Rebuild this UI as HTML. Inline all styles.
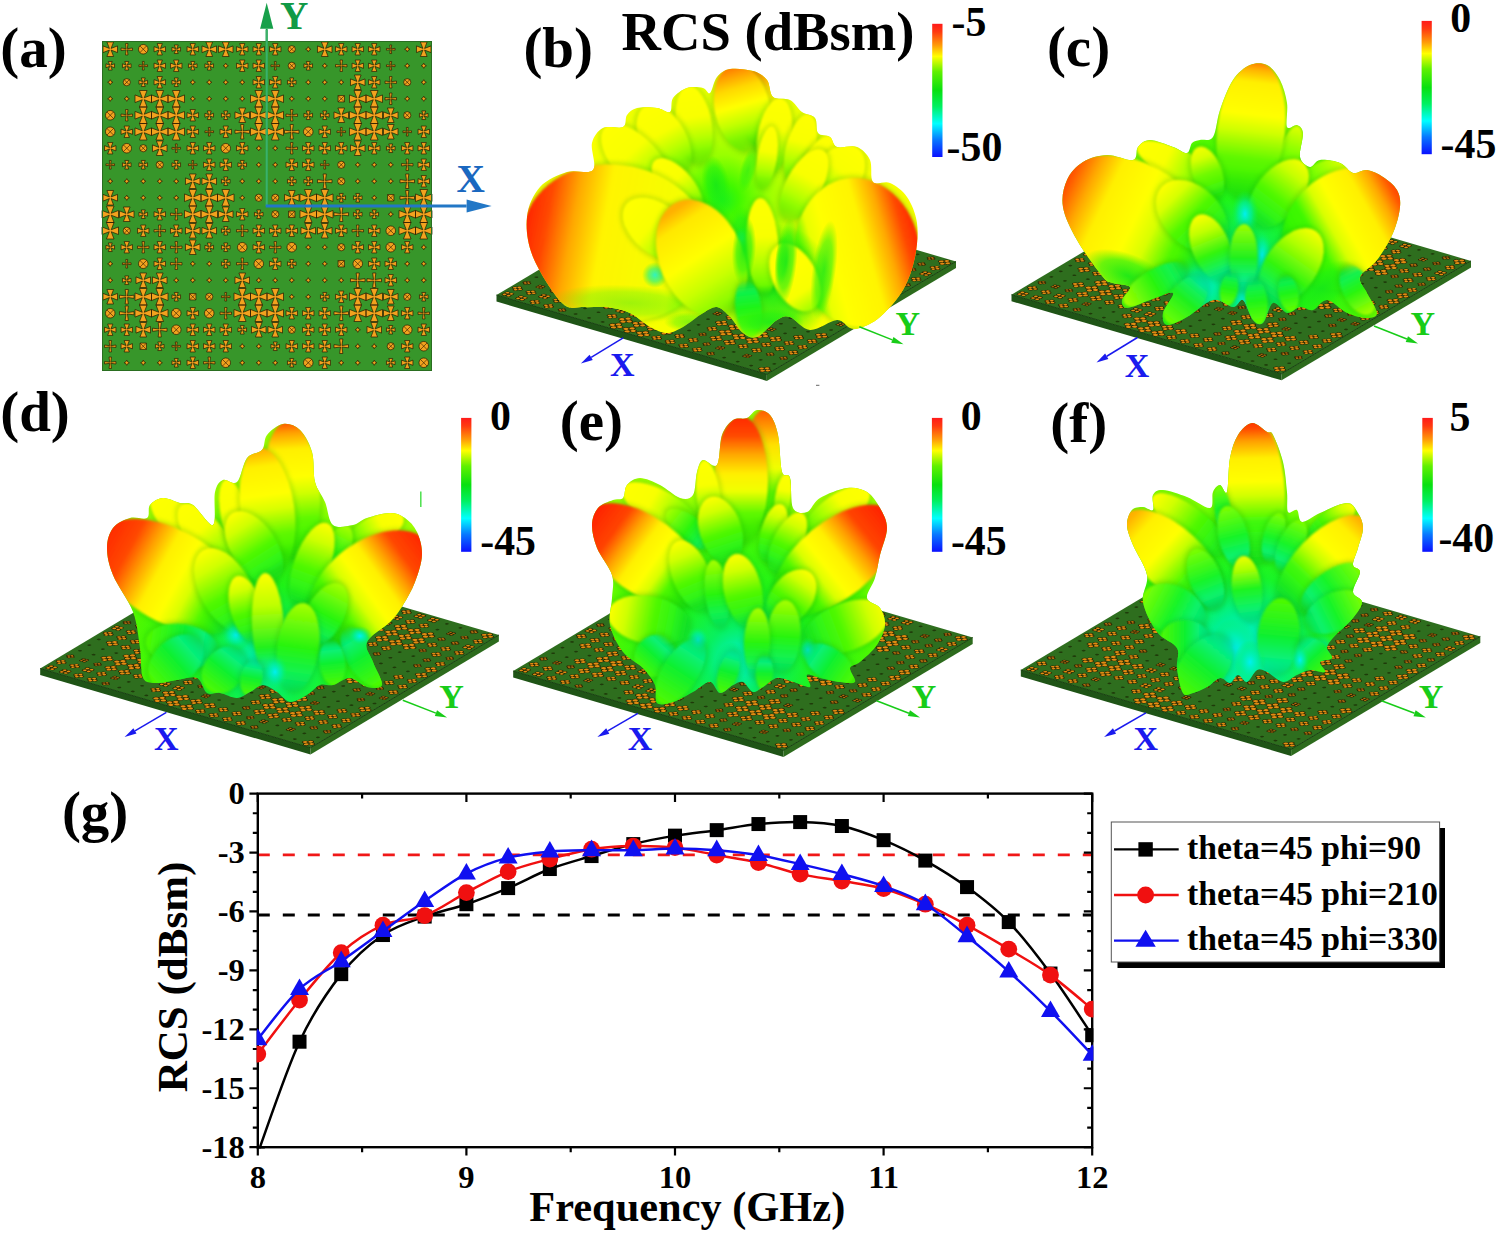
<!DOCTYPE html>
<html><head><meta charset="utf-8"><title>Figure</title>
<style>
html,body{margin:0;padding:0;background:#fff}
svg{display:block}
text{font-family:"Liberation Serif",serif;font-weight:bold;fill:#000}
.pl{font-size:57px}
.cb{font-size:41.8px}
.tt{font-size:54.6px}
.tk{font-size:32.5px}
.axt{font-size:42.4px}
.lg{font-size:33.7px}
.ax{font-size:34px}
</style></head><body>
<svg width="1500" height="1234" viewBox="0 0 1500 1234">
<defs>
<linearGradient id="jet" x1="0" y1="0" x2="0" y2="1">
<stop offset="0" stop-color="#ff1a1a"/><stop offset="0.06" stop-color="#ff3a10"/><stop offset="0.16" stop-color="#ff9a08"/><stop offset="0.245" stop-color="#ffff00"/><stop offset="0.36" stop-color="#60f000"/><stop offset="0.5" stop-color="#08e010"/><stop offset="0.62" stop-color="#00f060"/><stop offset="0.75" stop-color="#00ffff"/><stop offset="0.87" stop-color="#0878ff"/><stop offset="1" stop-color="#0a10ff"/>
</linearGradient>
<radialGradient id="baseb" gradientUnits="userSpaceOnUse" cx="722" cy="200" r="140"><stop offset="0" stop-color="#18f020"/><stop offset="0.12" stop-color="#40f800"/><stop offset="0.32" stop-color="#98ff00"/><stop offset="0.6" stop-color="#d8ff00"/><stop offset="1" stop-color="#f8ff00"/></radialGradient><radialGradient id="basec" gradientUnits="userSpaceOnUse" cx="1235" cy="275" r="170"><stop offset="0" stop-color="#00f0d0"/><stop offset="0.2" stop-color="#08f060"/><stop offset="0.45" stop-color="#20f418"/><stop offset="0.8" stop-color="#50f800"/><stop offset="1" stop-color="#a0ff00"/></radialGradient><radialGradient id="based" gradientUnits="userSpaceOnUse" cx="265" cy="660" r="170"><stop offset="0" stop-color="#00f0d0"/><stop offset="0.2" stop-color="#08f060"/><stop offset="0.45" stop-color="#20f418"/><stop offset="0.8" stop-color="#50f800"/><stop offset="1" stop-color="#a0ff00"/></radialGradient><radialGradient id="basee" gradientUnits="userSpaceOnUse" cx="740" cy="660" r="170"><stop offset="0" stop-color="#00f0d0"/><stop offset="0.2" stop-color="#08f060"/><stop offset="0.45" stop-color="#20f418"/><stop offset="0.8" stop-color="#50f800"/><stop offset="1" stop-color="#a0ff00"/></radialGradient><radialGradient id="basef" gradientUnits="userSpaceOnUse" cx="1245" cy="650" r="150"><stop offset="0" stop-color="#00f0e0"/><stop offset="0.25" stop-color="#00f090"/><stop offset="0.5" stop-color="#18f428"/><stop offset="0.85" stop-color="#40f800"/><stop offset="1" stop-color="#80ff00"/></radialGradient>
<radialGradient id="spC"><stop offset="0" stop-color="#00f0f0" stop-opacity="1"/><stop offset="0.5" stop-color="#00f0a0" stop-opacity="0.7"/><stop offset="1" stop-color="#10f040" stop-opacity="0"/></radialGradient><radialGradient id="spG"><stop offset="0" stop-color="#18e818" stop-opacity="1"/><stop offset="0.6" stop-color="#20f010" stop-opacity="0.7"/><stop offset="1" stop-color="#30f000" stop-opacity="0"/></radialGradient><radialGradient id="spY"><stop offset="0" stop-color="#ffff00" stop-opacity="1"/><stop offset="0.6" stop-color="#f4ff00" stop-opacity="0.7"/><stop offset="1" stop-color="#d0ff00" stop-opacity="0"/></radialGradient><radialGradient id="spO"><stop offset="0" stop-color="#ff8000" stop-opacity="0.9"/><stop offset="0.6" stop-color="#ffa800" stop-opacity="0.6"/><stop offset="1" stop-color="#ffd000" stop-opacity="0"/></radialGradient><radialGradient id="spR"><stop offset="0" stop-color="#ff2000" stop-opacity="1"/><stop offset="0.6" stop-color="#ff5000" stop-opacity="0.7"/><stop offset="1" stop-color="#ff9000" stop-opacity="0"/></radialGradient><radialGradient id="spD"><stop offset="0" stop-color="#0c8c00" stop-opacity="0.8"/><stop offset="0.6" stop-color="#0c9c00" stop-opacity="0.45"/><stop offset="1" stop-color="#10a000" stop-opacity="0"/></radialGradient><filter id="b1" x="-20%" y="-20%" width="140%" height="140%"><feGaussianBlur stdDeviation="0.8"/></filter><filter id="b2" x="-30%" y="-30%" width="160%" height="160%"><feGaussianBlur stdDeviation="2.5"/></filter><filter id="b4" x="-30%" y="-30%" width="160%" height="160%"><feGaussianBlur stdDeviation="4"/></filter>
<g id="pat"><path d="M7.38,7.38 4.91,0.99 11.59,0.99 9.12,7.38 15.51,4.91 15.51,11.59 9.12,9.12 11.59,15.51 4.91,15.51 7.38,9.12 0.99,11.59 0.99,4.91ZM24.18,7.68 23.5,2.56 26,2.56 25.32,7.68 30.44,7 30.44,9.5 25.32,8.82 26,13.94 23.5,13.94 24.18,8.82 19.06,9.5 19.06,7ZM36.47,8.25a4.78,4.78 0 1,0 9.56,0a4.78,4.78 0 1,0 -9.56,0ZM57.07,7.57 55.13,2.56 60.37,2.56 58.43,7.57 63.44,5.63 63.44,10.87 58.43,8.93 60.37,13.94 55.13,13.94 57.07,8.93 52.06,10.87 52.06,5.63ZM73.74,7.74 72.28,3.96 76.22,3.96 74.76,7.74 78.54,6.28 78.54,10.22 74.76,8.76 76.22,12.54 72.28,12.54 73.74,8.76 69.96,10.22 69.96,6.28ZM90.07,7.57 88.13,2.56 93.37,2.56 91.43,7.57 96.44,5.63 96.44,10.87 91.43,8.93 93.37,13.94 88.13,13.94 90.07,8.93 85.06,10.87 85.06,5.63ZM106.38,7.38 103.91,0.99 110.59,0.99 108.12,7.38 114.51,4.91 114.51,11.59 108.12,9.12 110.59,15.51 103.91,15.51 106.38,9.12 99.99,11.59 99.99,4.91ZM122.88,7.38 120.41,0.99 127.09,0.99 124.62,7.38 131.01,4.91 131.01,11.59 124.62,9.12 127.09,15.51 120.41,15.51 122.88,9.12 116.49,11.59 116.49,4.91ZM139.57,7.57 137.63,2.56 142.87,2.56 140.93,7.57 145.94,5.63 145.94,10.87 140.93,8.93 142.87,13.94 137.63,13.94 139.57,8.93 134.56,10.87 134.56,5.63ZM156.07,7.57 154.13,2.56 159.37,2.56 157.43,7.57 162.44,5.63 162.44,10.87 157.43,8.93 159.37,13.94 154.13,13.94 156.07,8.93 151.06,10.87 151.06,5.63ZM172.57,7.57 170.63,2.56 175.87,2.56 173.93,7.57 178.94,5.63 178.94,10.87 173.93,8.93 175.87,13.94 170.63,13.94 172.57,8.93 167.56,10.87 167.56,5.63ZM186.15,8.25a3.6,3.6 0 1,0 7.21,0a3.6,3.6 0 1,0 -7.21,0ZM206.25,5.61 207.17,7.33 208.89,8.25 207.17,9.17 206.25,10.89 205.33,9.17 203.61,8.25 205.33,7.33ZM221.88,7.38 219.41,0.99 226.09,0.99 223.62,7.38 230.01,4.91 230.01,11.59 223.62,9.12 226.09,15.51 219.41,15.51 221.88,9.12 215.49,11.59 215.49,4.91ZM238.57,7.57 236.63,2.56 241.87,2.56 239.93,7.57 244.94,5.63 244.94,10.87 239.93,8.93 241.87,13.94 236.63,13.94 238.57,8.93 233.56,10.87 233.56,5.63ZM255.07,7.57 253.13,2.56 258.37,2.56 256.43,7.57 261.44,5.63 261.44,10.87 256.43,8.93 258.37,13.94 253.13,13.94 255.07,8.93 250.06,10.87 250.06,5.63ZM271.57,7.57 269.63,2.56 274.87,2.56 272.93,7.57 277.94,5.63 277.94,10.87 272.93,8.93 274.87,13.94 269.63,13.94 271.57,8.93 266.56,10.87 266.56,5.63ZM288.32,7.82 287.81,3.96 289.69,3.96 289.18,7.82 293.04,7.31 293.04,9.19 289.18,8.68 289.69,12.54 287.81,12.54 288.32,8.68 284.46,9.19 284.46,7.31ZM305.25,5.61 306.17,7.33 307.89,8.25 306.17,9.17 305.25,10.89 304.33,9.17 302.61,8.25 304.33,7.33ZM320.88,7.38 318.41,0.99 325.09,0.99 322.62,7.38 329.01,4.91 329.01,11.59 322.62,9.12 325.09,15.51 318.41,15.51 320.88,9.12 314.49,11.59 314.49,4.91ZM7.74,24.24 6.28,20.46 10.22,20.46 8.76,24.24 12.54,22.78 12.54,26.72 8.76,25.26 10.22,29.04 6.28,29.04 7.74,25.26 3.96,26.72 3.96,22.78ZM24.24,24.24 22.78,20.46 26.72,20.46 25.26,24.24 29.04,22.78 29.04,26.72 25.26,25.26 26.72,29.04 22.78,29.04 24.24,25.26 20.46,26.72 20.46,22.78ZM40.82,24.32 40.31,20.46 42.19,20.46 41.68,24.32 45.54,23.81 45.54,25.69 41.68,25.18 42.19,29.04 40.31,29.04 40.82,25.18 36.96,25.69 36.96,23.81ZM57.07,24.07 55.13,19.06 60.37,19.06 58.43,24.07 63.44,22.13 63.44,27.37 58.43,25.43 60.37,30.44 55.13,30.44 57.07,25.43 52.06,27.37 52.06,22.13ZM73.57,24.07 71.63,19.06 76.87,19.06 74.93,24.07 79.94,22.13 79.94,27.37 74.93,25.43 76.87,30.44 71.63,30.44 73.57,25.43 68.56,27.37 68.56,22.13ZM90.24,24.24 88.78,20.46 92.72,20.46 91.26,24.24 95.04,22.78 95.04,26.72 91.26,25.26 92.72,29.04 88.78,29.04 90.24,25.26 86.46,26.72 86.46,22.78ZM106.74,24.24 105.28,20.46 109.22,20.46 107.76,24.24 111.54,22.78 111.54,26.72 107.76,25.26 109.22,29.04 105.28,29.04 106.74,25.26 102.96,26.72 102.96,22.78ZM123.75,22.11 124.67,23.83 126.39,24.75 124.67,25.67 123.75,27.39 122.83,25.67 121.11,24.75 122.83,23.83ZM139.57,24.07 137.63,19.06 142.87,19.06 140.93,24.07 145.94,22.13 145.94,27.37 140.93,25.43 142.87,30.44 137.63,30.44 139.57,25.43 134.56,27.37 134.56,22.13ZM156.07,24.07 154.13,19.06 159.37,19.06 157.43,24.07 162.44,22.13 162.44,27.37 157.43,25.43 159.37,30.44 154.13,30.44 156.07,25.43 151.06,27.37 151.06,22.13ZM172.82,24.32 172.31,20.46 174.19,20.46 173.68,24.32 177.54,23.81 177.54,25.69 173.68,25.18 174.19,29.04 172.31,29.04 172.82,25.18 168.96,25.69 168.96,23.81ZM186.15,24.75a3.6,3.6 0 1,0 7.21,0a3.6,3.6 0 1,0 -7.21,0ZM205.74,24.24 204.28,20.46 208.22,20.46 206.76,24.24 210.54,22.78 210.54,26.72 206.76,25.26 208.22,29.04 204.28,29.04 205.74,25.26 201.96,26.72 201.96,22.78ZM222.75,22.11 223.67,23.83 225.39,24.75 223.67,25.67 222.75,27.39 221.83,25.67 220.11,24.75 221.83,23.83ZM238.68,24.18 238,19.06 240.5,19.06 239.82,24.18 244.94,23.5 244.94,26 239.82,25.32 240.5,30.44 238,30.44 238.68,25.32 233.56,26 233.56,23.5ZM255.07,24.07 253.13,19.06 258.37,19.06 256.43,24.07 261.44,22.13 261.44,27.37 256.43,25.43 258.37,30.44 253.13,30.44 255.07,25.43 250.06,27.37 250.06,22.13ZM271.57,24.07 269.63,19.06 274.87,19.06 272.93,24.07 277.94,22.13 277.94,27.37 272.93,25.43 274.87,30.44 269.63,30.44 271.57,25.43 266.56,27.37 266.56,22.13ZM288.32,24.32 287.81,20.46 289.69,20.46 289.18,24.32 293.04,23.81 293.04,25.69 289.18,25.18 289.69,29.04 287.81,29.04 288.32,25.18 284.46,25.69 284.46,23.81ZM305.25,22.11 306.17,23.83 307.89,24.75 306.17,25.67 305.25,27.39 304.33,25.67 302.61,24.75 304.33,23.83ZM321.75,22.11 322.67,23.83 324.39,24.75 322.67,25.67 321.75,27.39 320.83,25.67 319.11,24.75 320.83,23.83ZM8.25,38.61 9.17,40.33 10.89,41.25 9.17,42.17 8.25,43.89 7.33,42.17 5.61,41.25 7.33,40.33ZM21.15,41.25a3.6,3.6 0 1,0 7.21,0a3.6,3.6 0 1,0 -7.21,0ZM40.74,40.74 39.28,36.96 43.22,36.96 41.76,40.74 45.54,39.28 45.54,43.22 41.76,41.76 43.22,45.54 39.28,45.54 40.74,41.76 36.96,43.22 36.96,39.28ZM57.07,40.57 55.13,35.56 60.37,35.56 58.43,40.57 63.44,38.63 63.44,43.87 58.43,41.93 60.37,46.94 55.13,46.94 57.07,41.93 52.06,43.87 52.06,38.63ZM73.74,40.74 72.28,36.96 76.22,36.96 74.76,40.74 78.54,39.28 78.54,43.22 74.76,41.76 76.22,45.54 72.28,45.54 73.74,41.76 69.96,43.22 69.96,39.28ZM90.75,38.61 91.67,40.33 93.39,41.25 91.67,42.17 90.75,43.89 89.83,42.17 88.11,41.25 89.83,40.33ZM107.25,38.61 108.17,40.33 109.89,41.25 108.17,42.17 107.25,43.89 106.33,42.17 104.61,41.25 106.33,40.33ZM123.75,38.61 124.67,40.33 126.39,41.25 124.67,42.17 123.75,43.89 122.83,42.17 121.11,41.25 122.83,40.33ZM140.25,38.61 141.17,40.33 142.89,41.25 141.17,42.17 140.25,43.89 139.33,42.17 137.61,41.25 139.33,40.33ZM156.07,40.57 154.13,35.56 159.37,35.56 157.43,40.57 162.44,38.63 162.44,43.87 157.43,41.93 159.37,46.94 154.13,46.94 156.07,41.93 151.06,43.87 151.06,38.63ZM172.57,40.57 170.63,35.56 175.87,35.56 173.93,40.57 178.94,38.63 178.94,43.87 173.93,41.93 175.87,46.94 170.63,46.94 172.57,41.93 167.56,43.87 167.56,38.63ZM189.24,40.74 187.78,36.96 191.72,36.96 190.26,40.74 194.04,39.28 194.04,43.22 190.26,41.76 191.72,45.54 187.78,45.54 189.24,41.76 185.46,43.22 185.46,39.28ZM206.25,38.61 207.17,40.33 208.89,41.25 207.17,42.17 206.25,43.89 205.33,42.17 203.61,41.25 205.33,40.33ZM222.75,38.61 223.67,40.33 225.39,41.25 223.67,42.17 222.75,43.89 221.83,42.17 220.11,41.25 221.83,40.33ZM239.25,38.61 240.17,40.33 241.89,41.25 240.17,42.17 239.25,43.89 238.33,42.17 236.61,41.25 238.33,40.33ZM254.88,40.38 252.41,33.99 259.09,33.99 256.62,40.38 263.01,37.91 263.01,44.59 256.62,42.12 259.09,48.51 252.41,48.51 254.88,42.12 248.49,44.59 248.49,37.91ZM271.57,40.57 269.63,35.56 274.87,35.56 272.93,40.57 277.94,38.63 277.94,43.87 272.93,41.93 274.87,46.94 269.63,46.94 271.57,41.93 266.56,43.87 266.56,38.63ZM288.18,40.68 287.5,35.56 290,35.56 289.32,40.68 294.44,40 294.44,42.5 289.32,41.82 290,46.94 287.5,46.94 288.18,41.82 283.06,42.5 283.06,40ZM301.65,41.25a3.6,3.6 0 1,0 7.21,0a3.6,3.6 0 1,0 -7.21,0ZM321.75,38.61 322.67,40.33 324.39,41.25 322.67,42.17 321.75,43.89 320.83,42.17 319.11,41.25 320.83,40.33ZM8.25,55.11 9.17,56.83 10.89,57.75 9.17,58.67 8.25,60.39 7.33,58.67 5.61,57.75 7.33,56.83ZM24.75,55.11 25.67,56.83 27.39,57.75 25.67,58.67 24.75,60.39 23.83,58.67 22.11,57.75 23.83,56.83ZM40.26,56.76 37.45,49.5 45.05,49.5 42.24,56.76 49.5,53.95 49.5,61.55 42.24,58.74 45.05,66 37.45,66 40.26,58.74 33,61.55 33,53.95ZM56.76,56.76 53.95,49.5 61.55,49.5 58.74,56.76 66,53.95 66,61.55 58.74,58.74 61.55,66 53.95,66 56.76,58.74 49.5,61.55 49.5,53.95ZM73.26,56.76 70.45,49.5 78.05,49.5 75.24,56.76 82.5,53.95 82.5,61.55 75.24,58.74 78.05,66 70.45,66 73.26,58.74 66,61.55 66,53.95ZM90.75,55.11 91.67,56.83 93.39,57.75 91.67,58.67 90.75,60.39 89.83,58.67 88.11,57.75 89.83,56.83ZM107.25,55.11 108.17,56.83 109.89,57.75 108.17,58.67 107.25,60.39 106.33,58.67 104.61,57.75 106.33,56.83ZM123.75,55.11 124.67,56.83 126.39,57.75 124.67,58.67 123.75,60.39 122.83,58.67 121.11,57.75 122.83,56.83ZM140.25,55.11 141.17,56.83 142.89,57.75 141.17,58.67 140.25,60.39 139.33,58.67 137.61,57.75 139.33,56.83ZM155.76,56.76 152.96,49.5 160.54,49.5 157.74,56.76 165,53.95 165,61.55 157.74,58.74 160.54,66 152.96,66 155.76,58.74 148.5,61.55 148.5,53.95ZM172.26,56.76 169.46,49.5 177.04,49.5 174.24,56.76 181.5,53.95 181.5,61.55 174.24,58.74 177.04,66 169.46,66 172.26,58.74 165,61.55 165,53.95ZM189.75,55.11 190.67,56.83 192.39,57.75 190.67,58.67 189.75,60.39 188.83,58.67 187.11,57.75 188.83,56.83ZM206.25,55.11 207.17,56.83 208.89,57.75 207.17,58.67 206.25,60.39 205.33,58.67 203.61,57.75 205.33,56.83ZM222.75,55.11 223.67,56.83 225.39,57.75 223.67,58.67 222.75,60.39 221.83,58.67 220.11,57.75 221.83,56.83ZM236.08,54.58h6.35v6.35h-6.35ZM254.76,56.76 251.96,49.5 259.55,49.5 256.74,56.76 264,53.95 264,61.55 256.74,58.74 259.55,66 251.96,66 254.76,58.74 247.5,61.55 247.5,53.95ZM271.26,56.76 268.45,49.5 276.05,49.5 273.24,56.76 280.5,53.95 280.5,61.55 273.24,58.74 276.05,66 268.45,66 271.26,58.74 264,61.55 264,53.95ZM288.18,57.18 287.5,52.06 290,52.06 289.32,57.18 294.44,56.5 294.44,59 289.32,58.32 290,63.44 287.5,63.44 288.18,58.32 283.06,59 283.06,56.5ZM305.25,55.11 306.17,56.83 307.89,57.75 306.17,58.67 305.25,60.39 304.33,58.67 302.61,57.75 304.33,56.83ZM321.75,55.11 322.67,56.83 324.39,57.75 322.67,58.67 321.75,60.39 320.83,58.67 319.11,57.75 320.83,56.83ZM3.47,74.25a4.78,4.78 0 1,0 9.56,0a4.78,4.78 0 1,0 -9.56,0ZM24.18,73.68 23.5,68.56 26,68.56 25.32,73.68 30.44,73 30.44,75.5 25.32,74.82 26,79.94 23.5,79.94 24.18,74.82 19.06,75.5 19.06,73ZM40.26,73.26 37.45,66 45.05,66 42.24,73.26 49.5,70.45 49.5,78.05 42.24,75.24 45.05,82.5 37.45,82.5 40.26,75.24 33,78.05 33,70.45ZM56.76,73.26 53.95,66 61.55,66 58.74,73.26 66,70.45 66,78.05 58.74,75.24 61.55,82.5 53.95,82.5 56.76,75.24 49.5,78.05 49.5,70.45ZM73.26,73.26 70.45,66 78.05,66 75.24,73.26 82.5,70.45 82.5,78.05 75.24,75.24 78.05,82.5 70.45,82.5 73.26,75.24 66,78.05 66,70.45ZM90.07,73.57 88.13,68.56 93.37,68.56 91.43,73.57 96.44,71.63 96.44,76.87 91.43,74.93 93.37,79.94 88.13,79.94 90.07,74.93 85.06,76.87 85.06,71.63ZM106.74,73.74 105.28,69.96 109.22,69.96 107.76,73.74 111.54,72.28 111.54,76.22 107.76,74.76 109.22,78.54 105.28,78.54 106.74,74.76 102.96,76.22 102.96,72.28ZM123.24,73.74 121.78,69.96 125.72,69.96 124.26,73.74 128.04,72.28 128.04,76.22 124.26,74.76 125.72,78.54 121.78,78.54 123.24,74.76 119.46,76.22 119.46,72.28ZM139.38,73.38 136.91,66.99 143.59,66.99 141.12,73.38 147.51,70.91 147.51,77.59 141.12,75.12 143.59,81.51 136.91,81.51 139.38,75.12 132.99,77.59 132.99,70.91ZM155.76,73.26 152.96,66 160.54,66 157.74,73.26 165,70.45 165,78.05 157.74,75.24 160.54,82.5 152.96,82.5 155.76,75.24 148.5,78.05 148.5,70.45ZM172.26,73.26 169.46,66 177.04,66 174.24,73.26 181.5,70.45 181.5,78.05 174.24,75.24 177.04,82.5 169.46,82.5 172.26,75.24 165,78.05 165,70.45ZM189.18,73.68 188.5,68.56 191,68.56 190.32,73.68 195.44,73 195.44,75.5 190.32,74.82 191,79.94 188.5,79.94 189.18,74.82 184.06,75.5 184.06,73ZM205.74,73.74 204.28,69.96 208.22,69.96 206.76,73.74 210.54,72.28 210.54,76.22 206.76,74.76 208.22,78.54 204.28,78.54 205.74,74.76 201.96,76.22 201.96,72.28ZM222.24,73.74 220.78,69.96 224.72,69.96 223.26,73.74 227.04,72.28 227.04,76.22 223.26,74.76 224.72,78.54 220.78,78.54 222.24,74.76 218.46,76.22 218.46,72.28ZM238.38,73.38 235.91,66.99 242.59,66.99 240.12,73.38 246.51,70.91 246.51,77.59 240.12,75.12 242.59,81.51 235.91,81.51 238.38,75.12 231.99,77.59 231.99,70.91ZM254.76,73.26 251.96,66 259.55,66 256.74,73.26 264,70.45 264,78.05 256.74,75.24 259.55,82.5 251.96,82.5 254.76,75.24 247.5,78.05 247.5,70.45ZM271.26,73.26 268.45,66 276.05,66 273.24,73.26 280.5,70.45 280.5,78.05 273.24,75.24 276.05,82.5 268.45,82.5 271.26,75.24 264,78.05 264,70.45ZM287.88,73.38 285.41,66.99 292.09,66.99 289.62,73.38 296.01,70.91 296.01,77.59 289.62,75.12 292.09,81.51 285.41,81.51 287.88,75.12 281.49,77.59 281.49,70.91ZM301.65,74.25a3.6,3.6 0 1,0 7.21,0a3.6,3.6 0 1,0 -7.21,0ZM321.24,73.74 319.78,69.96 323.72,69.96 322.26,73.74 326.04,72.28 326.04,76.22 322.26,74.76 323.72,78.54 319.78,78.54 321.24,74.76 317.46,76.22 317.46,72.28ZM3.47,90.75a4.78,4.78 0 1,0 9.56,0a4.78,4.78 0 1,0 -9.56,0ZM24.07,90.07 22.13,85.06 27.37,85.06 25.43,90.07 30.44,88.13 30.44,93.37 25.43,91.43 27.37,96.44 22.13,96.44 24.07,91.43 19.06,93.37 19.06,88.13ZM40.26,89.76 37.45,82.5 45.05,82.5 42.24,89.76 49.5,86.95 49.5,94.55 42.24,91.74 45.05,99 37.45,99 40.26,91.74 33,94.55 33,86.95ZM56.76,89.76 53.95,82.5 61.55,82.5 58.74,89.76 66,86.95 66,94.55 58.74,91.74 61.55,99 53.95,99 56.76,91.74 49.5,94.55 49.5,86.95ZM73.26,89.76 70.45,82.5 78.05,82.5 75.24,89.76 82.5,86.95 82.5,94.55 75.24,91.74 78.05,99 70.45,99 73.26,91.74 66,94.55 66,86.95ZM90.07,90.07 88.13,85.06 93.37,85.06 91.43,90.07 96.44,88.13 96.44,93.37 91.43,91.43 93.37,96.44 88.13,96.44 90.07,91.43 85.06,93.37 85.06,88.13ZM106.82,90.32 106.31,86.46 108.19,86.46 107.68,90.32 111.54,89.81 111.54,91.69 107.68,91.18 108.19,95.04 106.31,95.04 106.82,91.18 102.96,91.69 102.96,89.81ZM123.07,90.07 121.13,85.06 126.37,85.06 124.43,90.07 129.44,88.13 129.44,93.37 124.43,91.43 126.37,96.44 121.13,96.44 123.07,91.43 118.06,93.37 118.06,88.13ZM139.52,90.02 138.65,83.49 141.85,83.49 140.98,90.02 147.51,89.15 147.51,92.35 140.98,91.48 141.85,98.01 138.65,98.01 139.52,91.48 132.99,92.35 132.99,89.15ZM155.76,89.76 152.96,82.5 160.54,82.5 157.74,89.76 165,86.95 165,94.55 157.74,91.74 160.54,99 152.96,99 155.76,91.74 148.5,94.55 148.5,86.95ZM172.26,89.76 169.46,82.5 177.04,82.5 174.24,89.76 181.5,86.95 181.5,94.55 174.24,91.74 177.04,99 169.46,99 172.26,91.74 165,94.55 165,86.95ZM189.02,90.02 188.15,83.49 191.35,83.49 190.48,90.02 197.01,89.15 197.01,92.35 190.48,91.48 191.35,98.01 188.15,98.01 189.02,91.48 182.49,92.35 182.49,89.15ZM201.47,90.75a4.78,4.78 0 1,0 9.56,0a4.78,4.78 0 1,0 -9.56,0ZM222.07,90.07 220.13,85.06 225.37,85.06 223.43,90.07 228.44,88.13 228.44,93.37 223.43,91.43 225.37,96.44 220.13,96.44 222.07,91.43 217.06,93.37 217.06,88.13ZM238.82,90.32 238.31,86.46 240.19,86.46 239.68,90.32 243.54,89.81 243.54,91.69 239.68,91.18 240.19,95.04 238.31,95.04 238.82,91.18 234.96,91.69 234.96,89.81ZM254.76,89.76 251.96,82.5 259.55,82.5 256.74,89.76 264,86.95 264,94.55 256.74,91.74 259.55,99 251.96,99 254.76,91.74 247.5,94.55 247.5,86.95ZM271.26,89.76 268.45,82.5 276.05,82.5 273.24,89.76 280.5,86.95 280.5,94.55 273.24,91.74 276.05,99 268.45,99 271.26,91.74 264,94.55 264,86.95ZM287.88,89.88 285.41,83.49 292.09,83.49 289.62,89.88 296.01,87.41 296.01,94.09 289.62,91.62 292.09,98.01 285.41,98.01 287.88,91.62 281.49,94.09 281.49,87.41ZM304.82,90.32 304.31,86.46 306.19,86.46 305.68,90.32 309.54,89.81 309.54,91.69 305.68,91.18 306.19,95.04 304.31,95.04 304.82,91.18 300.96,91.69 300.96,89.81ZM321.07,90.07 319.13,85.06 324.37,85.06 322.43,90.07 327.44,88.13 327.44,93.37 322.43,91.43 324.37,96.44 319.13,96.44 321.07,91.43 316.06,93.37 316.06,88.13ZM7.57,106.57 5.63,101.56 10.87,101.56 8.93,106.57 13.94,104.63 13.94,109.87 8.93,107.93 10.87,112.94 5.63,112.94 7.57,107.93 2.56,109.87 2.56,104.63ZM19.97,107.25a4.78,4.78 0 1,0 9.56,0a4.78,4.78 0 1,0 -9.56,0ZM37.65,107.25a3.6,3.6 0 1,0 7.21,0a3.6,3.6 0 1,0 -7.21,0ZM56.88,106.38 54.41,99.99 61.09,99.99 58.62,106.38 65.01,103.91 65.01,110.59 58.62,108.12 61.09,114.51 54.41,114.51 56.88,108.12 50.49,110.59 50.49,103.91ZM73.82,106.82 73.31,102.96 75.19,102.96 74.68,106.82 78.54,106.31 78.54,108.19 74.68,107.68 75.19,111.54 73.31,111.54 73.82,107.68 69.96,108.19 69.96,106.31ZM90.07,106.57 88.13,101.56 93.37,101.56 91.43,106.57 96.44,104.63 96.44,109.87 91.43,107.93 93.37,112.94 88.13,112.94 90.07,107.93 85.06,109.87 85.06,104.63ZM106.57,106.57 104.63,101.56 109.87,101.56 107.93,106.57 112.94,104.63 112.94,109.87 107.93,107.93 109.87,112.94 104.63,112.94 106.57,107.93 101.56,109.87 101.56,104.63ZM118.97,107.25a4.78,4.78 0 1,0 9.56,0a4.78,4.78 0 1,0 -9.56,0ZM139.57,106.57 137.63,101.56 142.87,101.56 140.93,106.57 145.94,104.63 145.94,109.87 140.93,107.93 142.87,112.94 137.63,112.94 139.57,107.93 134.56,109.87 134.56,104.63ZM156.75,104.61 157.67,106.33 159.39,107.25 157.67,108.17 156.75,109.89 155.83,108.17 154.11,107.25 155.83,106.33ZM173.25,104.61 174.17,106.33 175.89,107.25 174.17,108.17 173.25,109.89 172.33,108.17 170.61,107.25 172.33,106.33ZM189.18,106.68 188.5,101.56 191,101.56 190.32,106.68 195.44,106 195.44,108.5 190.32,107.82 191,112.94 188.5,112.94 189.18,107.82 184.06,108.5 184.06,106ZM205.57,106.57 203.63,101.56 208.87,101.56 206.93,106.57 211.94,104.63 211.94,109.87 206.93,107.93 208.87,112.94 203.63,112.94 205.57,107.93 200.56,109.87 200.56,104.63ZM222.07,106.57 220.13,101.56 225.37,101.56 223.43,106.57 228.44,104.63 228.44,109.87 223.43,107.93 225.37,112.94 220.13,112.94 222.07,107.93 217.06,109.87 217.06,104.63ZM238.57,106.57 236.63,101.56 241.87,101.56 239.93,106.57 244.94,104.63 244.94,109.87 239.93,107.93 241.87,112.94 236.63,112.94 238.57,107.93 233.56,109.87 233.56,104.63ZM254.88,106.38 252.41,99.99 259.09,99.99 256.62,106.38 263.01,103.91 263.01,110.59 256.62,108.12 259.09,114.51 252.41,114.51 254.88,108.12 248.49,110.59 248.49,103.91ZM271.57,106.57 269.63,101.56 274.87,101.56 272.93,106.57 277.94,104.63 277.94,109.87 272.93,107.93 274.87,112.94 269.63,112.94 271.57,107.93 266.56,109.87 266.56,104.63ZM288.24,106.74 286.78,102.96 290.72,102.96 289.26,106.74 293.04,105.28 293.04,109.22 289.26,107.76 290.72,111.54 286.78,111.54 288.24,107.76 284.46,109.22 284.46,105.28ZM304.57,106.57 302.63,101.56 307.87,101.56 305.93,106.57 310.94,104.63 310.94,109.87 305.93,107.93 307.87,112.94 302.63,112.94 304.57,107.93 299.56,109.87 299.56,104.63ZM321.07,106.57 319.13,101.56 324.37,101.56 322.43,106.57 327.44,104.63 327.44,109.87 322.43,107.93 324.37,112.94 319.13,112.94 321.07,107.93 316.06,109.87 316.06,104.63ZM7.82,123.32 7.31,119.46 9.19,119.46 8.68,123.32 12.54,122.81 12.54,124.69 8.68,124.18 9.19,128.04 7.31,128.04 7.82,124.18 3.96,124.69 3.96,122.81ZM24.24,123.24 22.78,119.46 26.72,119.46 25.26,123.24 29.04,121.78 29.04,125.72 25.26,124.26 26.72,128.04 22.78,128.04 24.24,124.26 20.46,125.72 20.46,121.78ZM40.74,123.24 39.28,119.46 43.22,119.46 41.76,123.24 45.54,121.78 45.54,125.72 41.76,124.26 43.22,128.04 39.28,128.04 40.74,124.26 36.96,125.72 36.96,121.78ZM54.15,123.75a3.6,3.6 0 1,0 7.21,0a3.6,3.6 0 1,0 -7.21,0ZM73.74,123.24 72.28,119.46 76.22,119.46 74.76,123.24 78.54,121.78 78.54,125.72 74.76,124.26 76.22,128.04 72.28,128.04 73.74,124.26 69.96,125.72 69.96,121.78ZM90.32,123.32 89.81,119.46 91.69,119.46 91.18,123.32 95.04,122.81 95.04,124.69 91.18,124.18 91.69,128.04 89.81,128.04 90.32,124.18 86.46,124.69 86.46,122.81ZM106.57,123.07 104.63,118.06 109.87,118.06 107.93,123.07 112.94,121.13 112.94,126.37 107.93,124.43 109.87,129.44 104.63,129.44 106.57,124.43 101.56,126.37 101.56,121.13ZM123.07,123.07 121.13,118.06 126.37,118.06 124.43,123.07 129.44,121.13 129.44,126.37 124.43,124.43 126.37,129.44 121.13,129.44 123.07,124.43 118.06,126.37 118.06,121.13ZM139.74,123.24 138.28,119.46 142.22,119.46 140.76,123.24 144.54,121.78 144.54,125.72 140.76,124.26 142.22,128.04 138.28,128.04 139.74,124.26 135.96,125.72 135.96,121.78ZM156.75,121.11 157.67,122.83 159.39,123.75 157.67,124.67 156.75,126.39 155.83,124.67 154.11,123.75 155.83,122.83ZM173.25,121.11 174.17,122.83 175.89,123.75 174.17,124.67 173.25,126.39 172.33,124.67 170.61,123.75 172.33,122.83ZM189.07,123.07 187.13,118.06 192.37,118.06 190.43,123.07 195.44,121.13 195.44,126.37 190.43,124.43 192.37,129.44 187.13,129.44 189.07,124.43 184.06,126.37 184.06,121.13ZM205.57,123.07 203.63,118.06 208.87,118.06 206.93,123.07 211.94,121.13 211.94,126.37 206.93,124.43 208.87,129.44 203.63,129.44 205.57,124.43 200.56,126.37 200.56,121.13ZM222.32,123.32 221.81,119.46 223.69,119.46 223.18,123.32 227.04,122.81 227.04,124.69 223.18,124.18 223.69,128.04 221.81,128.04 222.32,124.18 218.46,124.69 218.46,122.81ZM235.65,123.75a3.6,3.6 0 1,0 7.21,0a3.6,3.6 0 1,0 -7.21,0ZM255.75,121.11 256.67,122.83 258.39,123.75 256.67,124.67 255.75,126.39 254.83,124.67 253.11,123.75 254.83,122.83ZM272.25,121.11 273.17,122.83 274.89,123.75 273.17,124.67 272.25,126.39 271.33,124.67 269.61,123.75 271.33,122.83ZM288.75,121.11 289.67,122.83 291.39,123.75 289.67,124.67 288.75,126.39 287.83,124.67 286.11,123.75 287.83,122.83ZM304.68,123.18 304,118.06 306.5,118.06 305.82,123.18 310.94,122.5 310.94,125 305.82,124.32 306.5,129.44 304,129.44 304.68,124.32 299.56,125 299.56,122.5ZM321.07,123.07 319.13,118.06 324.37,118.06 322.43,123.07 327.44,121.13 327.44,126.37 322.43,124.43 324.37,129.44 319.13,129.44 321.07,124.43 316.06,126.37 316.06,121.13ZM8.25,137.61 9.17,139.33 10.89,140.25 9.17,141.17 8.25,142.89 7.33,141.17 5.61,140.25 7.33,139.33ZM24.75,137.61 25.67,139.33 27.39,140.25 25.67,141.17 24.75,142.89 23.83,141.17 22.11,140.25 23.83,139.33ZM41.25,137.61 42.17,139.33 43.89,140.25 42.17,141.17 41.25,142.89 40.33,141.17 38.61,140.25 40.33,139.33ZM57.75,137.61 58.67,139.33 60.39,140.25 58.67,141.17 57.75,142.89 56.83,141.17 55.11,140.25 56.83,139.33ZM74.25,137.61 75.17,139.33 76.89,140.25 75.17,141.17 74.25,142.89 73.33,141.17 71.61,140.25 73.33,139.33ZM89.88,139.38 87.41,132.99 94.09,132.99 91.62,139.38 98.01,136.91 98.01,143.59 91.62,141.12 94.09,147.51 87.41,147.51 89.88,141.12 83.49,143.59 83.49,136.91ZM106.38,139.38 103.91,132.99 110.59,132.99 108.12,139.38 114.51,136.91 114.51,143.59 108.12,141.12 110.59,147.51 103.91,147.51 106.38,141.12 99.99,143.59 99.99,136.91ZM123.24,139.74 121.78,135.96 125.72,135.96 124.26,139.74 128.04,138.28 128.04,142.22 124.26,140.76 125.72,144.54 121.78,144.54 123.24,140.76 119.46,142.22 119.46,138.28ZM140.25,137.61 141.17,139.33 142.89,140.25 141.17,141.17 140.25,142.89 139.33,141.17 137.61,140.25 139.33,139.33ZM156.75,137.61 157.67,139.33 159.39,140.25 157.67,141.17 156.75,142.89 155.83,141.17 154.11,140.25 155.83,139.33ZM173.25,137.61 174.17,139.33 175.89,140.25 174.17,141.17 173.25,142.89 172.33,141.17 170.61,140.25 172.33,139.33ZM189.24,139.74 187.78,135.96 191.72,135.96 190.26,139.74 194.04,138.28 194.04,142.22 190.26,140.76 191.72,144.54 187.78,144.54 189.24,140.76 185.46,142.22 185.46,138.28ZM205.74,139.74 204.28,135.96 208.22,135.96 206.76,139.74 210.54,138.28 210.54,142.22 206.76,140.76 208.22,144.54 204.28,144.54 205.74,140.76 201.96,142.22 201.96,138.28ZM222.02,139.52 221.15,132.99 224.35,132.99 223.48,139.52 230.01,138.65 230.01,141.85 223.48,140.98 224.35,147.51 221.15,147.51 222.02,140.98 215.49,141.85 215.49,138.65ZM235.65,140.25a3.6,3.6 0 1,0 7.21,0a3.6,3.6 0 1,0 -7.21,0ZM255.75,137.61 256.67,139.33 258.39,140.25 256.67,141.17 255.75,142.89 254.83,141.17 253.11,140.25 254.83,139.33ZM272.25,137.61 273.17,139.33 274.89,140.25 273.17,141.17 272.25,142.89 271.33,141.17 269.61,140.25 271.33,139.33ZM288.75,137.61 289.67,139.33 291.39,140.25 289.67,141.17 288.75,142.89 287.83,141.17 286.11,140.25 287.83,139.33ZM304.52,139.52 303.65,132.99 306.85,132.99 305.98,139.52 312.51,138.65 312.51,141.85 305.98,140.98 306.85,147.51 303.65,147.51 304.52,140.98 297.99,141.85 297.99,138.65ZM321.07,139.57 319.13,134.56 324.37,134.56 322.43,139.57 327.44,137.63 327.44,142.87 322.43,140.93 324.37,145.94 319.13,145.94 321.07,140.93 316.06,142.87 316.06,137.63ZM7.38,155.88 4.91,149.49 11.59,149.49 9.12,155.88 15.51,153.41 15.51,160.09 9.12,157.62 11.59,164.01 4.91,164.01 7.38,157.62 0.99,160.09 0.99,153.41ZM24.75,154.11 25.67,155.83 27.39,156.75 25.67,157.67 24.75,159.39 23.83,157.67 22.11,156.75 23.83,155.83ZM41.25,154.11 42.17,155.83 43.89,156.75 42.17,157.67 41.25,159.39 40.33,157.67 38.61,156.75 40.33,155.83ZM57.75,154.11 58.67,155.83 60.39,156.75 58.67,157.67 57.75,159.39 56.83,157.67 55.11,156.75 56.83,155.83ZM74.25,154.11 75.17,155.83 76.89,156.75 75.17,157.67 74.25,159.39 73.33,157.67 71.61,156.75 73.33,155.83ZM89.76,155.76 86.95,148.5 94.55,148.5 91.74,155.76 99,152.96 99,160.54 91.74,157.74 94.55,165 86.95,165 89.76,157.74 82.5,160.54 82.5,152.96ZM106.26,155.76 103.45,148.5 111.05,148.5 108.24,155.76 115.5,152.96 115.5,160.54 108.24,157.74 111.05,165 103.45,165 106.26,157.74 99,160.54 99,152.96ZM122.76,155.76 119.95,148.5 127.55,148.5 124.74,155.76 132,152.96 132,160.54 124.74,157.74 127.55,165 119.95,165 122.76,157.74 115.5,160.54 115.5,152.96ZM140.25,154.11 141.17,155.83 142.89,156.75 141.17,157.67 140.25,159.39 139.33,157.67 137.61,156.75 139.33,155.83ZM153.15,156.75a3.6,3.6 0 1,0 7.21,0a3.6,3.6 0 1,0 -7.21,0ZM169.65,156.75a3.6,3.6 0 1,0 7.21,0a3.6,3.6 0 1,0 -7.21,0ZM188.88,155.88 186.41,149.49 193.09,149.49 190.62,155.88 197.01,153.41 197.01,160.09 190.62,157.62 193.09,164.01 186.41,164.01 188.88,157.62 182.49,160.09 182.49,153.41ZM205.26,155.76 202.46,148.5 210.04,148.5 207.24,155.76 214.5,152.96 214.5,160.54 207.24,157.74 210.04,165 202.46,165 205.26,157.74 198,160.54 198,152.96ZM221.76,155.76 218.96,148.5 226.54,148.5 223.74,155.76 231,152.96 231,160.54 223.74,157.74 226.54,165 218.96,165 221.76,157.74 214.5,160.54 214.5,152.96ZM238.74,156.24 237.28,152.46 241.22,152.46 239.76,156.24 243.54,154.78 243.54,158.72 239.76,157.26 241.22,161.04 237.28,161.04 238.74,157.26 234.96,158.72 234.96,154.78ZM255.24,156.24 253.78,152.46 257.72,152.46 256.26,156.24 260.04,154.78 260.04,158.72 256.26,157.26 257.72,161.04 253.78,161.04 255.24,157.26 251.46,158.72 251.46,154.78ZM272.25,154.11 273.17,155.83 274.89,156.75 273.17,157.67 272.25,159.39 271.33,157.67 269.61,156.75 271.33,155.83ZM285.58,153.58h6.35v6.35h-6.35ZM304.52,156.02 303.65,149.49 306.85,149.49 305.98,156.02 312.51,155.15 312.51,158.35 305.98,157.48 306.85,164.01 303.65,164.01 304.52,157.48 297.99,158.35 297.99,155.15ZM320.76,155.76 317.95,148.5 325.55,148.5 322.74,155.76 330,152.96 330,160.54 322.74,157.74 325.55,165 317.95,165 320.76,157.74 313.5,160.54 313.5,152.96ZM7.26,172.26 4.46,165 12.04,165 9.24,172.26 16.5,169.46 16.5,177.04 9.24,174.24 12.04,181.5 4.46,181.5 7.26,174.24 0,177.04 0,169.46ZM23.88,172.38 21.41,165.99 28.09,165.99 25.62,172.38 32.01,169.91 32.01,176.59 25.62,174.12 28.09,180.51 21.41,180.51 23.88,174.12 17.49,176.59 17.49,169.91ZM40.74,172.74 39.28,168.96 43.22,168.96 41.76,172.74 45.54,171.28 45.54,175.22 41.76,173.76 43.22,177.54 39.28,177.54 40.74,173.76 36.96,175.22 36.96,171.28ZM57.07,172.57 55.13,167.56 60.37,167.56 58.43,172.57 63.44,170.63 63.44,175.87 58.43,173.93 60.37,178.94 55.13,178.94 57.07,173.93 52.06,175.87 52.06,170.63ZM73.68,172.68 73,167.56 75.5,167.56 74.82,172.68 79.94,172 79.94,174.5 74.82,173.82 75.5,178.94 73,178.94 73.68,173.82 68.56,174.5 68.56,172ZM89.76,172.26 86.95,165 94.55,165 91.74,172.26 99,169.46 99,177.04 91.74,174.24 94.55,181.5 86.95,181.5 89.76,174.24 82.5,177.04 82.5,169.46ZM106.26,172.26 103.45,165 111.05,165 108.24,172.26 115.5,169.46 115.5,177.04 108.24,174.24 111.05,181.5 103.45,181.5 106.26,174.24 99,177.04 99,169.46ZM122.88,172.38 120.41,165.99 127.09,165.99 124.62,172.38 131.01,169.91 131.01,176.59 124.62,174.12 127.09,180.51 120.41,180.51 122.88,174.12 116.49,176.59 116.49,169.91ZM139.57,172.57 137.63,167.56 142.87,167.56 140.93,172.57 145.94,170.63 145.94,175.87 140.93,173.93 142.87,178.94 137.63,178.94 139.57,173.93 134.56,175.87 134.56,170.63ZM156.24,172.74 154.78,168.96 158.72,168.96 157.26,172.74 161.04,171.28 161.04,175.22 157.26,173.76 158.72,177.54 154.78,177.54 156.24,173.76 152.46,175.22 152.46,171.28ZM169.65,173.25a3.6,3.6 0 1,0 7.21,0a3.6,3.6 0 1,0 -7.21,0ZM186.58,170.08h6.35v6.35h-6.35ZM205.26,172.26 202.46,165 210.04,165 207.24,172.26 214.5,169.46 214.5,177.04 207.24,174.24 210.04,181.5 202.46,181.5 205.26,174.24 198,177.04 198,169.46ZM221.76,172.26 218.96,165 226.54,165 223.74,172.26 231,169.46 231,177.04 223.74,174.24 226.54,181.5 218.96,181.5 221.76,174.24 214.5,177.04 214.5,169.46ZM238.52,172.52 237.65,165.99 240.85,165.99 239.98,172.52 246.51,171.65 246.51,174.85 239.98,173.98 240.85,180.51 237.65,180.51 238.52,173.98 231.99,174.85 231.99,171.65ZM255.24,172.74 253.78,168.96 257.72,168.96 256.26,172.74 260.04,171.28 260.04,175.22 256.26,173.76 257.72,177.54 253.78,177.54 255.24,173.76 251.46,175.22 251.46,171.28ZM271.74,172.74 270.28,168.96 274.22,168.96 272.76,172.74 276.54,171.28 276.54,175.22 272.76,173.76 274.22,177.54 270.28,177.54 271.74,173.76 267.96,175.22 267.96,171.28ZM288.75,170.61 289.67,172.33 291.39,173.25 289.67,174.17 288.75,175.89 287.83,174.17 286.11,173.25 287.83,172.33ZM304.26,172.26 301.45,165 309.05,165 306.24,172.26 313.5,169.46 313.5,177.04 306.24,174.24 309.05,181.5 301.45,181.5 304.26,174.24 297,177.04 297,169.46ZM320.76,172.26 317.95,165 325.55,165 322.74,172.26 330,169.46 330,177.04 322.74,174.24 325.55,181.5 317.95,181.5 320.76,174.24 313.5,177.04 313.5,169.46ZM7.26,188.76 4.46,181.5 12.04,181.5 9.24,188.76 16.5,185.96 16.5,193.54 9.24,190.74 12.04,198 4.46,198 7.26,190.74 0,193.54 0,185.96ZM21.15,189.75a3.6,3.6 0 1,0 7.21,0a3.6,3.6 0 1,0 -7.21,0ZM40.57,189.07 38.63,184.06 43.87,184.06 41.93,189.07 46.94,187.13 46.94,192.37 41.93,190.43 43.87,195.44 38.63,195.44 40.57,190.43 35.56,192.37 35.56,187.13ZM57.18,189.18 56.5,184.06 59,184.06 58.32,189.18 63.44,188.5 63.44,191 58.32,190.32 59,195.44 56.5,195.44 57.18,190.32 52.06,191 52.06,188.5ZM73.57,189.07 71.63,184.06 76.87,184.06 74.93,189.07 79.94,187.13 79.94,192.37 74.93,190.43 76.87,195.44 71.63,195.44 73.57,190.43 68.56,192.37 68.56,187.13ZM89.88,188.88 87.41,182.49 94.09,182.49 91.62,188.88 98.01,186.41 98.01,193.09 91.62,190.62 94.09,197.01 87.41,197.01 89.88,190.62 83.49,193.09 83.49,186.41ZM106.38,188.88 103.91,182.49 110.59,182.49 108.12,188.88 114.51,186.41 114.51,193.09 108.12,190.62 110.59,197.01 103.91,197.01 106.38,190.62 99.99,193.09 99.99,186.41ZM123.24,189.24 121.78,185.46 125.72,185.46 124.26,189.24 128.04,187.78 128.04,191.72 124.26,190.26 125.72,194.04 121.78,194.04 123.24,190.26 119.46,191.72 119.46,187.78ZM139.68,189.18 139,184.06 141.5,184.06 140.82,189.18 145.94,188.5 145.94,191 140.82,190.32 141.5,195.44 139,195.44 139.68,190.32 134.56,191 134.56,188.5ZM156.07,189.07 154.13,184.06 159.37,184.06 157.43,189.07 162.44,187.13 162.44,192.37 157.43,190.43 159.37,195.44 154.13,195.44 156.07,190.43 151.06,192.37 151.06,187.13ZM172.57,189.07 170.63,184.06 175.87,184.06 173.93,189.07 178.94,187.13 178.94,192.37 173.93,190.43 175.87,195.44 170.63,195.44 172.57,190.43 167.56,192.37 167.56,187.13ZM189.07,189.07 187.13,184.06 192.37,184.06 190.43,189.07 195.44,187.13 195.44,192.37 190.43,190.43 192.37,195.44 187.13,195.44 189.07,190.43 184.06,192.37 184.06,187.13ZM205.38,188.88 202.91,182.49 209.59,182.49 207.12,188.88 213.51,186.41 213.51,193.09 207.12,190.62 209.59,197.01 202.91,197.01 205.38,190.62 198.99,193.09 198.99,186.41ZM221.88,188.88 219.41,182.49 226.09,182.49 223.62,188.88 230.01,186.41 230.01,193.09 223.62,190.62 226.09,197.01 219.41,197.01 221.88,190.62 215.49,193.09 215.49,186.41ZM238.57,189.07 236.63,184.06 241.87,184.06 239.93,189.07 244.94,187.13 244.94,192.37 239.93,190.43 241.87,195.44 236.63,195.44 238.57,190.43 233.56,192.37 233.56,187.13ZM255.18,189.18 254.5,184.06 257,184.06 256.32,189.18 261.44,188.5 261.44,191 256.32,190.32 257,195.44 254.5,195.44 255.18,190.32 250.06,191 250.06,188.5ZM271.57,189.07 269.63,184.06 274.87,184.06 272.93,189.07 277.94,187.13 277.94,192.37 272.93,190.43 274.87,195.44 269.63,195.44 271.57,190.43 266.56,192.37 266.56,187.13ZM283.97,189.75a4.78,4.78 0 1,0 9.56,0a4.78,4.78 0 1,0 -9.56,0ZM304.26,188.76 301.45,181.5 309.05,181.5 306.24,188.76 313.5,185.96 313.5,193.54 306.24,190.74 309.05,198 301.45,198 304.26,190.74 297,193.54 297,185.96ZM320.76,188.76 317.95,181.5 325.55,181.5 322.74,188.76 330,185.96 330,193.54 322.74,190.74 325.55,198 317.95,198 320.76,190.74 313.5,193.54 313.5,185.96ZM7.74,205.74 6.28,201.96 10.22,201.96 8.76,205.74 12.54,204.28 12.54,208.22 8.76,206.76 10.22,210.54 6.28,210.54 7.74,206.76 3.96,208.22 3.96,204.28ZM24.07,205.57 22.13,200.56 27.37,200.56 25.43,205.57 30.44,203.63 30.44,208.87 25.43,206.93 27.37,211.94 22.13,211.94 24.07,206.93 19.06,208.87 19.06,203.63ZM40.68,205.68 40,200.56 42.5,200.56 41.82,205.68 46.94,205 46.94,207.5 41.82,206.82 42.5,211.94 40,211.94 40.68,206.82 35.56,207.5 35.56,205ZM57.07,205.57 55.13,200.56 60.37,200.56 58.43,205.57 63.44,203.63 63.44,208.87 58.43,206.93 60.37,211.94 55.13,211.94 57.07,206.93 52.06,208.87 52.06,203.63ZM73.68,205.68 73,200.56 75.5,200.56 74.82,205.68 79.94,205 79.94,207.5 74.82,206.82 75.5,211.94 73,211.94 73.68,206.82 68.56,207.5 68.56,205ZM89.88,205.38 87.41,198.99 94.09,198.99 91.62,205.38 98.01,202.91 98.01,209.59 91.62,207.12 94.09,213.51 87.41,213.51 89.88,207.12 83.49,209.59 83.49,202.91ZM106.74,205.74 105.28,201.96 109.22,201.96 107.76,205.74 111.54,204.28 111.54,208.22 107.76,206.76 109.22,210.54 105.28,210.54 106.74,206.76 102.96,208.22 102.96,204.28ZM123.24,205.74 121.78,201.96 125.72,201.96 124.26,205.74 128.04,204.28 128.04,208.22 124.26,206.76 125.72,210.54 121.78,210.54 123.24,206.76 119.46,208.22 119.46,204.28ZM135.47,206.25a4.78,4.78 0 1,0 9.56,0a4.78,4.78 0 1,0 -9.56,0ZM156.07,205.57 154.13,200.56 159.37,200.56 157.43,205.57 162.44,203.63 162.44,208.87 157.43,206.93 159.37,211.94 154.13,211.94 156.07,206.93 151.06,208.87 151.06,203.63ZM172.68,205.68 172,200.56 174.5,200.56 173.82,205.68 178.94,205 178.94,207.5 173.82,206.82 174.5,211.94 172,211.94 172.68,206.82 167.56,207.5 167.56,205ZM184.97,206.25a4.78,4.78 0 1,0 9.56,0a4.78,4.78 0 1,0 -9.56,0ZM206.25,203.61 207.17,205.33 208.89,206.25 207.17,207.17 206.25,208.89 205.33,207.17 203.61,206.25 205.33,205.33ZM222.75,203.61 223.67,205.33 225.39,206.25 223.67,207.17 222.75,208.89 221.83,207.17 220.11,206.25 221.83,205.33ZM235.65,206.25a3.6,3.6 0 1,0 7.21,0a3.6,3.6 0 1,0 -7.21,0ZM255.07,205.57 253.13,200.56 258.37,200.56 256.43,205.57 261.44,203.63 261.44,208.87 256.43,206.93 258.37,211.94 253.13,211.94 255.07,206.93 250.06,208.87 250.06,203.63ZM271.57,205.57 269.63,200.56 274.87,200.56 272.93,205.57 277.94,203.63 277.94,208.87 272.93,206.93 274.87,211.94 269.63,211.94 271.57,206.93 266.56,208.87 266.56,203.63ZM283.97,206.25a4.78,4.78 0 1,0 9.56,0a4.78,4.78 0 1,0 -9.56,0ZM304.57,205.57 302.63,200.56 307.87,200.56 305.93,205.57 310.94,203.63 310.94,208.87 305.93,206.93 307.87,211.94 302.63,211.94 304.57,206.93 299.56,208.87 299.56,203.63ZM321.75,203.61 322.67,205.33 324.39,206.25 322.67,207.17 321.75,208.89 320.83,207.17 319.11,206.25 320.83,205.33ZM8.25,220.11 9.17,221.83 10.89,222.75 9.17,223.67 8.25,225.39 7.33,223.67 5.61,222.75 7.33,221.83ZM24.32,222.32 23.81,218.46 25.69,218.46 25.18,222.32 29.04,221.81 29.04,223.69 25.18,223.18 25.69,227.04 23.81,227.04 24.32,223.18 20.46,223.69 20.46,221.81ZM36.47,222.75a4.78,4.78 0 1,0 9.56,0a4.78,4.78 0 1,0 -9.56,0ZM57.07,222.07 55.13,217.06 60.37,217.06 58.43,222.07 63.44,220.13 63.44,225.37 58.43,223.43 60.37,228.44 55.13,228.44 57.07,223.43 52.06,225.37 52.06,220.13ZM73.68,222.18 73,217.06 75.5,217.06 74.82,222.18 79.94,221.5 79.94,224 74.82,223.32 75.5,228.44 73,228.44 73.68,223.32 68.56,224 68.56,221.5ZM90.75,220.11 91.67,221.83 93.39,222.75 91.67,223.67 90.75,225.39 89.83,223.67 88.11,222.75 89.83,221.83ZM107.25,220.11 108.17,221.83 109.89,222.75 108.17,223.67 107.25,225.39 106.33,223.67 104.61,222.75 106.33,221.83ZM123.24,222.24 121.78,218.46 125.72,218.46 124.26,222.24 128.04,220.78 128.04,224.72 124.26,223.26 125.72,227.04 121.78,227.04 123.24,223.26 119.46,224.72 119.46,220.78ZM139.68,222.18 139,217.06 141.5,217.06 140.82,222.18 145.94,221.5 145.94,224 140.82,223.32 141.5,228.44 139,228.44 139.68,223.32 134.56,224 134.56,221.5ZM151.97,222.75a4.78,4.78 0 1,0 9.56,0a4.78,4.78 0 1,0 -9.56,0ZM172.57,222.07 170.63,217.06 175.87,217.06 173.93,222.07 178.94,220.13 178.94,225.37 173.93,223.43 175.87,228.44 170.63,228.44 172.57,223.43 167.56,225.37 167.56,220.13ZM189.24,222.24 187.78,218.46 191.72,218.46 190.26,222.24 194.04,220.78 194.04,224.72 190.26,223.26 191.72,227.04 187.78,227.04 189.24,223.26 185.46,224.72 185.46,220.78ZM206.25,220.11 207.17,221.83 208.89,222.75 207.17,223.67 206.25,225.39 205.33,223.67 203.61,222.75 205.33,221.83ZM222.75,220.11 223.67,221.83 225.39,222.75 223.67,223.67 222.75,225.39 221.83,223.67 220.11,222.75 221.83,221.83ZM236.08,219.58h6.35v6.35h-6.35ZM250.97,222.75a4.78,4.78 0 1,0 9.56,0a4.78,4.78 0 1,0 -9.56,0ZM271.57,222.07 269.63,217.06 274.87,217.06 272.93,222.07 277.94,220.13 277.94,225.37 272.93,223.43 274.87,228.44 269.63,228.44 271.57,223.43 266.56,225.37 266.56,220.13ZM288.07,222.07 286.13,217.06 291.37,217.06 289.43,222.07 294.44,220.13 294.44,225.37 289.43,223.43 291.37,228.44 286.13,228.44 288.07,223.43 283.06,225.37 283.06,220.13ZM305.25,220.11 306.17,221.83 307.89,222.75 306.17,223.67 305.25,225.39 304.33,223.67 302.61,222.75 304.33,221.83ZM321.75,220.11 322.67,221.83 324.39,222.75 322.67,223.67 321.75,225.39 320.83,223.67 319.11,222.75 320.83,221.83ZM8.25,236.61 9.17,238.33 10.89,239.25 9.17,240.17 8.25,241.89 7.33,240.17 5.61,239.25 7.33,238.33ZM24.24,238.74 22.78,234.96 26.72,234.96 25.26,238.74 29.04,237.28 29.04,241.22 25.26,239.76 26.72,243.54 22.78,243.54 24.24,239.76 20.46,241.22 20.46,237.28ZM40.38,238.38 37.91,231.99 44.59,231.99 42.12,238.38 48.51,235.91 48.51,242.59 42.12,240.12 44.59,246.51 37.91,246.51 40.38,240.12 33.99,242.59 33.99,235.91ZM56.88,238.38 54.41,231.99 61.09,231.99 58.62,238.38 65.01,235.91 65.01,242.59 58.62,240.12 61.09,246.51 54.41,246.51 56.88,240.12 50.49,242.59 50.49,235.91ZM74.25,236.61 75.17,238.33 76.89,239.25 75.17,240.17 74.25,241.89 73.33,240.17 71.61,239.25 73.33,238.33ZM90.75,236.61 91.67,238.33 93.39,239.25 91.67,240.17 90.75,241.89 89.83,240.17 88.11,239.25 89.83,238.33ZM107.25,236.61 108.17,238.33 109.89,239.25 108.17,240.17 107.25,241.89 106.33,240.17 104.61,239.25 106.33,238.33ZM123.75,236.61 124.67,238.33 126.39,239.25 124.67,240.17 123.75,241.89 122.83,240.17 121.11,239.25 122.83,238.33ZM139.38,238.38 136.91,231.99 143.59,231.99 141.12,238.38 147.51,235.91 147.51,242.59 141.12,240.12 143.59,246.51 136.91,246.51 139.38,240.12 132.99,242.59 132.99,235.91ZM156.75,236.61 157.67,238.33 159.39,239.25 157.67,240.17 156.75,241.89 155.83,240.17 154.11,239.25 155.83,238.33ZM173.25,236.61 174.17,238.33 175.89,239.25 174.17,240.17 173.25,241.89 172.33,240.17 170.61,239.25 172.33,238.33ZM189.75,236.61 190.67,238.33 192.39,239.25 190.67,240.17 189.75,241.89 188.83,240.17 187.11,239.25 188.83,238.33ZM206.25,236.61 207.17,238.33 208.89,239.25 207.17,240.17 206.25,241.89 205.33,240.17 203.61,239.25 205.33,238.33ZM222.75,236.61 223.67,238.33 225.39,239.25 223.67,240.17 222.75,241.89 221.83,240.17 220.11,239.25 221.83,238.33ZM239.25,236.61 240.17,238.33 241.89,239.25 240.17,240.17 239.25,241.89 238.33,240.17 236.61,239.25 238.33,238.33ZM255.02,238.52 254.15,231.99 257.35,231.99 256.48,238.52 263.01,237.65 263.01,240.85 256.48,239.98 257.35,246.51 254.15,246.51 255.02,239.98 248.49,240.85 248.49,237.65ZM271.52,238.52 270.65,231.99 273.85,231.99 272.98,238.52 279.51,237.65 279.51,240.85 272.98,239.98 273.85,246.51 270.65,246.51 271.52,239.98 264.99,240.85 264.99,237.65ZM288.07,238.57 286.13,233.56 291.37,233.56 289.43,238.57 294.44,236.63 294.44,241.87 289.43,239.93 291.37,244.94 286.13,244.94 288.07,239.93 283.06,241.87 283.06,236.63ZM305.25,236.61 306.17,238.33 307.89,239.25 306.17,240.17 305.25,241.89 304.33,240.17 302.61,239.25 304.33,238.33ZM321.75,236.61 322.67,238.33 324.39,239.25 322.67,240.17 321.75,241.89 320.83,240.17 319.11,239.25 320.83,238.33ZM7.38,254.88 4.91,248.49 11.59,248.49 9.12,254.88 15.51,252.41 15.51,259.09 9.12,256.62 11.59,263.01 4.91,263.01 7.38,256.62 0.99,259.09 0.99,252.41ZM24.02,255.02 23.15,248.49 26.35,248.49 25.48,255.02 32.01,254.15 32.01,257.35 25.48,256.48 26.35,263.01 23.15,263.01 24.02,256.48 17.49,257.35 17.49,254.15ZM40.26,254.76 37.45,247.5 45.05,247.5 42.24,254.76 49.5,251.96 49.5,259.55 42.24,256.74 45.05,264 37.45,264 40.26,256.74 33,259.55 33,251.96ZM56.76,254.76 53.95,247.5 61.55,247.5 58.74,254.76 66,251.96 66,259.55 58.74,256.74 61.55,264 53.95,264 56.76,256.74 49.5,259.55 49.5,251.96ZM73.74,255.24 72.28,251.46 76.22,251.46 74.76,255.24 78.54,253.78 78.54,257.72 74.76,256.26 76.22,260.04 72.28,260.04 73.74,256.26 69.96,257.72 69.96,253.78ZM87.58,252.58h6.35v6.35h-6.35ZM103.65,255.75a3.6,3.6 0 1,0 7.21,0a3.6,3.6 0 1,0 -7.21,0ZM123.32,255.32 122.81,251.46 124.69,251.46 124.18,255.32 128.04,254.81 128.04,256.69 124.18,256.18 124.69,260.04 122.81,260.04 123.32,256.18 119.46,256.69 119.46,254.81ZM139.26,254.76 136.46,247.5 144.04,247.5 141.24,254.76 148.5,251.96 148.5,259.55 141.24,256.74 144.04,264 136.46,264 139.26,256.74 132,259.55 132,251.96ZM155.76,254.76 152.96,247.5 160.54,247.5 157.74,254.76 165,251.96 165,259.55 157.74,256.74 160.54,264 152.96,264 155.76,256.74 148.5,259.55 148.5,251.96ZM172.26,254.76 169.46,247.5 177.04,247.5 174.24,254.76 181.5,251.96 181.5,259.55 174.24,256.74 177.04,264 169.46,264 172.26,256.74 165,259.55 165,251.96ZM189.75,253.11 190.67,254.83 192.39,255.75 190.67,256.67 189.75,258.39 188.83,256.67 187.11,255.75 188.83,254.83ZM206.25,253.11 207.17,254.83 208.89,255.75 207.17,256.67 206.25,258.39 205.33,256.67 203.61,255.75 205.33,254.83ZM222.24,255.24 220.78,251.46 224.72,251.46 223.26,255.24 227.04,253.78 227.04,257.72 223.26,256.26 224.72,260.04 220.78,260.04 222.24,256.26 218.46,257.72 218.46,253.78ZM238.57,255.07 236.63,250.06 241.87,250.06 239.93,255.07 244.94,253.13 244.94,258.37 239.93,256.43 241.87,261.44 236.63,261.44 238.57,256.43 233.56,258.37 233.56,253.13ZM254.76,254.76 251.96,247.5 259.55,247.5 256.74,254.76 264,251.96 264,259.55 256.74,256.74 259.55,264 251.96,264 254.76,256.74 247.5,259.55 247.5,251.96ZM271.26,254.76 268.45,247.5 276.05,247.5 273.24,254.76 280.5,251.96 280.5,259.55 273.24,256.74 276.05,264 268.45,264 271.26,256.74 264,259.55 264,251.96ZM287.88,254.88 285.41,248.49 292.09,248.49 289.62,254.88 296.01,252.41 296.01,259.09 289.62,256.62 292.09,263.01 285.41,263.01 287.88,256.62 281.49,259.09 281.49,252.41ZM301.65,255.75a3.6,3.6 0 1,0 7.21,0a3.6,3.6 0 1,0 -7.21,0ZM321.24,255.24 319.78,251.46 323.72,251.46 322.26,255.24 326.04,253.78 326.04,257.72 322.26,256.26 323.72,260.04 319.78,260.04 321.24,256.26 317.46,257.72 317.46,253.78ZM3.47,272.25a4.78,4.78 0 1,0 9.56,0a4.78,4.78 0 1,0 -9.56,0ZM24.02,271.52 23.15,264.99 26.35,264.99 25.48,271.52 32.01,270.65 32.01,273.85 25.48,272.98 26.35,279.51 23.15,279.51 24.02,272.98 17.49,273.85 17.49,270.65ZM40.26,271.26 37.45,264 45.05,264 42.24,271.26 49.5,268.45 49.5,276.05 42.24,273.24 45.05,280.5 37.45,280.5 40.26,273.24 33,276.05 33,268.45ZM56.76,271.26 53.95,264 61.55,264 58.74,271.26 66,268.45 66,276.05 58.74,273.24 61.55,280.5 53.95,280.5 56.76,273.24 49.5,276.05 49.5,268.45ZM69.47,272.25a4.78,4.78 0 1,0 9.56,0a4.78,4.78 0 1,0 -9.56,0ZM90.07,271.57 88.13,266.56 93.37,266.56 91.43,271.57 96.44,269.63 96.44,274.87 91.43,272.93 93.37,277.94 88.13,277.94 90.07,272.93 85.06,274.87 85.06,269.63ZM102.47,272.25a4.78,4.78 0 1,0 9.56,0a4.78,4.78 0 1,0 -9.56,0ZM123.18,271.68 122.5,266.56 125,266.56 124.32,271.68 129.44,271 129.44,273.5 124.32,272.82 125,277.94 122.5,277.94 123.18,272.82 118.06,273.5 118.06,271ZM139.26,271.26 136.46,264 144.04,264 141.24,271.26 148.5,268.45 148.5,276.05 141.24,273.24 144.04,280.5 136.46,280.5 139.26,273.24 132,276.05 132,268.45ZM155.76,271.26 152.96,264 160.54,264 157.74,271.26 165,268.45 165,276.05 157.74,273.24 160.54,280.5 152.96,280.5 155.76,273.24 148.5,276.05 148.5,268.45ZM172.26,271.26 169.46,264 177.04,264 174.24,271.26 181.5,268.45 181.5,276.05 174.24,273.24 177.04,280.5 169.46,280.5 172.26,273.24 165,276.05 165,268.45ZM189.07,271.57 187.13,266.56 192.37,266.56 190.43,271.57 195.44,269.63 195.44,274.87 190.43,272.93 192.37,277.94 187.13,277.94 189.07,272.93 184.06,274.87 184.06,269.63ZM205.57,271.57 203.63,266.56 208.87,266.56 206.93,271.57 211.94,269.63 211.94,274.87 206.93,272.93 208.87,277.94 203.63,277.94 205.57,272.93 200.56,274.87 200.56,269.63ZM222.07,271.57 220.13,266.56 225.37,266.56 223.43,271.57 228.44,269.63 228.44,274.87 223.43,272.93 225.37,277.94 220.13,277.94 222.07,272.93 217.06,274.87 217.06,269.63ZM238.52,271.52 237.65,264.99 240.85,264.99 239.98,271.52 246.51,270.65 246.51,273.85 239.98,272.98 240.85,279.51 237.65,279.51 238.52,272.98 231.99,273.85 231.99,270.65ZM254.76,271.26 251.96,264 259.55,264 256.74,271.26 264,268.45 264,276.05 256.74,273.24 259.55,280.5 251.96,280.5 254.76,273.24 247.5,276.05 247.5,268.45ZM271.26,271.26 268.45,264 276.05,264 273.24,271.26 280.5,268.45 280.5,276.05 273.24,273.24 276.05,280.5 268.45,280.5 271.26,273.24 264,276.05 264,268.45ZM287.88,271.38 285.41,264.99 292.09,264.99 289.62,271.38 296.01,268.91 296.01,275.59 289.62,273.12 292.09,279.51 285.41,279.51 287.88,273.12 281.49,275.59 281.49,268.91ZM304.57,271.57 302.63,266.56 307.87,266.56 305.93,271.57 310.94,269.63 310.94,274.87 305.93,272.93 307.87,277.94 302.63,277.94 304.57,272.93 299.56,274.87 299.56,269.63ZM321.18,271.68 320.5,266.56 323,266.56 322.32,271.68 327.44,271 327.44,273.5 322.32,272.82 323,277.94 320.5,277.94 321.18,272.82 316.06,273.5 316.06,271ZM7.57,288.07 5.63,283.06 10.87,283.06 8.93,288.07 13.94,286.13 13.94,291.37 8.93,289.43 10.87,294.44 5.63,294.44 7.57,289.43 2.56,291.37 2.56,286.13ZM24.07,288.07 22.13,283.06 27.37,283.06 25.43,288.07 30.44,286.13 30.44,291.37 25.43,289.43 27.37,294.44 22.13,294.44 24.07,289.43 19.06,291.37 19.06,286.13ZM40.38,287.88 37.91,281.49 44.59,281.49 42.12,287.88 48.51,285.41 48.51,292.09 42.12,289.62 44.59,296.01 37.91,296.01 40.38,289.62 33.99,292.09 33.99,285.41ZM57.02,288.02 56.15,281.49 59.35,281.49 58.48,288.02 65.01,287.15 65.01,290.35 58.48,289.48 59.35,296.01 56.15,296.01 57.02,289.48 50.49,290.35 50.49,287.15ZM69.47,288.75a4.78,4.78 0 1,0 9.56,0a4.78,4.78 0 1,0 -9.56,0ZM90.07,288.07 88.13,283.06 93.37,283.06 91.43,288.07 96.44,286.13 96.44,291.37 91.43,289.43 93.37,294.44 88.13,294.44 90.07,289.43 85.06,291.37 85.06,286.13ZM106.57,288.07 104.63,283.06 109.87,283.06 107.93,288.07 112.94,286.13 112.94,291.37 107.93,289.43 109.87,294.44 104.63,294.44 106.57,289.43 101.56,291.37 101.56,286.13ZM123.07,288.07 121.13,283.06 126.37,283.06 124.43,288.07 129.44,286.13 129.44,291.37 124.43,289.43 126.37,294.44 121.13,294.44 123.07,289.43 118.06,291.37 118.06,286.13ZM139.74,288.24 138.28,284.46 142.22,284.46 140.76,288.24 144.54,286.78 144.54,290.72 140.76,289.26 142.22,293.04 138.28,293.04 139.74,289.26 135.96,290.72 135.96,286.78ZM155.88,287.88 153.41,281.49 160.09,281.49 157.62,287.88 164.01,285.41 164.01,292.09 157.62,289.62 160.09,296.01 153.41,296.01 155.88,289.62 149.49,292.09 149.49,285.41ZM172.38,287.88 169.91,281.49 176.59,281.49 174.12,287.88 180.51,285.41 180.51,292.09 174.12,289.62 176.59,296.01 169.91,296.01 172.38,289.62 165.99,292.09 165.99,285.41ZM186.15,288.75a3.6,3.6 0 1,0 7.21,0a3.6,3.6 0 1,0 -7.21,0ZM205.57,288.07 203.63,283.06 208.87,283.06 206.93,288.07 211.94,286.13 211.94,291.37 206.93,289.43 208.87,294.44 203.63,294.44 205.57,289.43 200.56,291.37 200.56,286.13ZM222.07,288.07 220.13,283.06 225.37,283.06 223.43,288.07 228.44,286.13 228.44,291.37 223.43,289.43 225.37,294.44 220.13,294.44 222.07,289.43 217.06,291.37 217.06,286.13ZM238.57,288.07 236.63,283.06 241.87,283.06 239.93,288.07 244.94,286.13 244.94,291.37 239.93,289.43 241.87,294.44 236.63,294.44 238.57,289.43 233.56,291.37 233.56,286.13ZM255.75,286.11 256.67,287.83 258.39,288.75 256.67,289.67 255.75,291.39 254.83,289.67 253.11,288.75 254.83,287.83ZM271.38,287.88 268.91,281.49 275.59,281.49 273.12,287.88 279.51,285.41 279.51,292.09 273.12,289.62 275.59,296.01 268.91,296.01 271.38,289.62 264.99,292.09 264.99,285.41ZM288.24,288.24 286.78,284.46 290.72,284.46 289.26,288.24 293.04,286.78 293.04,290.72 289.26,289.26 290.72,293.04 286.78,293.04 288.24,289.26 284.46,290.72 284.46,286.78ZM300.47,288.75a4.78,4.78 0 1,0 9.56,0a4.78,4.78 0 1,0 -9.56,0ZM321.07,288.07 319.13,283.06 324.37,283.06 322.43,288.07 327.44,286.13 327.44,291.37 322.43,289.43 324.37,294.44 319.13,294.44 321.07,289.43 316.06,291.37 316.06,286.13ZM7.68,304.68 7,299.56 9.5,299.56 8.82,304.68 13.94,304 13.94,306.5 8.82,305.82 9.5,310.94 7,310.94 7.68,305.82 2.56,306.5 2.56,304ZM24.07,304.57 22.13,299.56 27.37,299.56 25.43,304.57 30.44,302.63 30.44,307.87 25.43,305.93 27.37,310.94 22.13,310.94 24.07,305.93 19.06,307.87 19.06,302.63ZM38.08,302.08h6.35v6.35h-6.35ZM57.24,304.74 55.78,300.96 59.72,300.96 58.26,304.74 62.04,303.28 62.04,307.22 58.26,305.76 59.72,309.54 55.78,309.54 57.24,305.76 53.46,307.22 53.46,303.28ZM73.82,304.82 73.31,300.96 75.19,300.96 74.68,304.82 78.54,304.31 78.54,306.19 74.68,305.68 75.19,309.54 73.31,309.54 73.82,305.68 69.96,306.19 69.96,304.31ZM90.07,304.57 88.13,299.56 93.37,299.56 91.43,304.57 96.44,302.63 96.44,307.87 91.43,305.93 93.37,310.94 88.13,310.94 90.07,305.93 85.06,307.87 85.06,302.63ZM106.57,304.57 104.63,299.56 109.87,299.56 107.93,304.57 112.94,302.63 112.94,307.87 107.93,305.93 109.87,310.94 104.63,310.94 106.57,305.93 101.56,307.87 101.56,302.63ZM123.07,304.57 121.13,299.56 126.37,299.56 124.43,304.57 129.44,302.63 129.44,307.87 124.43,305.93 126.37,310.94 121.13,310.94 123.07,305.93 118.06,307.87 118.06,302.63ZM140.25,302.61 141.17,304.33 142.89,305.25 141.17,306.17 140.25,307.89 139.33,306.17 137.61,305.25 139.33,304.33ZM156.75,302.61 157.67,304.33 159.39,305.25 157.67,306.17 156.75,307.89 155.83,306.17 154.11,305.25 155.83,304.33ZM172.74,304.74 171.28,300.96 175.22,300.96 173.76,304.74 177.54,303.28 177.54,307.22 173.76,305.76 175.22,309.54 171.28,309.54 172.74,305.76 168.96,307.22 168.96,303.28ZM189.07,304.57 187.13,299.56 192.37,299.56 190.43,304.57 195.44,302.63 195.44,307.87 190.43,305.93 192.37,310.94 187.13,310.94 189.07,305.93 184.06,307.87 184.06,302.63ZM205.57,304.57 203.63,299.56 208.87,299.56 206.93,304.57 211.94,302.63 211.94,307.87 206.93,305.93 208.87,310.94 203.63,310.94 205.57,305.93 200.56,307.87 200.56,302.63ZM222.07,304.57 220.13,299.56 225.37,299.56 223.43,304.57 228.44,302.63 228.44,307.87 223.43,305.93 225.37,310.94 220.13,310.94 222.07,305.93 217.06,307.87 217.06,302.63ZM238.52,304.52 237.65,297.99 240.85,297.99 239.98,304.52 246.51,303.65 246.51,306.85 239.98,305.98 240.85,312.51 237.65,312.51 238.52,305.98 231.99,306.85 231.99,303.65ZM255.75,302.61 256.67,304.33 258.39,305.25 256.67,306.17 255.75,307.89 254.83,306.17 253.11,305.25 254.83,304.33ZM272.25,302.61 273.17,304.33 274.89,305.25 273.17,306.17 272.25,307.89 271.33,306.17 269.61,305.25 271.33,304.33ZM285.15,305.25a3.6,3.6 0 1,0 7.21,0a3.6,3.6 0 1,0 -7.21,0ZM304.57,304.57 302.63,299.56 307.87,299.56 305.93,304.57 310.94,302.63 310.94,307.87 305.93,305.93 307.87,310.94 302.63,310.94 304.57,305.93 299.56,307.87 299.56,302.63ZM316.97,305.25a4.78,4.78 0 1,0 9.56,0a4.78,4.78 0 1,0 -9.56,0ZM7.68,321.18 7,316.06 9.5,316.06 8.82,321.18 13.94,320.5 13.94,323 8.82,322.32 9.5,327.44 7,327.44 7.68,322.32 2.56,323 2.56,320.5ZM24.75,319.11 25.67,320.83 27.39,321.75 25.67,322.67 24.75,324.39 23.83,322.67 22.11,321.75 23.83,320.83ZM41.25,319.11 42.17,320.83 43.89,321.75 42.17,322.67 41.25,324.39 40.33,322.67 38.61,321.75 40.33,320.83ZM57.75,319.11 58.67,320.83 60.39,321.75 58.67,322.67 57.75,324.39 56.83,322.67 55.11,321.75 56.83,320.83ZM73.74,321.24 72.28,317.46 76.22,317.46 74.76,321.24 78.54,319.78 78.54,323.72 74.76,322.26 76.22,326.04 72.28,326.04 73.74,322.26 69.96,323.72 69.96,319.78ZM90.07,321.07 88.13,316.06 93.37,316.06 91.43,321.07 96.44,319.13 96.44,324.37 91.43,322.43 93.37,327.44 88.13,327.44 90.07,322.43 85.06,324.37 85.06,319.13ZM106.68,321.18 106,316.06 108.5,316.06 107.82,321.18 112.94,320.5 112.94,323 107.82,322.32 108.5,327.44 106,327.44 106.68,322.32 101.56,323 101.56,320.5ZM118.97,321.75a4.78,4.78 0 1,0 9.56,0a4.78,4.78 0 1,0 -9.56,0ZM140.25,319.11 141.17,320.83 142.89,321.75 141.17,322.67 140.25,324.39 139.33,322.67 137.61,321.75 139.33,320.83ZM156.75,319.11 157.67,320.83 159.39,321.75 157.67,322.67 156.75,324.39 155.83,322.67 154.11,321.75 155.83,320.83ZM173.25,319.11 174.17,320.83 175.89,321.75 174.17,322.67 173.25,324.39 172.33,322.67 170.61,321.75 172.33,320.83ZM189.24,321.24 187.78,317.46 191.72,317.46 190.26,321.24 194.04,319.78 194.04,323.72 190.26,322.26 191.72,326.04 187.78,326.04 189.24,322.26 185.46,323.72 185.46,319.78ZM201.47,321.75a4.78,4.78 0 1,0 9.56,0a4.78,4.78 0 1,0 -9.56,0ZM222.07,321.07 220.13,316.06 225.37,316.06 223.43,321.07 228.44,319.13 228.44,324.37 223.43,322.43 225.37,327.44 220.13,327.44 222.07,322.43 217.06,324.37 217.06,319.13ZM239.25,319.11 240.17,320.83 241.89,321.75 240.17,322.67 239.25,324.39 238.33,322.67 236.61,321.75 238.33,320.83ZM255.75,319.11 256.67,320.83 258.39,321.75 256.67,322.67 255.75,324.39 254.83,322.67 253.11,321.75 254.83,320.83ZM272.25,319.11 273.17,320.83 274.89,321.75 273.17,322.67 272.25,324.39 271.33,322.67 269.61,321.75 271.33,320.83ZM288.24,321.24 286.78,317.46 290.72,317.46 289.26,321.24 293.04,319.78 293.04,323.72 289.26,322.26 290.72,326.04 286.78,326.04 288.24,322.26 284.46,323.72 284.46,319.78ZM304.57,321.07 302.63,316.06 307.87,316.06 305.93,321.07 310.94,319.13 310.94,324.37 305.93,322.43 307.87,327.44 302.63,327.44 304.57,322.43 299.56,324.37 299.56,319.13ZM316.97,321.75a4.78,4.78 0 1,0 9.56,0a4.78,4.78 0 1,0 -9.56,0Z" fill="#f2a21e" stroke="#2a1a00" stroke-width="0.7" stroke-linejoin="round"/><path d="M37.87,4.87l6.76,6.76M44.63,4.87l-6.76,6.76M187.2,5.7l5.1,5.1M192.3,5.7l-5.1,5.1M187.2,22.2l5.1,5.1M192.3,22.2l-5.1,5.1M22.2,38.7l5.1,5.1M27.3,38.7l-5.1,5.1M302.7,38.7l5.1,5.1M307.8,38.7l-5.1,5.1M236.08,54.58l6.35,6.35M242.42,54.58l-6.35,6.35M4.87,70.87l6.76,6.76M11.63,70.87l-6.76,6.76M302.7,71.7l5.1,5.1M307.8,71.7l-5.1,5.1M4.87,87.37l6.76,6.76M11.63,87.37l-6.76,6.76M202.87,87.37l6.76,6.76M209.63,87.37l-6.76,6.76M21.37,103.87l6.76,6.76M28.13,103.87l-6.76,6.76M38.7,104.7l5.1,5.1M43.8,104.7l-5.1,5.1M120.37,103.87l6.76,6.76M127.13,103.87l-6.76,6.76M55.2,121.2l5.1,5.1M60.3,121.2l-5.1,5.1M236.7,121.2l5.1,5.1M241.8,121.2l-5.1,5.1M236.7,137.7l5.1,5.1M241.8,137.7l-5.1,5.1M154.2,154.2l5.1,5.1M159.3,154.2l-5.1,5.1M170.7,154.2l5.1,5.1M175.8,154.2l-5.1,5.1M285.58,153.58l6.35,6.35M291.92,153.58l-6.35,6.35M170.7,170.7l5.1,5.1M175.8,170.7l-5.1,5.1M186.58,170.08l6.35,6.35M192.92,170.08l-6.35,6.35M22.2,187.2l5.1,5.1M27.3,187.2l-5.1,5.1M285.37,186.37l6.76,6.76M292.13,186.37l-6.76,6.76M136.87,202.87l6.76,6.76M143.63,202.87l-6.76,6.76M186.37,202.87l6.76,6.76M193.13,202.87l-6.76,6.76M236.7,203.7l5.1,5.1M241.8,203.7l-5.1,5.1M285.37,202.87l6.76,6.76M292.13,202.87l-6.76,6.76M37.87,219.37l6.76,6.76M44.63,219.37l-6.76,6.76M153.37,219.37l6.76,6.76M160.13,219.37l-6.76,6.76M236.08,219.58l6.35,6.35M242.42,219.58l-6.35,6.35M252.37,219.37l6.76,6.76M259.13,219.37l-6.76,6.76M87.58,252.58l6.35,6.35M93.92,252.58l-6.35,6.35M104.7,253.2l5.1,5.1M109.8,253.2l-5.1,5.1M302.7,253.2l5.1,5.1M307.8,253.2l-5.1,5.1M4.87,268.87l6.76,6.76M11.63,268.87l-6.76,6.76M70.87,268.87l6.76,6.76M77.63,268.87l-6.76,6.76M103.87,268.87l6.76,6.76M110.63,268.87l-6.76,6.76M70.87,285.37l6.76,6.76M77.63,285.37l-6.76,6.76M187.2,286.2l5.1,5.1M192.3,286.2l-5.1,5.1M301.87,285.37l6.76,6.76M308.63,285.37l-6.76,6.76M38.08,302.08l6.35,6.35M44.42,302.08l-6.35,6.35M286.2,302.7l5.1,5.1M291.3,302.7l-5.1,5.1M318.37,301.87l6.76,6.76M325.13,301.87l-6.76,6.76M120.37,318.37l6.76,6.76M127.13,318.37l-6.76,6.76M202.87,318.37l6.76,6.76M209.63,318.37l-6.76,6.76M318.37,318.37l6.76,6.76M325.13,318.37l-6.76,6.76" fill="none" stroke="#2a1a00" stroke-width="0.6"/></g>
<path id="bd2" d="M72,8.2h0M76.5,8.2h0M74.2,6h0M74.2,10.6h0M187.9,6.4h0M191.6,6.4h0M187.9,10.1h0M191.6,10.1h0M286.4,8.2h0M291.1,8.2h0M288.8,6h0M288.8,10.6h0M6,24.8h0M10.6,24.8h0M8.2,22.4h0M8.2,27.1h0M22.4,24.8h0M27.1,24.8h0M24.8,22.4h0M24.8,27.1h0M39,24.8h0M43.5,24.8h0M41.2,22.4h0M41.2,27.1h0M88.5,24.8h0M93,24.8h0M90.8,22.4h0M90.8,27.1h0M105,24.8h0M109.5,24.8h0M107.2,22.4h0M107.2,27.1h0M170.9,24.8h0M175.6,24.8h0M173.2,22.4h0M173.2,27.1h0M187.9,22.9h0M191.6,22.9h0M187.9,26.6h0M191.6,26.6h0M203.9,24.8h0M208.6,24.8h0M206.2,22.4h0M206.2,27.1h0M286.4,24.8h0M291.1,24.8h0M288.8,22.4h0M288.8,27.1h0M22.9,39.4h0M26.6,39.4h0M22.9,43.1h0M26.6,43.1h0M39,41.2h0M43.5,41.2h0M41.2,39h0M41.2,43.5h0M72,41.2h0M76.5,41.2h0M74.2,39h0M74.2,43.5h0M187.4,41.2h0M192.1,41.2h0M189.8,39h0M189.8,43.5h0M303.4,39.4h0M307.1,39.4h0M303.4,43.1h0M307.1,43.1h0M237.4,55.9h0M241.1,55.9h0M237.4,59.6h0M241.1,59.6h0M105,74.2h0M109.5,74.2h0M107.2,72h0M107.2,76.5h0M121.5,74.2h0M126,74.2h0M123.8,72h0M123.8,76.5h0M203.9,74.2h0M208.6,74.2h0M206.2,72h0M206.2,76.5h0M220.4,74.2h0M225.1,74.2h0M222.8,72h0M222.8,76.5h0M303.4,72.4h0M307.1,72.4h0M303.4,76.1h0M307.1,76.1h0M319.4,74.2h0M324.1,74.2h0M321.8,72h0M321.8,76.5h0M105,90.8h0M109.5,90.8h0M107.2,88.5h0M107.2,93h0M236.9,90.8h0M241.6,90.8h0M239.2,88.5h0M239.2,93h0M302.9,90.8h0M307.6,90.8h0M305.2,88.5h0M305.2,93h0M39.4,105.4h0M43.1,105.4h0M39.4,109.1h0M43.1,109.1h0M72,107.2h0M76.5,107.2h0M74.2,105h0M74.2,109.5h0M286.4,107.2h0M291.1,107.2h0M288.8,105h0M288.8,109.5h0M6,123.8h0M10.6,123.8h0M8.2,121.5h0M8.2,126h0M22.4,123.8h0M27.1,123.8h0M24.8,121.5h0M24.8,126h0M39,123.8h0M43.5,123.8h0M41.2,121.5h0M41.2,126h0M55.9,121.9h0M59.6,121.9h0M55.9,125.6h0M59.6,125.6h0M72,123.8h0M76.5,123.8h0M74.2,121.5h0M74.2,126h0M88.5,123.8h0M93,123.8h0M90.8,121.5h0M90.8,126h0M137.9,123.8h0M142.6,123.8h0M140.2,121.5h0M140.2,126h0M220.4,123.8h0M225.1,123.8h0M222.8,121.5h0M222.8,126h0M237.4,121.9h0M241.1,121.9h0M237.4,125.6h0M241.1,125.6h0M121.5,140.2h0M126,140.2h0M123.8,137.9h0M123.8,142.6h0M187.4,140.2h0M192.1,140.2h0M189.8,137.9h0M189.8,142.6h0M203.9,140.2h0M208.6,140.2h0M206.2,137.9h0M206.2,142.6h0M237.4,138.4h0M241.1,138.4h0M237.4,142.1h0M241.1,142.1h0M154.9,154.9h0M158.6,154.9h0M154.9,158.6h0M158.6,158.6h0M171.4,154.9h0M175.1,154.9h0M171.4,158.6h0M175.1,158.6h0M236.9,156.8h0M241.6,156.8h0M239.2,154.4h0M239.2,159.1h0M253.4,156.8h0M258.1,156.8h0M255.8,154.4h0M255.8,159.1h0M286.9,154.9h0M290.6,154.9h0M286.9,158.6h0M290.6,158.6h0M39,173.2h0M43.5,173.2h0M41.2,170.9h0M41.2,175.6h0M154.4,173.2h0M159.1,173.2h0M156.8,170.9h0M156.8,175.6h0M171.4,171.4h0M175.1,171.4h0M171.4,175.1h0M175.1,175.1h0M187.9,171.4h0M191.6,171.4h0M187.9,175.1h0M191.6,175.1h0M253.4,173.2h0M258.1,173.2h0M255.8,170.9h0M255.8,175.6h0M269.9,173.2h0M274.6,173.2h0M272.2,170.9h0M272.2,175.6h0M22.9,187.9h0M26.6,187.9h0M22.9,191.6h0M26.6,191.6h0M121.5,189.8h0M126,189.8h0M123.8,187.4h0M123.8,192.1h0M6,206.2h0M10.6,206.2h0M8.2,203.9h0M8.2,208.6h0M105,206.2h0M109.5,206.2h0M107.2,203.9h0M107.2,208.6h0M121.5,206.2h0M126,206.2h0M123.8,203.9h0M123.8,208.6h0M237.4,204.4h0M241.1,204.4h0M237.4,208.1h0M241.1,208.1h0M22.4,222.8h0M27.1,222.8h0M24.8,220.4h0M24.8,225.1h0M121.5,222.8h0M126,222.8h0M123.8,220.4h0M123.8,225.1h0M187.4,222.8h0M192.1,222.8h0M189.8,220.4h0M189.8,225.1h0M237.4,220.9h0M241.1,220.9h0M237.4,224.6h0M241.1,224.6h0M22.4,239.2h0M27.1,239.2h0M24.8,236.9h0M24.8,241.6h0M72,255.8h0M76.5,255.8h0M74.2,253.4h0M74.2,258.1h0M88.9,253.9h0M92.6,253.9h0M88.9,257.6h0M92.6,257.6h0M105.4,253.9h0M109.1,253.9h0M105.4,257.6h0M109.1,257.6h0M121.5,255.8h0M126,255.8h0M123.8,253.4h0M123.8,258.1h0M220.4,255.8h0M225.1,255.8h0M222.8,253.4h0M222.8,258.1h0M303.4,253.9h0M307.1,253.9h0M303.4,257.6h0M307.1,257.6h0M319.4,255.8h0M324.1,255.8h0M321.8,253.4h0M321.8,258.1h0M137.9,288.8h0M142.6,288.8h0M140.2,286.4h0M140.2,291.1h0M187.9,286.9h0M191.6,286.9h0M187.9,290.6h0M191.6,290.6h0M286.4,288.8h0M291.1,288.8h0M288.8,286.4h0M288.8,291.1h0M39.4,303.4h0M43.1,303.4h0M39.4,307.1h0M43.1,307.1h0M55.5,305.2h0M60,305.2h0M57.8,302.9h0M57.8,307.6h0M72,305.2h0M76.5,305.2h0M74.2,302.9h0M74.2,307.6h0M170.9,305.2h0M175.6,305.2h0M173.2,302.9h0M173.2,307.6h0M286.9,303.4h0M290.6,303.4h0M286.9,307.1h0M290.6,307.1h0M72,321.8h0M76.5,321.8h0M74.2,319.4h0M74.2,324.1h0M187.4,321.8h0M192.1,321.8h0M189.8,319.4h0M189.8,324.1h0M286.4,321.8h0M291.1,321.8h0M288.8,319.4h0M288.8,324.1h0"/><path id="bd3" d="M21.6,8.2h0M27.9,8.2h0M24.8,5.2h0M24.8,11.3h0M38.8,5.8h0M43.7,5.8h0M38.8,10.7h0M43.7,10.7h0M54.6,8.2h0M60.9,8.2h0M57.8,5.2h0M57.8,11.3h0M87.7,8.2h0M93.8,8.2h0M90.8,5.2h0M90.8,11.3h0M137.2,8.2h0M143.3,8.2h0M140.2,5.2h0M140.2,11.3h0M153.7,8.2h0M159.8,8.2h0M156.8,5.2h0M156.8,11.3h0M170.2,8.2h0M176.3,8.2h0M173.2,5.2h0M173.2,11.3h0M236.2,8.2h0M242.3,8.2h0M239.2,5.2h0M239.2,11.3h0M252.7,8.2h0M258.9,8.2h0M255.8,5.2h0M255.8,11.3h0M269.1,8.2h0M275.4,8.2h0M272.2,5.2h0M272.2,11.3h0M54.6,24.8h0M60.9,24.8h0M57.8,21.6h0M57.8,27.9h0M71.2,24.8h0M77.3,24.8h0M74.2,21.6h0M74.2,27.9h0M137.2,24.8h0M143.3,24.8h0M140.2,21.6h0M140.2,27.9h0M153.7,24.8h0M159.8,24.8h0M156.8,21.6h0M156.8,27.9h0M236.2,24.8h0M242.3,24.8h0M239.2,21.6h0M239.2,27.9h0M252.7,24.8h0M258.9,24.8h0M255.8,21.6h0M255.8,27.9h0M269.1,24.8h0M275.4,24.8h0M272.2,21.6h0M272.2,27.9h0M54.6,41.2h0M60.9,41.2h0M57.8,38.1h0M57.8,44.4h0M153.7,41.2h0M159.8,41.2h0M156.8,38.1h0M156.8,44.4h0M170.2,41.2h0M176.3,41.2h0M173.2,38.1h0M173.2,44.4h0M269.1,41.2h0M275.4,41.2h0M272.2,38.1h0M272.2,44.4h0M285.6,41.2h0M291.9,41.2h0M288.8,38.1h0M288.8,44.4h0M285.6,57.8h0M291.9,57.8h0M288.8,54.6h0M288.8,60.9h0M5.8,71.8h0M10.7,71.8h0M5.8,76.7h0M10.7,76.7h0M21.6,74.2h0M27.9,74.2h0M24.8,71.2h0M24.8,77.3h0M87.7,74.2h0M93.8,74.2h0M90.8,71.2h0M90.8,77.3h0M186.7,74.2h0M192.8,74.2h0M189.8,71.2h0M189.8,77.3h0M5.8,88.3h0M10.7,88.3h0M5.8,93.2h0M10.7,93.2h0M21.6,90.8h0M27.9,90.8h0M24.8,87.7h0M24.8,93.8h0M87.7,90.8h0M93.8,90.8h0M90.8,87.7h0M90.8,93.8h0M120.7,90.8h0M126.8,90.8h0M123.8,87.7h0M123.8,93.8h0M203.8,88.3h0M208.7,88.3h0M203.8,93.2h0M208.7,93.2h0M219.7,90.8h0M225.8,90.8h0M222.8,87.7h0M222.8,93.8h0M318.6,90.8h0M324.9,90.8h0M321.8,87.7h0M321.8,93.8h0M5.2,107.2h0M11.3,107.2h0M8.2,104.2h0M8.2,110.3h0M22.3,104.8h0M27.2,104.8h0M22.3,109.7h0M27.2,109.7h0M87.7,107.2h0M93.8,107.2h0M90.8,104.2h0M90.8,110.3h0M104.2,107.2h0M110.3,107.2h0M107.2,104.2h0M107.2,110.3h0M121.3,104.8h0M126.2,104.8h0M121.3,109.7h0M126.2,109.7h0M137.2,107.2h0M143.3,107.2h0M140.2,104.2h0M140.2,110.3h0M186.7,107.2h0M192.8,107.2h0M189.8,104.2h0M189.8,110.3h0M203.2,107.2h0M209.3,107.2h0M206.2,104.2h0M206.2,110.3h0M219.7,107.2h0M225.8,107.2h0M222.8,104.2h0M222.8,110.3h0M236.2,107.2h0M242.3,107.2h0M239.2,104.2h0M239.2,110.3h0M269.1,107.2h0M275.4,107.2h0M272.2,104.2h0M272.2,110.3h0M302.1,107.2h0M308.4,107.2h0M305.2,104.2h0M305.2,110.3h0M318.6,107.2h0M324.9,107.2h0M321.8,104.2h0M321.8,110.3h0M104.2,123.8h0M110.3,123.8h0M107.2,120.7h0M107.2,126.8h0M120.7,123.8h0M126.8,123.8h0M123.8,120.7h0M123.8,126.8h0M186.7,123.8h0M192.8,123.8h0M189.8,120.7h0M189.8,126.8h0M203.2,123.8h0M209.3,123.8h0M206.2,120.7h0M206.2,126.8h0M302.1,123.8h0M308.4,123.8h0M305.2,120.7h0M305.2,126.8h0M318.6,123.8h0M324.9,123.8h0M321.8,120.7h0M321.8,126.8h0M318.6,140.2h0M324.9,140.2h0M321.8,137.2h0M321.8,143.3h0M54.6,173.2h0M60.9,173.2h0M57.8,170.2h0M57.8,176.3h0M71.2,173.2h0M77.3,173.2h0M74.2,170.2h0M74.2,176.3h0M137.2,173.2h0M143.3,173.2h0M140.2,170.2h0M140.2,176.3h0M38.1,189.8h0M44.4,189.8h0M41.2,186.7h0M41.2,192.8h0M54.6,189.8h0M60.9,189.8h0M57.8,186.7h0M57.8,192.8h0M71.2,189.8h0M77.3,189.8h0M74.2,186.7h0M74.2,192.8h0M137.2,189.8h0M143.3,189.8h0M140.2,186.7h0M140.2,192.8h0M153.7,189.8h0M159.8,189.8h0M156.8,186.7h0M156.8,192.8h0M170.2,189.8h0M176.3,189.8h0M173.2,186.7h0M173.2,192.8h0M186.7,189.8h0M192.8,189.8h0M189.8,186.7h0M189.8,192.8h0M236.2,189.8h0M242.3,189.8h0M239.2,186.7h0M239.2,192.8h0M252.7,189.8h0M258.9,189.8h0M255.8,186.7h0M255.8,192.8h0M269.1,189.8h0M275.4,189.8h0M272.2,186.7h0M272.2,192.8h0M286.3,187.3h0M291.2,187.3h0M286.3,192.2h0M291.2,192.2h0M21.6,206.2h0M27.9,206.2h0M24.8,203.2h0M24.8,209.3h0M38.1,206.2h0M44.4,206.2h0M41.2,203.2h0M41.2,209.3h0M54.6,206.2h0M60.9,206.2h0M57.8,203.2h0M57.8,209.3h0M71.2,206.2h0M77.3,206.2h0M74.2,203.2h0M74.2,209.3h0M137.8,203.8h0M142.7,203.8h0M137.8,208.7h0M142.7,208.7h0M153.7,206.2h0M159.8,206.2h0M156.8,203.2h0M156.8,209.3h0M170.2,206.2h0M176.3,206.2h0M173.2,203.2h0M173.2,209.3h0M187.3,203.8h0M192.2,203.8h0M187.3,208.7h0M192.2,208.7h0M252.7,206.2h0M258.9,206.2h0M255.8,203.2h0M255.8,209.3h0M269.1,206.2h0M275.4,206.2h0M272.2,203.2h0M272.2,209.3h0M286.3,203.8h0M291.2,203.8h0M286.3,208.7h0M291.2,208.7h0M302.1,206.2h0M308.4,206.2h0M305.2,203.2h0M305.2,209.3h0M38.8,220.3h0M43.7,220.3h0M38.8,225.2h0M43.7,225.2h0M54.6,222.8h0M60.9,222.8h0M57.8,219.7h0M57.8,225.8h0M71.2,222.8h0M77.3,222.8h0M74.2,219.7h0M74.2,225.8h0M137.2,222.8h0M143.3,222.8h0M140.2,219.7h0M140.2,225.8h0M154.3,220.3h0M159.2,220.3h0M154.3,225.2h0M159.2,225.2h0M170.2,222.8h0M176.3,222.8h0M173.2,219.7h0M173.2,225.8h0M253.3,220.3h0M258.2,220.3h0M253.3,225.2h0M258.2,225.2h0M269.1,222.8h0M275.4,222.8h0M272.2,219.7h0M272.2,225.8h0M285.6,222.8h0M291.9,222.8h0M288.8,219.7h0M288.8,225.8h0M285.6,239.2h0M291.9,239.2h0M288.8,236.2h0M288.8,242.3h0M236.2,255.8h0M242.3,255.8h0M239.2,252.7h0M239.2,258.9h0M5.8,269.8h0M10.7,269.8h0M5.8,274.7h0M10.7,274.7h0M71.8,269.8h0M76.7,269.8h0M71.8,274.7h0M76.7,274.7h0M87.7,272.2h0M93.8,272.2h0M90.8,269.1h0M90.8,275.4h0M104.8,269.8h0M109.7,269.8h0M104.8,274.7h0M109.7,274.7h0M120.7,272.2h0M126.8,272.2h0M123.8,269.1h0M123.8,275.4h0M186.7,272.2h0M192.8,272.2h0M189.8,269.1h0M189.8,275.4h0M203.2,272.2h0M209.3,272.2h0M206.2,269.1h0M206.2,275.4h0M219.7,272.2h0M225.8,272.2h0M222.8,269.1h0M222.8,275.4h0M302.1,272.2h0M308.4,272.2h0M305.2,269.1h0M305.2,275.4h0M318.6,272.2h0M324.9,272.2h0M321.8,269.1h0M321.8,275.4h0M5.2,288.8h0M11.3,288.8h0M8.2,285.6h0M8.2,291.9h0M21.6,288.8h0M27.9,288.8h0M24.8,285.6h0M24.8,291.9h0M71.8,286.3h0M76.7,286.3h0M71.8,291.2h0M76.7,291.2h0M87.7,288.8h0M93.8,288.8h0M90.8,285.6h0M90.8,291.9h0M104.2,288.8h0M110.3,288.8h0M107.2,285.6h0M107.2,291.9h0M120.7,288.8h0M126.8,288.8h0M123.8,285.6h0M123.8,291.9h0M203.2,288.8h0M209.3,288.8h0M206.2,285.6h0M206.2,291.9h0M219.7,288.8h0M225.8,288.8h0M222.8,285.6h0M222.8,291.9h0M236.2,288.8h0M242.3,288.8h0M239.2,285.6h0M239.2,291.9h0M302.8,286.3h0M307.7,286.3h0M302.8,291.2h0M307.7,291.2h0M318.6,288.8h0M324.9,288.8h0M321.8,285.6h0M321.8,291.9h0M5.2,305.2h0M11.3,305.2h0M8.2,302.1h0M8.2,308.4h0M21.6,305.2h0M27.9,305.2h0M24.8,302.1h0M24.8,308.4h0M87.7,305.2h0M93.8,305.2h0M90.8,302.1h0M90.8,308.4h0M104.2,305.2h0M110.3,305.2h0M107.2,302.1h0M107.2,308.4h0M120.7,305.2h0M126.8,305.2h0M123.8,302.1h0M123.8,308.4h0M186.7,305.2h0M192.8,305.2h0M189.8,302.1h0M189.8,308.4h0M203.2,305.2h0M209.3,305.2h0M206.2,302.1h0M206.2,308.4h0M219.7,305.2h0M225.8,305.2h0M222.8,302.1h0M222.8,308.4h0M302.1,305.2h0M308.4,305.2h0M305.2,302.1h0M305.2,308.4h0M319.3,302.8h0M324.2,302.8h0M319.3,307.7h0M324.2,307.7h0M5.2,321.8h0M11.3,321.8h0M8.2,318.6h0M8.2,324.9h0M87.7,321.8h0M93.8,321.8h0M90.8,318.6h0M90.8,324.9h0M104.2,321.8h0M110.3,321.8h0M107.2,318.6h0M107.2,324.9h0M121.3,319.3h0M126.2,319.3h0M121.3,324.2h0M126.2,324.2h0M203.8,319.3h0M208.7,319.3h0M203.8,324.2h0M208.7,324.2h0M219.7,321.8h0M225.8,321.8h0M222.8,318.6h0M222.8,324.9h0M302.1,321.8h0M308.4,321.8h0M305.2,318.6h0M305.2,324.9h0M319.3,319.3h0M324.2,319.3h0M319.3,324.2h0M324.2,324.2h0"/><path id="bd4" d="M4.3,8.2h0M12.2,8.2h0M8.2,4.3h0M8.2,12.2h0M103.3,8.2h0M111.2,8.2h0M107.2,4.3h0M107.2,12.2h0M119.8,8.2h0M127.7,8.2h0M123.8,4.3h0M123.8,12.2h0M218.8,8.2h0M226.7,8.2h0M222.8,4.3h0M222.8,12.2h0M317.9,8.2h0M325.6,8.2h0M321.8,4.3h0M321.8,12.2h0M251.8,41.2h0M259.6,41.2h0M255.8,37.4h0M255.8,45.1h0M136.3,74.2h0M144.2,74.2h0M140.2,70.3h0M140.2,78.2h0M235.3,74.2h0M243.2,74.2h0M239.2,70.3h0M239.2,78.2h0M284.9,74.2h0M292.6,74.2h0M288.8,70.3h0M288.8,78.2h0M136.3,90.8h0M144.2,90.8h0M140.2,86.8h0M140.2,94.7h0M185.8,90.8h0M193.7,90.8h0M189.8,86.8h0M189.8,94.7h0M284.9,90.8h0M292.6,90.8h0M288.8,86.8h0M288.8,94.7h0M53.9,107.2h0M61.6,107.2h0M57.8,103.3h0M57.8,111.2h0M251.8,107.2h0M259.6,107.2h0M255.8,103.3h0M255.8,111.2h0M86.8,140.2h0M94.7,140.2h0M90.8,136.3h0M90.8,144.2h0M103.3,140.2h0M111.2,140.2h0M107.2,136.3h0M107.2,144.2h0M218.8,140.2h0M226.7,140.2h0M222.8,136.3h0M222.8,144.2h0M301.4,140.2h0M309.1,140.2h0M305.2,136.3h0M305.2,144.2h0M4.3,156.8h0M12.2,156.8h0M8.2,152.8h0M8.2,160.7h0M185.8,156.8h0M193.7,156.8h0M189.8,152.8h0M189.8,160.7h0M301.4,156.8h0M309.1,156.8h0M305.2,152.8h0M305.2,160.7h0M20.9,173.2h0M28.6,173.2h0M24.8,169.3h0M24.8,177.2h0M119.8,173.2h0M127.7,173.2h0M123.8,169.3h0M123.8,177.2h0M235.3,173.2h0M243.2,173.2h0M239.2,169.3h0M239.2,177.2h0M86.8,189.8h0M94.7,189.8h0M90.8,185.8h0M90.8,193.7h0M103.3,189.8h0M111.2,189.8h0M107.2,185.8h0M107.2,193.7h0M202.3,189.8h0M210.2,189.8h0M206.2,185.8h0M206.2,193.7h0M218.8,189.8h0M226.7,189.8h0M222.8,185.8h0M222.8,193.7h0M86.8,206.2h0M94.7,206.2h0M90.8,202.3h0M90.8,210.2h0M37.4,239.2h0M45.1,239.2h0M41.2,235.3h0M41.2,243.2h0M53.9,239.2h0M61.6,239.2h0M57.8,235.3h0M57.8,243.2h0M136.3,239.2h0M144.2,239.2h0M140.2,235.3h0M140.2,243.2h0M251.8,239.2h0M259.6,239.2h0M255.8,235.3h0M255.8,243.2h0M268.4,239.2h0M276.1,239.2h0M272.2,235.3h0M272.2,243.2h0M4.3,255.8h0M12.2,255.8h0M8.2,251.8h0M8.2,259.6h0M20.9,255.8h0M28.6,255.8h0M24.8,251.8h0M24.8,259.6h0M284.9,255.8h0M292.6,255.8h0M288.8,251.8h0M288.8,259.6h0M20.9,272.2h0M28.6,272.2h0M24.8,268.4h0M24.8,276.1h0M235.3,272.2h0M243.2,272.2h0M239.2,268.4h0M239.2,276.1h0M284.9,272.2h0M292.6,272.2h0M288.8,268.4h0M288.8,276.1h0M37.4,288.8h0M45.1,288.8h0M41.2,284.9h0M41.2,292.6h0M53.9,288.8h0M61.6,288.8h0M57.8,284.9h0M57.8,292.6h0M152.8,288.8h0M160.7,288.8h0M156.8,284.9h0M156.8,292.6h0M169.3,288.8h0M177.2,288.8h0M173.2,284.9h0M173.2,292.6h0M268.4,288.8h0M276.1,288.8h0M272.2,284.9h0M272.2,292.6h0M235.3,305.2h0M243.2,305.2h0M239.2,301.4h0M239.2,309.1h0"/><path id="bd5" d="M36.9,57.8h0M45.6,57.8h0M41.2,53.4h0M41.2,62.1h0M53.4,57.8h0M62.1,57.8h0M57.8,53.4h0M57.8,62.1h0M69.8,57.8h0M78.7,57.8h0M74.2,53.4h0M74.2,62.1h0M152.3,57.8h0M161.2,57.8h0M156.8,53.4h0M156.8,62.1h0M168.8,57.8h0M177.7,57.8h0M173.2,53.4h0M173.2,62.1h0M251.3,57.8h0M260.1,57.8h0M255.8,53.4h0M255.8,62.1h0M267.9,57.8h0M276.6,57.8h0M272.2,53.4h0M272.2,62.1h0M36.9,74.2h0M45.6,74.2h0M41.2,69.8h0M41.2,78.7h0M53.4,74.2h0M62.1,74.2h0M57.8,69.8h0M57.8,78.7h0M69.8,74.2h0M78.7,74.2h0M74.2,69.8h0M74.2,78.7h0M152.3,74.2h0M161.2,74.2h0M156.8,69.8h0M156.8,78.7h0M168.8,74.2h0M177.7,74.2h0M173.2,69.8h0M173.2,78.7h0M251.3,74.2h0M260.1,74.2h0M255.8,69.8h0M255.8,78.7h0M267.9,74.2h0M276.6,74.2h0M272.2,69.8h0M272.2,78.7h0M36.9,90.8h0M45.6,90.8h0M41.2,86.3h0M41.2,95.2h0M53.4,90.8h0M62.1,90.8h0M57.8,86.3h0M57.8,95.2h0M69.8,90.8h0M78.7,90.8h0M74.2,86.3h0M74.2,95.2h0M152.3,90.8h0M161.2,90.8h0M156.8,86.3h0M156.8,95.2h0M168.8,90.8h0M177.7,90.8h0M173.2,86.3h0M173.2,95.2h0M251.3,90.8h0M260.1,90.8h0M255.8,86.3h0M255.8,95.2h0M267.9,90.8h0M276.6,90.8h0M272.2,86.3h0M272.2,95.2h0M86.3,156.8h0M95.2,156.8h0M90.8,152.3h0M90.8,161.2h0M102.8,156.8h0M111.7,156.8h0M107.2,152.3h0M107.2,161.2h0M119.3,156.8h0M128.2,156.8h0M123.8,152.3h0M123.8,161.2h0M201.8,156.8h0M210.7,156.8h0M206.2,152.3h0M206.2,161.2h0M218.3,156.8h0M227.2,156.8h0M222.8,152.3h0M222.8,161.2h0M317.4,156.8h0M326.1,156.8h0M321.8,152.3h0M321.8,161.2h0M3.8,173.2h0M12.7,173.2h0M8.2,168.8h0M8.2,177.7h0M86.3,173.2h0M95.2,173.2h0M90.8,168.8h0M90.8,177.7h0M102.8,173.2h0M111.7,173.2h0M107.2,168.8h0M107.2,177.7h0M201.8,173.2h0M210.7,173.2h0M206.2,168.8h0M206.2,177.7h0M218.3,173.2h0M227.2,173.2h0M222.8,168.8h0M222.8,177.7h0M300.9,173.2h0M309.6,173.2h0M305.2,168.8h0M305.2,177.7h0M317.4,173.2h0M326.1,173.2h0M321.8,168.8h0M321.8,177.7h0M3.8,189.8h0M12.7,189.8h0M8.2,185.3h0M8.2,194.2h0M300.9,189.8h0M309.6,189.8h0M305.2,185.3h0M305.2,194.2h0M317.4,189.8h0M326.1,189.8h0M321.8,185.3h0M321.8,194.2h0M36.9,255.8h0M45.6,255.8h0M41.2,251.3h0M41.2,260.1h0M53.4,255.8h0M62.1,255.8h0M57.8,251.3h0M57.8,260.1h0M135.8,255.8h0M144.7,255.8h0M140.2,251.3h0M140.2,260.1h0M152.3,255.8h0M161.2,255.8h0M156.8,251.3h0M156.8,260.1h0M168.8,255.8h0M177.7,255.8h0M173.2,251.3h0M173.2,260.1h0M251.3,255.8h0M260.1,255.8h0M255.8,251.3h0M255.8,260.1h0M267.9,255.8h0M276.6,255.8h0M272.2,251.3h0M272.2,260.1h0M36.9,272.2h0M45.6,272.2h0M41.2,267.9h0M41.2,276.6h0M53.4,272.2h0M62.1,272.2h0M57.8,267.9h0M57.8,276.6h0M135.8,272.2h0M144.7,272.2h0M140.2,267.9h0M140.2,276.6h0M152.3,272.2h0M161.2,272.2h0M156.8,267.9h0M156.8,276.6h0M168.8,272.2h0M177.7,272.2h0M173.2,267.9h0M173.2,276.6h0M251.3,272.2h0M260.1,272.2h0M255.8,267.9h0M255.8,276.6h0M267.9,272.2h0M276.6,272.2h0M272.2,267.9h0M272.2,276.6h0"/><g id="pat3" fill="none" stroke-linecap="round"><rect width="330" height="330" fill="#2e6e1e"/><path d="M206.2,8.2h0M305.2,8.2h0M123.8,24.8h0M222.8,24.8h0M305.2,24.8h0M321.8,24.8h0M8.2,41.2h0M90.8,41.2h0M107.2,41.2h0M123.8,41.2h0M140.2,41.2h0M206.2,41.2h0M222.8,41.2h0M239.2,41.2h0M321.8,41.2h0M8.2,57.8h0M24.8,57.8h0M90.8,57.8h0M107.2,57.8h0M123.8,57.8h0M140.2,57.8h0M189.8,57.8h0M206.2,57.8h0M222.8,57.8h0M305.2,57.8h0M321.8,57.8h0M156.8,107.2h0M173.2,107.2h0M156.8,123.8h0M173.2,123.8h0M255.8,123.8h0M272.2,123.8h0M288.8,123.8h0M8.2,140.2h0M24.8,140.2h0M41.2,140.2h0M57.8,140.2h0M74.2,140.2h0M140.2,140.2h0M156.8,140.2h0M173.2,140.2h0M255.8,140.2h0M272.2,140.2h0M288.8,140.2h0M24.8,156.8h0M41.2,156.8h0M57.8,156.8h0M74.2,156.8h0M140.2,156.8h0M272.2,156.8h0M288.8,173.2h0M206.2,206.2h0M222.8,206.2h0M321.8,206.2h0M8.2,222.8h0M90.8,222.8h0M107.2,222.8h0M206.2,222.8h0M222.8,222.8h0M305.2,222.8h0M321.8,222.8h0M8.2,239.2h0M74.2,239.2h0M90.8,239.2h0M107.2,239.2h0M123.8,239.2h0M156.8,239.2h0M173.2,239.2h0M189.8,239.2h0M206.2,239.2h0M222.8,239.2h0M239.2,239.2h0M305.2,239.2h0M321.8,239.2h0M189.8,255.8h0M206.2,255.8h0M255.8,288.8h0M140.2,305.2h0M156.8,305.2h0M255.8,305.2h0M272.2,305.2h0M24.8,321.8h0M41.2,321.8h0M57.8,321.8h0M140.2,321.8h0M156.8,321.8h0M173.2,321.8h0M239.2,321.8h0M255.8,321.8h0M272.2,321.8h0" stroke="#1f3a0a" stroke-width="3.8"/><use href="#bd2" stroke="#2a2400" stroke-width="4.7"/><use href="#bd2" stroke="#b06c10" stroke-width="2.7"/><use href="#bd3" stroke="#2a2400" stroke-width="5.7"/><use href="#bd3" stroke="#e08c12" stroke-width="3.7"/><use href="#bd4" stroke="#2a2400" stroke-width="6.5"/><use href="#bd4" stroke="#e08c12" stroke-width="4.5"/><use href="#bd5" stroke="#2a2400" stroke-width="7.1000000000000005"/><use href="#bd5" stroke="#e08c12" stroke-width="5.1000000000000005"/></g>
</defs>
<rect width="1500" height="1234" fill="#fff"/>
<rect x="102" y="41" width="330" height="330" fill="#37962a"/>
<g transform="translate(102,41)"><use href="#pat"/></g>
<rect x="102.5" y="41.5" width="329" height="329" fill="none" stroke="#2a6e20" stroke-width="1"/>
<path d="M266.7,207L266.7,28.8" stroke="#17a04a" stroke-width="2.0"/><path d="M266.7,2.8L273.3,28.8L260.1,28.8Z" fill="#17a04a"/>
<path d="M266.7,206V30" stroke="#3cb06a" stroke-width="2"/>
<path d="M265.7,206L466.6,206" stroke="#2277c6" stroke-width="3.0"/><path d="M491.6,206L466.6,212.4L466.6,199.6Z" fill="#2277c6"/>
<text x="280" y="29.4" class="ax" style="fill:#109a46;font-size:39.3px">Y</text>
<text x="456.6" y="192" class="ax" style="fill:#1a68c0;font-size:39.3px">X</text>
<!-- panel b -->
<path d="M496.5,295L766.8,374.3L766.8,380.90000000000003L496.5,301.6Z" fill="#1f5416"/><path d="M766.8,374.3L956,261.5L956,268.1L766.8,380.90000000000003Z" fill="#2d6b1d"/><g transform="matrix(-0.57333,0.34182,-0.81909,-0.24030,956,261.5)"><use href="#pat3"/></g><path d="M496.5,295L766.8,374.3L956,261.5" fill="none" stroke="#173f10" stroke-width="1"/>
<clipPath id="clb"><path d="M562,303C553.67,294.67 538.83,271.33 533,257C527.17,242.67 525.83,228.67 527,217C528.17,205.33 533.33,194.5 540,187C546.67,179.5 558.17,174.83 567,172C575.83,169.17 588.83,174.83 593,170C597.17,165.17 590.33,150 592,143C593.67,136 597.83,130.67 603,128C608.17,125.33 619,129.17 623,127C627,124.83 624.67,118.17 627,115C629.33,111.83 632,109.17 637,108C642,106.83 651.5,107.33 657,108C662.5,108.67 667.33,113.67 670,112C672.67,110.33 670.17,102 673,98C675.83,94 682,89.67 687,88C692,86.33 699.17,87.17 703,88C706.83,88.83 707.67,94.83 710,93C712.33,91.17 713.67,81 717,77C720.33,73 724,70 730,69C736,68 746.83,69.17 753,71C759.17,72.83 763.67,75.67 767,80C770.33,84.33 769.17,93.67 773,97C776.83,100.33 785.17,97.5 790,100C794.83,102.5 797.83,109 802,112C806.17,115 812.33,114.5 815,118C817.67,121.5 815.5,129.83 818,133C820.5,136.17 826.83,134.67 830,137C833.17,139.33 832.5,145.33 837,147C841.5,148.67 851.5,144.83 857,147C862.5,149.17 867.33,154.17 870,160C872.67,165.83 869.67,178.17 873,182C876.33,185.83 884.33,180.5 890,183C895.67,185.5 902.5,190.33 907,197C911.5,203.67 915.67,213 917,223C918.33,233 917.33,245.83 915,257C912.67,268.17 908.83,280 903,290C897.17,300 887.17,310.67 880,317C872.83,323.33 865,326.17 860,328C855,329.83 853.83,329.33 850,328C846.17,326.67 843.67,319.67 837,320C830.33,320.33 817.83,330.5 810,330C802.17,329.5 795.5,318.67 790,317C784.5,315.33 782.5,316.67 777,320C771.5,323.33 762.67,334.83 757,337C751.33,339.17 747.5,336.33 743,333C738.5,329.67 734.33,321.33 730,317C725.67,312.67 721.5,307.67 717,307C712.5,306.33 708.67,309.67 703,313C697.33,316.33 689,323.67 683,327C677,330.33 672.5,333 667,333C661.5,333 656.17,330.33 650,327C643.83,323.67 637.17,316.33 630,313C622.83,309.67 614.83,308 607,307C599.17,306 590.5,307.67 583,307C575.5,306.33 570.33,311.33 562,303Z"/></clipPath>
<g clip-path="url(#clb)">
<rect x="522" y="64" width="400" height="278" fill="url(#baseb)"/>
<linearGradient id="L1" gradientUnits="userSpaceOnUse" x1="-41.05" y1="0" x2="41.05" y2="0"><stop offset="0" stop-color="#30f000" stop-opacity="0"/><stop offset="0.22" stop-color="#8bf900"/><stop offset="0.35" stop-color="#c0ff00"/><stop offset="0.55" stop-color="#ffff00"/><stop offset="0.75" stop-color="#ffd800"/><stop offset="0.9" stop-color="#ffa000"/><stop offset="1" stop-color="#ff7800"/></linearGradient><ellipse rx="43.05" ry="21" transform="translate(760,109) rotate(-92.79)" fill="#0c9000" opacity="0.22" filter="url(#b2)"/><ellipse rx="41.05" ry="19" transform="translate(760,109) rotate(-92.79)" fill="url(#L1)" filter="url(#b1)"/>
<linearGradient id="L2" gradientUnits="userSpaceOnUse" x1="-44.53" y1="0" x2="42.66" y2="-5.52"><stop offset="0" stop-color="#30f000" stop-opacity="0"/><stop offset="0.22" stop-color="#8bf900"/><stop offset="0.35" stop-color="#c0ff00"/><stop offset="0.55" stop-color="#ffff00"/><stop offset="0.75" stop-color="#ffd800"/><stop offset="0.9" stop-color="#ffa000"/><stop offset="1" stop-color="#ff7800"/></linearGradient><ellipse rx="46.53" ry="30" transform="translate(742.5,108.5) rotate(-102.32)" fill="#0c9000" opacity="0.22" filter="url(#b2)"/><ellipse rx="44.53" ry="28" transform="translate(742.5,108.5) rotate(-102.32)" fill="url(#L2)" filter="url(#b1)"/>
<linearGradient id="L3" gradientUnits="userSpaceOnUse" x1="-39.95" y1="0" x2="39.95" y2="0"><stop offset="0" stop-color="#50f800" stop-opacity="0"/><stop offset="0.22" stop-color="#91fc00"/><stop offset="0.35" stop-color="#b8ff00"/><stop offset="0.6" stop-color="#f8ff00"/><stop offset="1" stop-color="#ffff00"/></linearGradient><ellipse rx="41.95" ry="20" transform="translate(694,125.5) rotate(-98.64)" fill="#0c9000" opacity="0.22" filter="url(#b2)"/><ellipse rx="39.95" ry="18" transform="translate(694,125.5) rotate(-98.64)" fill="url(#L3)" filter="url(#b1)"/>
<linearGradient id="L4" gradientUnits="userSpaceOnUse" x1="-39.39" y1="0" x2="39.39" y2="0"><stop offset="0" stop-color="#50f800" stop-opacity="0"/><stop offset="0.22" stop-color="#91fc00"/><stop offset="0.35" stop-color="#b8ff00"/><stop offset="0.6" stop-color="#f8ff00"/><stop offset="1" stop-color="#ffff00"/></linearGradient><ellipse rx="41.39" ry="25" transform="translate(664,140.5) rotate(-118.84)" fill="#0c9000" opacity="0.22" filter="url(#b2)"/><ellipse rx="39.39" ry="23" transform="translate(664,140.5) rotate(-118.84)" fill="url(#L4)" filter="url(#b1)"/>
<linearGradient id="L5" gradientUnits="userSpaceOnUse" x1="-46.35" y1="0" x2="46.35" y2="0"><stop offset="0" stop-color="#50f800" stop-opacity="0"/><stop offset="0.22" stop-color="#91fc00"/><stop offset="0.35" stop-color="#b8ff00"/><stop offset="0.6" stop-color="#f8ff00"/><stop offset="1" stop-color="#ffff00"/></linearGradient><ellipse rx="48.35" ry="25" transform="translate(636.5,161) rotate(-132.81)" fill="#0c9000" opacity="0.22" filter="url(#b2)"/><ellipse rx="46.35" ry="23" transform="translate(636.5,161) rotate(-132.81)" fill="url(#L5)" filter="url(#b1)"/>
<linearGradient id="L6" gradientUnits="userSpaceOnUse" x1="-39.04" y1="0" x2="39.04" y2="0"><stop offset="0" stop-color="#50f800" stop-opacity="0"/><stop offset="0.22" stop-color="#91fc00"/><stop offset="0.35" stop-color="#b8ff00"/><stop offset="0.6" stop-color="#f8ff00"/><stop offset="1" stop-color="#ffff00"/></linearGradient><ellipse rx="41.04" ry="19" transform="translate(774.5,136.5) rotate(-80.42)" fill="#0c9000" opacity="0.22" filter="url(#b2)"/><ellipse rx="39.04" ry="17" transform="translate(774.5,136.5) rotate(-80.42)" fill="url(#L6)" filter="url(#b1)"/>
<linearGradient id="L7" gradientUnits="userSpaceOnUse" x1="-36.5" y1="0" x2="36.5" y2="0"><stop offset="0" stop-color="#50f800" stop-opacity="0"/><stop offset="0.22" stop-color="#91fc00"/><stop offset="0.35" stop-color="#b8ff00"/><stop offset="0.6" stop-color="#f8ff00"/><stop offset="1" stop-color="#ffff00"/></linearGradient><ellipse rx="38.5" ry="17" transform="translate(800.5,149.5) rotate(-76.53)" fill="#0c9000" opacity="0.22" filter="url(#b2)"/><ellipse rx="36.5" ry="15" transform="translate(800.5,149.5) rotate(-76.53)" fill="url(#L7)" filter="url(#b1)"/>
<linearGradient id="L8" gradientUnits="userSpaceOnUse" x1="-33.56" y1="0" x2="33.56" y2="0"><stop offset="0" stop-color="#50f800" stop-opacity="0"/><stop offset="0.22" stop-color="#91fc00"/><stop offset="0.35" stop-color="#b8ff00"/><stop offset="0.6" stop-color="#f8ff00"/><stop offset="1" stop-color="#ffff00"/></linearGradient><ellipse rx="35.56" ry="16" transform="translate(816,165.5) rotate(-61.53)" fill="#0c9000" opacity="0.22" filter="url(#b2)"/><ellipse rx="33.56" ry="14" transform="translate(816,165.5) rotate(-61.53)" fill="url(#L8)" filter="url(#b1)"/>
<linearGradient id="L9" gradientUnits="userSpaceOnUse" x1="-35.7" y1="0" x2="35.7" y2="0"><stop offset="0" stop-color="#50f800" stop-opacity="0"/><stop offset="0.22" stop-color="#91fc00"/><stop offset="0.35" stop-color="#b8ff00"/><stop offset="0.6" stop-color="#f8ff00"/><stop offset="1" stop-color="#ffff00"/></linearGradient><ellipse rx="37.7" ry="26" transform="translate(836.5,176.5) rotate(-52.97)" fill="#0c9000" opacity="0.22" filter="url(#b2)"/><ellipse rx="35.7" ry="24" transform="translate(836.5,176.5) rotate(-52.97)" fill="url(#L9)" filter="url(#b1)"/>
<linearGradient id="L10" gradientUnits="userSpaceOnUse" x1="-32.39" y1="0" x2="32.39" y2="0"><stop offset="0" stop-color="#50f800" stop-opacity="0"/><stop offset="0.22" stop-color="#91fc00"/><stop offset="0.35" stop-color="#b8ff00"/><stop offset="0.6" stop-color="#f8ff00"/><stop offset="1" stop-color="#ffff00"/></linearGradient><ellipse rx="34.39" ry="12" transform="translate(767,158) rotate(-81.12)" fill="#0c9000" opacity="0.22" filter="url(#b2)"/><ellipse rx="32.39" ry="10" transform="translate(767,158) rotate(-81.12)" fill="url(#L10)" filter="url(#b1)"/>
<linearGradient id="L11" gradientUnits="userSpaceOnUse" x1="-39.82" y1="0" x2="39.82" y2="0"><stop offset="0" stop-color="#50f800" stop-opacity="0"/><stop offset="0.22" stop-color="#91fc00"/><stop offset="0.35" stop-color="#b8ff00"/><stop offset="0.6" stop-color="#f8ff00"/><stop offset="1" stop-color="#ffff00"/></linearGradient><ellipse rx="41.82" ry="20" transform="translate(804,185) rotate(-61.5)" fill="#0c9000" opacity="0.22" filter="url(#b2)"/><ellipse rx="39.82" ry="18" transform="translate(804,185) rotate(-61.5)" fill="url(#L11)" filter="url(#b1)"/>
<linearGradient id="L12" gradientUnits="userSpaceOnUse" x1="-35.53" y1="0" x2="35.53" y2="0"><stop offset="0" stop-color="#50f800" stop-opacity="0"/><stop offset="0.22" stop-color="#91fc00"/><stop offset="0.35" stop-color="#b8ff00"/><stop offset="0.6" stop-color="#f8ff00"/><stop offset="1" stop-color="#ffff00"/></linearGradient><ellipse rx="37.53" ry="19" transform="translate(677.5,187.5) rotate(-129.29)" fill="#0c9000" opacity="0.22" filter="url(#b2)"/><ellipse rx="35.53" ry="17" transform="translate(677.5,187.5) rotate(-129.29)" fill="url(#L12)" filter="url(#b1)"/>
<ellipse rx="14" ry="30" transform="translate(716,185) rotate(-10)" fill="url(#spG)" opacity="0.9"/>
<ellipse rx="8" ry="24" transform="translate(748,170) rotate(15)" fill="url(#spG)" opacity="0.6"/>
<linearGradient id="L13" gradientUnits="userSpaceOnUse" x1="-85.73" y1="14.58" x2="64.97" y2="-4.64"><stop offset="0" stop-color="#30f000" stop-opacity="0"/><stop offset="0.22" stop-color="#60f800"/><stop offset="0.3" stop-color="#e8ff00"/><stop offset="0.4" stop-color="#ffff00"/><stop offset="0.64" stop-color="#fff400"/><stop offset="0.78" stop-color="#ffa800"/><stop offset="0.9" stop-color="#ff4800"/><stop offset="1" stop-color="#ff2400"/></linearGradient><ellipse rx="64.23" ry="77" transform="translate(857.5,252.5) rotate(-8.78)" fill="#0c9000" opacity="0.22" filter="url(#b2)"/><ellipse rx="62.23" ry="75" transform="translate(857.5,252.5) rotate(-8.78)" fill="url(#L13)" filter="url(#b1)"/>
<linearGradient id="L14" gradientUnits="userSpaceOnUse" x1="-124.31" y1="6" x2="95.32" y2="1.96"><stop offset="0" stop-color="#60f800" stop-opacity="0"/><stop offset="0.22" stop-color="#b0ff00"/><stop offset="0.3" stop-color="#f4ff00"/><stop offset="0.64" stop-color="#fff400"/><stop offset="0.78" stop-color="#ffa800"/><stop offset="0.9" stop-color="#ff4800"/><stop offset="1" stop-color="#ff2400"/></linearGradient><ellipse rx="96.92" ry="80" transform="translate(617,243) rotate(-168.45)" fill="#0c9000" opacity="0.22" filter="url(#b2)"/><ellipse rx="94.92" ry="78" transform="translate(617,243) rotate(-168.45)" fill="url(#L14)" filter="url(#b1)"/>
<ellipse rx="80" ry="18" transform="translate(630,303) rotate(3)" fill="url(#spG)" opacity="0.4"/>
<ellipse rx="62" ry="62" transform="translate(772,285) rotate(0)" fill="url(#spG)" opacity="1"/>
<ellipse rx="16" ry="30" transform="translate(742,236) rotate(0)" fill="url(#spG)" opacity="1"/>
<ellipse rx="8" ry="12" transform="translate(742,239) rotate(0)" fill="url(#spC)" opacity="0.8"/>
<linearGradient id="L15" gradientUnits="userSpaceOnUse" x1="-40.92" y1="0" x2="40.92" y2="0"><stop offset="0" stop-color="#50f800" stop-opacity="0"/><stop offset="0.22" stop-color="#91fc00"/><stop offset="0.35" stop-color="#b8ff00"/><stop offset="0.6" stop-color="#f8ff00"/><stop offset="1" stop-color="#ffff00"/></linearGradient><ellipse rx="42.92" ry="27" transform="translate(658,229.5) rotate(-141.45)" fill="#0c9000" opacity="0.22" filter="url(#b2)"/><ellipse rx="40.92" ry="25" transform="translate(658,229.5) rotate(-141.45)" fill="url(#L15)" filter="url(#b1)"/>
<ellipse rx="13" ry="13" transform="translate(655,275) rotate(0)" fill="url(#spC)" opacity="0.8"/>
<linearGradient id="L16" gradientUnits="userSpaceOnUse" x1="-48.56" y1="0" x2="48.56" y2="0"><stop offset="0" stop-color="#50f800" stop-opacity="0"/><stop offset="0.1" stop-color="#6efa00"/><stop offset="0.35" stop-color="#b8ff00"/><stop offset="0.6" stop-color="#f8ff00"/><stop offset="1" stop-color="#ffff00"/></linearGradient><ellipse rx="50.56" ry="18" transform="translate(762.5,246.5) rotate(-92.95)" fill="#0c9000" opacity="0.22" filter="url(#b2)"/><ellipse rx="48.56" ry="16" transform="translate(762.5,246.5) rotate(-92.95)" fill="url(#L16)" filter="url(#b1)"/>
<linearGradient id="L17" gradientUnits="userSpaceOnUse" x1="-61.58" y1="0" x2="52.87" y2="-20.13"><stop offset="0" stop-color="#70f800" stop-opacity="0"/><stop offset="0.1" stop-color="#8dfa00"/><stop offset="0.3" stop-color="#c8ff00"/><stop offset="0.55" stop-color="#ffff00"/><stop offset="0.86" stop-color="#ffe800"/><stop offset="1" stop-color="#ffb000"/></linearGradient><ellipse rx="63.58" ry="44" transform="translate(701.5,258.5) rotate(-113.44)" fill="#0c9000" opacity="0.22" filter="url(#b2)"/><ellipse rx="61.58" ry="42" transform="translate(701.5,258.5) rotate(-113.44)" fill="url(#L17)" filter="url(#b1)"/>
<linearGradient id="L18" gradientUnits="userSpaceOnUse" x1="62.74" y1="-6.68" x2="-8.96" y2="0.95"><stop offset="0" stop-color="#28f000" stop-opacity="0"/><stop offset="0.22" stop-color="#6ef800"/><stop offset="0.4" stop-color="#a8ff00"/><stop offset="0.65" stop-color="#f8ff00"/><stop offset="1" stop-color="#ffff00"/></linearGradient><ellipse rx="38.68" ry="24" transform="translate(795,277.5) rotate(62.39)" fill="#0c9000" opacity="0.22" filter="url(#b2)"/><ellipse rx="36.68" ry="22" transform="translate(795,277.5) rotate(62.39)" fill="url(#L18)" filter="url(#b1)"/>
<ellipse rx="7" ry="26" transform="translate(782,260) rotate(5)" fill="url(#spG)" opacity="0.7"/>
<linearGradient id="L19" gradientUnits="userSpaceOnUse" x1="-28.71" y1="0" x2="28.71" y2="0"><stop offset="0" stop-color="#00f070" stop-opacity="0"/><stop offset="0.22" stop-color="#0ef249"/><stop offset="0.5" stop-color="#20f418"/><stop offset="1" stop-color="#68ff00"/></linearGradient><ellipse rx="30.71" ry="15" transform="translate(748.5,308.5) rotate(83)" fill="#0c9000" opacity="0.22" filter="url(#b2)"/><ellipse rx="28.71" ry="13" transform="translate(748.5,308.5) rotate(83)" fill="url(#L19)" filter="url(#b1)"/>
<ellipse rx="12" ry="34" transform="translate(744,250) rotate(4)" fill="url(#spG)" opacity="0.9"/>
<ellipse rx="11" ry="44" transform="translate(786,262) rotate(6)" fill="url(#spG)" opacity="0.9"/>
<ellipse rx="12" ry="50" transform="translate(824,270) rotate(8)" fill="url(#spG)" opacity="0.8"/>
<ellipse rx="34" ry="14" transform="translate(770,322) rotate(0)" fill="url(#spG)" opacity="0.8"/>
<ellipse rx="26" ry="10" transform="translate(690,322) rotate(0)" fill="url(#spG)" opacity="0.5"/>
</g>
<path d="M623.2,337.9L591.16,357.37" stroke="#1a1aee" stroke-width="1.5"/><path d="M580.9,363.6L589.55,354.72L592.77,360.02Z" fill="#1a1aee"/>
<path d="M859.3,326.8L892.34,339.88" stroke="#18cc18" stroke-width="1.5"/><path d="M903.5,344.3L891.2,342.76L893.48,337Z" fill="#18cc18"/>
<text x="610" y="376.2" class="ax" style="fill:#1a1aee;font-size:34px">X</text>
<text x="895.5" y="334.9" class="ax" style="fill:#18cc18;font-size:34px">Y</text>
<rect x="932.2" y="23.8" width="10.3" height="133.2" fill="url(#jet)"/>
<text x="951.6" y="35.8" class="cb">-5</text>
<text x="946.6" y="160.6" class="cb">-50</text>
<!-- panel c -->
<path d="M1011.5,294.7L1281.6,373.7L1281.6,380.3L1011.5,301.3Z" fill="#1f5416"/><path d="M1281.6,373.7L1471,260.9L1471,267.5L1281.6,380.3Z" fill="#2d6b1d"/><g transform="matrix(-0.57394,0.34182,-0.81848,-0.23939,1471,260.9)"><use href="#pat3"/></g><path d="M1011.5,294.7L1281.6,373.7L1471,260.9" fill="none" stroke="#173f10" stroke-width="1"/>
<clipPath id="clc"><path d="M1103,277C1097,269.83 1083.67,251.67 1077,240C1070.33,228.33 1064.67,217 1063,207C1061.33,197 1063.67,187.5 1067,180C1070.33,172.5 1076.33,166.17 1083,162C1089.67,157.83 1098.67,155.33 1107,155C1115.33,154.67 1127.83,161.33 1133,160C1138.17,158.67 1135.17,150.33 1138,147C1140.83,143.67 1144.17,140 1150,140C1155.83,140 1166.83,144.83 1173,147C1179.17,149.17 1183.83,153.67 1187,153C1190.17,152.33 1189.83,145.17 1192,143C1194.17,140.83 1196.5,141 1200,140C1203.5,139 1209.67,142 1213,137C1216.33,132 1216.67,119.5 1220,110C1223.33,100.5 1228,87.5 1233,80C1238,72.5 1244.33,67.5 1250,65C1255.67,62.5 1262,62.5 1267,65C1272,67.5 1276.67,73.67 1280,80C1283.33,86.33 1285.83,95.17 1287,103C1288.17,110.83 1285.33,123.33 1287,127C1288.67,130.67 1294.33,124 1297,125C1299.67,126 1302.5,127.67 1303,133C1303.5,138.33 1298.83,151.33 1300,157C1301.17,162.67 1306.67,166.5 1310,167C1313.33,167.5 1315,160.67 1320,160C1325,159.33 1334.5,160.83 1340,163C1345.5,165.17 1348.5,171.83 1353,173C1357.5,174.17 1362,169.33 1367,170C1372,170.67 1378,173.67 1383,177C1388,180.33 1394.17,185 1397,190C1399.83,195 1400.67,199.83 1400,207C1399.33,214.17 1396.83,224.17 1393,233C1389.17,241.83 1382.5,252.67 1377,260C1371.5,267.33 1361.67,271.5 1360,277C1358.33,282.5 1364.17,287 1367,293C1369.83,299 1377,308.83 1377,313C1377,317.17 1372,318 1367,318C1362,318 1353.67,316 1347,313C1340.33,310 1332.67,300.5 1327,300C1321.33,299.5 1317.5,308.83 1313,310C1308.5,311.17 1304.33,306.5 1300,307C1295.67,307.5 1291.5,313.67 1287,313C1282.5,312.33 1277,301.33 1273,303C1269,304.67 1266.33,320.17 1263,323C1259.67,325.83 1256.33,323.83 1253,320C1249.67,316.17 1246.33,302.17 1243,300C1239.67,297.83 1238,307 1233,307C1228,307 1220.67,298.33 1213,300C1205.33,301.67 1194.67,312.83 1187,317C1179.33,321.17 1171,325.67 1167,325C1163,324.33 1162,318.33 1163,313C1164,307.67 1175.17,295.17 1173,293C1170.83,290.83 1157.67,297.5 1150,300C1142.33,302.5 1131.67,308 1127,308C1122.33,308 1121.5,303.5 1122,300C1122.5,296.5 1131.5,289.83 1130,287C1128.5,284.17 1117.5,284.67 1113,283C1108.5,281.33 1109,284.17 1103,277Z"/></clipPath>
<g clip-path="url(#clc)">
<rect x="1058" y="60" width="347" height="270" fill="url(#basec)"/>
<linearGradient id="L20" gradientUnits="userSpaceOnUse" x1="-34.82" y1="0" x2="34.82" y2="0"><stop offset="0" stop-color="#20f010" stop-opacity="0"/><stop offset="0.22" stop-color="#46f60a"/><stop offset="0.55" stop-color="#80ff00"/><stop offset="1" stop-color="#e0ff00"/></linearGradient><ellipse rx="36.82" ry="21" transform="translate(1318.5,184) rotate(-35.06)" fill="#0c9000" opacity="0.22" filter="url(#b2)"/><ellipse rx="34.82" ry="19" transform="translate(1318.5,184) rotate(-35.06)" fill="url(#L20)" filter="url(#b1)"/>
<linearGradient id="L21" gradientUnits="userSpaceOnUse" x1="-31.32" y1="0" x2="31.32" y2="0"><stop offset="0" stop-color="#20f010" stop-opacity="0"/><stop offset="0.22" stop-color="#46f60a"/><stop offset="0.55" stop-color="#80ff00"/><stop offset="1" stop-color="#e0ff00"/></linearGradient><ellipse rx="33.32" ry="14" transform="translate(1266.5,147) rotate(-81.74)" fill="#0c9000" opacity="0.22" filter="url(#b2)"/><ellipse rx="31.32" ry="12" transform="translate(1266.5,147) rotate(-81.74)" fill="url(#L21)" filter="url(#b1)"/>
<linearGradient id="L22" gradientUnits="userSpaceOnUse" x1="-31.32" y1="0" x2="31.32" y2="0"><stop offset="0" stop-color="#20f010" stop-opacity="0"/><stop offset="0.22" stop-color="#46f60a"/><stop offset="0.55" stop-color="#80ff00"/><stop offset="1" stop-color="#e0ff00"/></linearGradient><ellipse rx="33.32" ry="13" transform="translate(1289,156) rotate(-73.3)" fill="#0c9000" opacity="0.22" filter="url(#b2)"/><ellipse rx="31.32" ry="11" transform="translate(1289,156) rotate(-73.3)" fill="url(#L22)" filter="url(#b1)"/>
<linearGradient id="L23" gradientUnits="userSpaceOnUse" x1="-69.46" y1="0" x2="69.46" y2="0"><stop offset="0" stop-color="#20f010" stop-opacity="0"/><stop offset="0.22" stop-color="#4ff604"/><stop offset="0.3" stop-color="#60f800"/><stop offset="0.5" stop-color="#d0ff00"/><stop offset="0.62" stop-color="#ffff00"/><stop offset="0.85" stop-color="#fff000"/><stop offset="0.94" stop-color="#ffb400"/><stop offset="1" stop-color="#ff7800"/></linearGradient><ellipse rx="71.46" ry="36" transform="translate(1251,131) rotate(-83.39)" fill="#0c9000" opacity="0.22" filter="url(#b2)"/><ellipse rx="69.46" ry="34" transform="translate(1251,131) rotate(-83.39)" fill="url(#L23)" filter="url(#b1)"/>
<linearGradient id="L24" gradientUnits="userSpaceOnUse" x1="-46.29" y1="0" x2="46.29" y2="0"><stop offset="0" stop-color="#28f000" stop-opacity="0"/><stop offset="0.22" stop-color="#6ef800"/><stop offset="0.4" stop-color="#a8ff00"/><stop offset="0.65" stop-color="#f8ff00"/><stop offset="1" stop-color="#ffff00"/></linearGradient><ellipse rx="48.29" ry="18" transform="translate(1178.5,165.5) rotate(-153.71)" fill="#0c9000" opacity="0.22" filter="url(#b2)"/><ellipse rx="46.29" ry="16" transform="translate(1178.5,165.5) rotate(-153.71)" fill="url(#L24)" filter="url(#b1)"/>
<linearGradient id="L25" gradientUnits="userSpaceOnUse" x1="-28.15" y1="0" x2="28.15" y2="0"><stop offset="0" stop-color="#20f010" stop-opacity="0"/><stop offset="0.22" stop-color="#43f409"/><stop offset="0.5" stop-color="#70fa00"/><stop offset="0.8" stop-color="#d8ff00"/><stop offset="1" stop-color="#f4ff00"/></linearGradient><ellipse rx="30.15" ry="17" transform="translate(1207.5,173.5) rotate(-109.72)" fill="#0c9000" opacity="0.22" filter="url(#b2)"/><ellipse rx="28.15" ry="15" transform="translate(1207.5,173.5) rotate(-109.72)" fill="url(#L25)" filter="url(#b1)"/>
<linearGradient id="L26" gradientUnits="userSpaceOnUse" x1="-39.91" y1="0" x2="39.91" y2="0"><stop offset="0" stop-color="#10f030" stop-opacity="0"/><stop offset="0.22" stop-color="#2ff419"/><stop offset="0.45" stop-color="#50f800"/><stop offset="0.8" stop-color="#c8ff00"/><stop offset="1" stop-color="#f4ff00"/></linearGradient><ellipse rx="41.91" ry="25" transform="translate(1278.5,193.5) rotate(-52.13)" fill="#0c9000" opacity="0.22" filter="url(#b2)"/><ellipse rx="39.91" ry="23" transform="translate(1278.5,193.5) rotate(-52.13)" fill="url(#L26)" filter="url(#b1)"/>
<ellipse rx="14" ry="24" transform="translate(1245,214) rotate(0)" fill="url(#spC)" opacity="1"/>
<linearGradient id="L27" gradientUnits="userSpaceOnUse" x1="-78.99" y1="-3.71" x2="63.18" y2="4.27"><stop offset="0" stop-color="#20f010" stop-opacity="0"/><stop offset="0.22" stop-color="#36f605"/><stop offset="0.32" stop-color="#40f800"/><stop offset="0.45" stop-color="#d8ff00"/><stop offset="0.55" stop-color="#ffff00"/><stop offset="0.74" stop-color="#fff000"/><stop offset="0.86" stop-color="#ffa800"/><stop offset="0.95" stop-color="#ff5800"/><stop offset="1" stop-color="#ff4000"/></linearGradient><ellipse rx="71.49" ry="60" transform="translate(1348.5,228.5) rotate(-32.66)" fill="#0c9000" opacity="0.22" filter="url(#b2)"/><ellipse rx="69.49" ry="58" transform="translate(1348.5,228.5) rotate(-32.66)" fill="url(#L27)" filter="url(#b1)"/>
<ellipse rx="42" ry="22" transform="translate(1322,288) rotate(-28)" fill="url(#spG)" opacity="0.95"/>
<linearGradient id="L28" gradientUnits="userSpaceOnUse" x1="-93.34" y1="10.1" x2="80.81" y2="0.29"><stop offset="0" stop-color="#20f010" stop-opacity="0"/><stop offset="0.22" stop-color="#4af702"/><stop offset="0.25" stop-color="#50f800"/><stop offset="0.4" stop-color="#d8ff00"/><stop offset="0.52" stop-color="#ffff00"/><stop offset="0.72" stop-color="#fff000"/><stop offset="0.84" stop-color="#ffa800"/><stop offset="0.95" stop-color="#ff5800"/><stop offset="1" stop-color="#ff4000"/></linearGradient><ellipse rx="89.51" ry="66" transform="translate(1128.5,225.5) rotate(-150.95)" fill="#0c9000" opacity="0.22" filter="url(#b2)"/><ellipse rx="87.51" ry="64" transform="translate(1128.5,225.5) rotate(-150.95)" fill="url(#L28)" filter="url(#b1)"/>
<ellipse rx="48" ry="22" transform="translate(1128,276) rotate(22)" fill="url(#spG)" opacity="0.95"/>
<linearGradient id="L29" gradientUnits="userSpaceOnUse" x1="-42.43" y1="0" x2="42.43" y2="0"><stop offset="0" stop-color="#10f030" stop-opacity="0"/><stop offset="0.22" stop-color="#2cf41b"/><stop offset="0.5" stop-color="#50f800"/><stop offset="0.8" stop-color="#d8ff00"/><stop offset="1" stop-color="#ffff00"/></linearGradient><ellipse rx="44.43" ry="31" transform="translate(1192,216) rotate(-135)" fill="#0c9000" opacity="0.22" filter="url(#b2)"/><ellipse rx="42.43" ry="29" transform="translate(1192,216) rotate(-135)" fill="url(#L29)" filter="url(#b1)"/>
<ellipse rx="36" ry="32" transform="translate(1200,288) rotate(0)" fill="url(#spC)" opacity="1"/>
<ellipse rx="12" ry="26" transform="translate(1262,255) rotate(0)" fill="url(#spC)" opacity="1"/>
<ellipse rx="18" ry="24" transform="translate(1245,300) rotate(0)" fill="url(#spC)" opacity="1"/>
<linearGradient id="L30" gradientUnits="userSpaceOnUse" x1="-36.1" y1="0" x2="36.1" y2="0"><stop offset="0" stop-color="#00f080" stop-opacity="0"/><stop offset="0.22" stop-color="#12f24f"/><stop offset="0.5" stop-color="#28f410"/><stop offset="1" stop-color="#a8ff00"/></linearGradient><ellipse rx="38.1" ry="17" transform="translate(1155,284.5) rotate(149.17)" fill="#0c9000" opacity="0.22" filter="url(#b2)"/><ellipse rx="36.1" ry="15" transform="translate(1155,284.5) rotate(149.17)" fill="url(#L30)" filter="url(#b1)"/>
<linearGradient id="L31" gradientUnits="userSpaceOnUse" x1="-28.74" y1="0" x2="28.74" y2="0"><stop offset="0" stop-color="#00f0a0" stop-opacity="0"/><stop offset="0.22" stop-color="#0ef068"/><stop offset="0.5" stop-color="#20f020"/><stop offset="1" stop-color="#70ff00"/></linearGradient><ellipse rx="30.74" ry="19" transform="translate(1185.5,300) rotate(130.06)" fill="#0c9000" opacity="0.22" filter="url(#b2)"/><ellipse rx="28.74" ry="17" transform="translate(1185.5,300) rotate(130.06)" fill="url(#L31)" filter="url(#b1)"/>
<linearGradient id="L32" gradientUnits="userSpaceOnUse" x1="-35" y1="0" x2="35" y2="0"><stop offset="0" stop-color="#00f0a0" stop-opacity="0"/><stop offset="0.22" stop-color="#1af251"/><stop offset="0.4" stop-color="#30f410"/><stop offset="0.75" stop-color="#c0ff00"/><stop offset="1" stop-color="#ffff00"/></linearGradient><ellipse rx="37" ry="21" transform="translate(1211,247.5) rotate(-111.8)" fill="#0c9000" opacity="0.22" filter="url(#b2)"/><ellipse rx="35" ry="19" transform="translate(1211,247.5) rotate(-111.8)" fill="url(#L32)" filter="url(#b1)"/>
<linearGradient id="L33" gradientUnits="userSpaceOnUse" x1="-43.42" y1="0" x2="43.42" y2="0"><stop offset="0" stop-color="#00f090" stop-opacity="0"/><stop offset="0.22" stop-color="#1af24a"/><stop offset="0.4" stop-color="#30f410"/><stop offset="0.75" stop-color="#b0ff00"/><stop offset="1" stop-color="#f8ff00"/></linearGradient><ellipse rx="45.42" ry="28" transform="translate(1291,266.5) rotate(-54.85)" fill="#0c9000" opacity="0.22" filter="url(#b2)"/><ellipse rx="43.42" ry="26" transform="translate(1291,266.5) rotate(-54.85)" fill="url(#L33)" filter="url(#b1)"/>
<linearGradient id="L34" gradientUnits="userSpaceOnUse" x1="-34" y1="0" x2="34" y2="0"><stop offset="0" stop-color="#00f0c0" stop-opacity="0"/><stop offset="0.22" stop-color="#0ef07a"/><stop offset="0.5" stop-color="#20f020"/><stop offset="1" stop-color="#a0ff00"/></linearGradient><ellipse rx="36" ry="16" transform="translate(1243.5,258) rotate(-89.16)" fill="#0c9000" opacity="0.22" filter="url(#b2)"/><ellipse rx="34" ry="14" transform="translate(1243.5,258) rotate(-89.16)" fill="url(#L34)" filter="url(#b1)"/>
<linearGradient id="L35" gradientUnits="userSpaceOnUse" x1="-27.06" y1="0" x2="27.06" y2="0"><stop offset="0" stop-color="#00f080" stop-opacity="0"/><stop offset="0.22" stop-color="#12f24f"/><stop offset="0.5" stop-color="#28f410"/><stop offset="1" stop-color="#a8ff00"/></linearGradient><ellipse rx="29.06" ry="17" transform="translate(1357.5,290) rotate(62.49)" fill="#0c9000" opacity="0.22" filter="url(#b2)"/><ellipse rx="27.06" ry="15" transform="translate(1357.5,290) rotate(62.49)" fill="url(#L35)" filter="url(#b1)"/>
<linearGradient id="L36" gradientUnits="userSpaceOnUse" x1="-23.63" y1="0" x2="23.63" y2="0"><stop offset="0" stop-color="#00f070" stop-opacity="0"/><stop offset="0.22" stop-color="#0ef249"/><stop offset="0.5" stop-color="#20f418"/><stop offset="1" stop-color="#68ff00"/></linearGradient><ellipse rx="25.63" ry="13" transform="translate(1256.5,301.5) rotate(83.93)" fill="#0c9000" opacity="0.22" filter="url(#b2)"/><ellipse rx="23.63" ry="11" transform="translate(1256.5,301.5) rotate(83.93)" fill="url(#L36)" filter="url(#b1)"/>
<linearGradient id="L37" gradientUnits="userSpaceOnUse" x1="-18.83" y1="0" x2="18.83" y2="0"><stop offset="0" stop-color="#00f070" stop-opacity="0"/><stop offset="0.22" stop-color="#0ef249"/><stop offset="0.5" stop-color="#20f418"/><stop offset="1" stop-color="#68ff00"/></linearGradient><ellipse rx="20.83" ry="12" transform="translate(1288.5,293.5) rotate(79.29)" fill="#0c9000" opacity="0.22" filter="url(#b2)"/><ellipse rx="18.83" ry="10" transform="translate(1288.5,293.5) rotate(79.29)" fill="url(#L37)" filter="url(#b1)"/>
<linearGradient id="L38" gradientUnits="userSpaceOnUse" x1="-17.26" y1="0" x2="17.26" y2="0"><stop offset="0" stop-color="#00f070" stop-opacity="0"/><stop offset="0.22" stop-color="#0ef249"/><stop offset="0.5" stop-color="#20f418"/><stop offset="1" stop-color="#68ff00"/></linearGradient><ellipse rx="19.26" ry="11" transform="translate(1229,289) rotate(100.01)" fill="#0c9000" opacity="0.22" filter="url(#b2)"/><ellipse rx="17.26" ry="9" transform="translate(1229,289) rotate(100.01)" fill="url(#L38)" filter="url(#b1)"/>
</g>
<path d="M1137.5,337.5L1106.75,356.25" stroke="#1a1aee" stroke-width="1.5"/><path d="M1096.5,362.5L1105.13,353.61L1108.36,358.9Z" fill="#1a1aee"/>
<path d="M1374,326L1406.85,339.07" stroke="#18cc18" stroke-width="1.5"/><path d="M1418,343.5L1405.7,341.95L1408,336.18Z" fill="#18cc18"/>
<text x="1124.8" y="376.7" class="ax" style="fill:#1a1aee;font-size:34px">X</text>
<text x="1410.4" y="335.3" class="ax" style="fill:#18cc18;font-size:34px">Y</text>
<rect x="1421.6" y="20.9" width="10.2" height="133.3" fill="url(#jet)"/>
<text x="1450.3" y="32.4" class="cb">0</text>
<text x="1440.6" y="158" class="cb">-45</text>
<!-- panel d -->
<path d="M40.2,668.5L310.5,747.8L310.5,754.4L40.2,675.1Z" fill="#1f5416"/><path d="M310.5,747.8L498.9,635L498.9,641.6L310.5,754.4Z" fill="#2d6b1d"/><g transform="matrix(-0.57091,0.34182,-0.81909,-0.24030,498.9,635)"><use href="#pat3"/></g><path d="M40.2,668.5L310.5,747.8L498.9,635" fill="none" stroke="#173f10" stroke-width="1"/>
<clipPath id="cld"><path d="M143,678C140.17,672.17 141.67,659 140,648C138.33,637 137.5,624.17 133,612C128.5,599.83 117.33,585.67 113,575C108.67,564.33 107,555.83 107,548C107,540.17 109.17,533 113,528C116.83,523 124.33,519.67 130,518C135.67,516.33 143.67,520.17 147,518C150.33,515.83 147.33,508.33 150,505C152.67,501.67 158,498.33 163,498C168,497.67 175,501.83 180,503C185,504.17 187.5,501.33 193,505C198.5,508.67 209.33,527.17 213,525C216.67,522.83 213.33,499.5 215,492C216.67,484.5 219.33,481.67 223,480C226.67,478.33 233,485.67 237,482C241,478.33 242.83,463.33 247,458C251.17,452.67 258.67,453.83 262,450C265.33,446.17 263.5,439.33 267,435C270.5,430.67 277.5,424.83 283,424C288.5,423.17 295.17,425.33 300,430C304.83,434.67 309.5,443.33 312,452C314.5,460.67 312.83,473.67 315,482C317.17,490.33 322,494.83 325,502C328,509.17 328.33,521.17 333,525C337.67,528.83 347.33,526.17 353,525C358.67,523.83 360.83,520 367,518C373.17,516 383.67,513 390,513C396.33,513 400.5,514.83 405,518C409.5,521.17 414.17,525.83 417,532C419.83,538.17 422.33,546.67 422,555C421.67,563.33 418.17,573.67 415,582C411.83,590.33 407.17,598.33 403,605C398.83,611.67 396,615.83 390,622C384,628.17 369.83,635.33 367,642C364.17,648.67 370.5,654.83 373,662C375.5,669.17 383,680.83 382,685C381,689.17 372.33,688.17 367,687C361.67,685.83 355.67,678.33 350,678C344.33,677.67 338,683.83 333,685C328,686.17 324.33,683.33 320,685C315.67,686.67 312,692.17 307,695C302,697.83 295,702.5 290,702C285,701.5 281.5,694.83 277,692C272.5,689.17 267.5,685 263,685C258.5,685 254.33,689.83 250,692C245.67,694.17 242,697.83 237,698C232,698.17 225,693.83 220,693C215,692.17 210.83,695.5 207,693C203.17,690.5 202,680.17 197,678C192,675.83 183.67,679.17 177,680C170.33,680.83 162.67,683.33 157,683C151.33,682.67 145.83,683.83 143,678Z"/></clipPath>
<g clip-path="url(#cld)">
<rect x="102" y="419" width="325" height="288" fill="url(#based)"/>
<linearGradient id="L39" gradientUnits="userSpaceOnUse" x1="-33.12" y1="0" x2="33.12" y2="0"><stop offset="0" stop-color="#28f000" stop-opacity="0"/><stop offset="0.22" stop-color="#6ef800"/><stop offset="0.4" stop-color="#a8ff00"/><stop offset="0.65" stop-color="#f8ff00"/><stop offset="1" stop-color="#ffff00"/></linearGradient><ellipse rx="35.12" ry="17" transform="translate(374,532) rotate(-28.89)" fill="#0c9000" opacity="0.22" filter="url(#b2)"/><ellipse rx="33.12" ry="15" transform="translate(374,532) rotate(-28.89)" fill="url(#L39)" filter="url(#b1)"/>
<linearGradient id="L40" gradientUnits="userSpaceOnUse" x1="-31.08" y1="0" x2="31.08" y2="0"><stop offset="0" stop-color="#00f080" stop-opacity="0"/><stop offset="0.22" stop-color="#12f24f"/><stop offset="0.5" stop-color="#28f410"/><stop offset="1" stop-color="#a8ff00"/></linearGradient><ellipse rx="33.08" ry="16" transform="translate(334.5,554) rotate(-64.26)" fill="#0c9000" opacity="0.22" filter="url(#b2)"/><ellipse rx="31.08" ry="14" transform="translate(334.5,554) rotate(-64.26)" fill="url(#L40)" filter="url(#b1)"/>
<linearGradient id="L41" gradientUnits="userSpaceOnUse" x1="-69.18" y1="0" x2="69.18" y2="0"><stop offset="0" stop-color="#20f010" stop-opacity="0"/><stop offset="0.22" stop-color="#4ff604"/><stop offset="0.3" stop-color="#60f800"/><stop offset="0.48" stop-color="#d0ff00"/><stop offset="0.6" stop-color="#ffff00"/><stop offset="0.8" stop-color="#fff000"/><stop offset="0.92" stop-color="#ffa000"/><stop offset="1" stop-color="#ff5000"/></linearGradient><ellipse rx="71.18" ry="30" transform="translate(292,491) rotate(-94.14)" fill="#0c9000" opacity="0.22" filter="url(#b2)"/><ellipse rx="69.18" ry="28" transform="translate(292,491) rotate(-94.14)" fill="url(#L41)" filter="url(#b1)"/>
<linearGradient id="L42" gradientUnits="userSpaceOnUse" x1="-51.62" y1="0" x2="51.62" y2="0"><stop offset="0" stop-color="#28f000" stop-opacity="0"/><stop offset="0.22" stop-color="#6ef800"/><stop offset="0.4" stop-color="#a8ff00"/><stop offset="0.65" stop-color="#f8ff00"/><stop offset="1" stop-color="#ffff00"/></linearGradient><ellipse rx="53.62" ry="20" transform="translate(189,532) rotate(-135.78)" fill="#0c9000" opacity="0.22" filter="url(#b2)"/><ellipse rx="51.62" ry="18" transform="translate(189,532) rotate(-135.78)" fill="url(#L42)" filter="url(#b1)"/>
<linearGradient id="L43" gradientUnits="userSpaceOnUse" x1="-45.61" y1="0" x2="45.61" y2="0"><stop offset="0" stop-color="#28f000" stop-opacity="0"/><stop offset="0.22" stop-color="#6ef800"/><stop offset="0.4" stop-color="#a8ff00"/><stop offset="0.65" stop-color="#f8ff00"/><stop offset="1" stop-color="#ffff00"/></linearGradient><ellipse rx="47.61" ry="21" transform="translate(209,541) rotate(-127.87)" fill="#0c9000" opacity="0.22" filter="url(#b2)"/><ellipse rx="45.61" ry="19" transform="translate(209,541) rotate(-127.87)" fill="url(#L43)" filter="url(#b1)"/>
<linearGradient id="L44" gradientUnits="userSpaceOnUse" x1="-43.17" y1="0" x2="43.17" y2="0"><stop offset="0" stop-color="#28f000" stop-opacity="0"/><stop offset="0.22" stop-color="#6ef800"/><stop offset="0.4" stop-color="#a8ff00"/><stop offset="0.65" stop-color="#f8ff00"/><stop offset="1" stop-color="#ffff00"/></linearGradient><ellipse rx="45.17" ry="16" transform="translate(236,521) rotate(-103.39)" fill="#0c9000" opacity="0.22" filter="url(#b2)"/><ellipse rx="43.17" ry="14" transform="translate(236,521) rotate(-103.39)" fill="url(#L44)" filter="url(#b1)"/>
<linearGradient id="L45" gradientUnits="userSpaceOnUse" x1="-62.58" y1="0" x2="62.58" y2="0"><stop offset="0" stop-color="#20f010" stop-opacity="0"/><stop offset="0.22" stop-color="#4ff604"/><stop offset="0.3" stop-color="#60f800"/><stop offset="0.5" stop-color="#d8ff00"/><stop offset="0.62" stop-color="#ffff00"/><stop offset="0.85" stop-color="#fff000"/><stop offset="1" stop-color="#ffa800"/></linearGradient><ellipse rx="64.58" ry="29" transform="translate(267.5,510) rotate(-97.81)" fill="#0c9000" opacity="0.22" filter="url(#b2)"/><ellipse rx="62.58" ry="27" transform="translate(267.5,510) rotate(-97.81)" fill="url(#L45)" filter="url(#b1)"/>
<linearGradient id="L46" gradientUnits="userSpaceOnUse" x1="-40.92" y1="0" x2="40.92" y2="0"><stop offset="0" stop-color="#10f030" stop-opacity="0"/><stop offset="0.22" stop-color="#2ff419"/><stop offset="0.45" stop-color="#50f800"/><stop offset="0.78" stop-color="#d0ff00"/><stop offset="1" stop-color="#ffff00"/></linearGradient><ellipse rx="42.92" ry="25" transform="translate(254,547.5) rotate(-122.52)" fill="#0c9000" opacity="0.22" filter="url(#b2)"/><ellipse rx="40.92" ry="23" transform="translate(254,547.5) rotate(-122.52)" fill="url(#L46)" filter="url(#b1)"/>
<linearGradient id="L47" gradientUnits="userSpaceOnUse" x1="-44.13" y1="0" x2="44.13" y2="0"><stop offset="0" stop-color="#10f030" stop-opacity="0"/><stop offset="0.22" stop-color="#2ff419"/><stop offset="0.45" stop-color="#50f800"/><stop offset="0.78" stop-color="#d0ff00"/><stop offset="1" stop-color="#ffff00"/></linearGradient><ellipse rx="46.13" ry="20" transform="translate(312,564.5) rotate(-70.13)" fill="#0c9000" opacity="0.22" filter="url(#b2)"/><ellipse rx="44.13" ry="18" transform="translate(312,564.5) rotate(-70.13)" fill="url(#L47)" filter="url(#b1)"/>
<linearGradient id="L48" gradientUnits="userSpaceOnUse" x1="-66.61" y1="-0.83" x2="64.4" y2="0.44"><stop offset="0" stop-color="#20f010" stop-opacity="0"/><stop offset="0.22" stop-color="#50f800"/><stop offset="0.36" stop-color="#d8ff00"/><stop offset="0.46" stop-color="#ffff00"/><stop offset="0.6" stop-color="#fff000"/><stop offset="0.72" stop-color="#ffa000"/><stop offset="0.84" stop-color="#ff4800"/><stop offset="1" stop-color="#ff2c00"/></linearGradient><ellipse rx="74.2" ry="48" transform="translate(372,587) rotate(-36.55)" fill="#0c9000" opacity="0.22" filter="url(#b2)"/><ellipse rx="72.2" ry="46" transform="translate(372,587) rotate(-36.55)" fill="url(#L48)" filter="url(#b1)"/>
<linearGradient id="L49" gradientUnits="userSpaceOnUse" x1="-78.52" y1="1.5" x2="74.55" y2="-0.39"><stop offset="0" stop-color="#20f010" stop-opacity="0"/><stop offset="0.22" stop-color="#50f800"/><stop offset="0.36" stop-color="#d8ff00"/><stop offset="0.46" stop-color="#ffff00"/><stop offset="0.6" stop-color="#fff000"/><stop offset="0.72" stop-color="#ffa000"/><stop offset="0.84" stop-color="#ff4800"/><stop offset="1" stop-color="#ff2c00"/></linearGradient><ellipse rx="85.97" ry="48" transform="translate(171,576.5) rotate(-150.38)" fill="#0c9000" opacity="0.22" filter="url(#b2)"/><ellipse rx="83.97" ry="46" transform="translate(171,576.5) rotate(-150.38)" fill="url(#L49)" filter="url(#b1)"/>
<linearGradient id="L50" gradientUnits="userSpaceOnUse" x1="-46.58" y1="0" x2="46.58" y2="0"><stop offset="0" stop-color="#10f030" stop-opacity="0"/><stop offset="0.22" stop-color="#2ff419"/><stop offset="0.45" stop-color="#50f800"/><stop offset="0.78" stop-color="#d0ff00"/><stop offset="1" stop-color="#ffff00"/></linearGradient><ellipse rx="48.58" ry="28" transform="translate(226,590.5) rotate(-119.59)" fill="#0c9000" opacity="0.22" filter="url(#b2)"/><ellipse rx="46.58" ry="26" transform="translate(226,590.5) rotate(-119.59)" fill="url(#L50)" filter="url(#b1)"/>
<ellipse rx="16" ry="16" transform="translate(236,635) rotate(0)" fill="url(#spC)" opacity="1"/>
<linearGradient id="L51" gradientUnits="userSpaceOnUse" x1="-34.44" y1="0" x2="34.44" y2="0"><stop offset="0" stop-color="#00f080" stop-opacity="0"/><stop offset="0.22" stop-color="#12f24f"/><stop offset="0.5" stop-color="#28f410"/><stop offset="1" stop-color="#a8ff00"/></linearGradient><ellipse rx="36.44" ry="21" transform="translate(325,614.5) rotate(-62.32)" fill="#0c9000" opacity="0.22" filter="url(#b2)"/><ellipse rx="34.44" ry="19" transform="translate(325,614.5) rotate(-62.32)" fill="url(#L51)" filter="url(#b1)"/>
<linearGradient id="L52" gradientUnits="userSpaceOnUse" x1="-34.82" y1="0" x2="34.82" y2="0"><stop offset="0" stop-color="#10f030" stop-opacity="0"/><stop offset="0.22" stop-color="#2ff419"/><stop offset="0.45" stop-color="#50f800"/><stop offset="0.78" stop-color="#d0ff00"/><stop offset="1" stop-color="#ffff00"/></linearGradient><ellipse rx="36.82" ry="18" transform="translate(246.5,609.5) rotate(-105.83)" fill="#0c9000" opacity="0.22" filter="url(#b2)"/><ellipse rx="34.82" ry="16" transform="translate(246.5,609.5) rotate(-105.83)" fill="url(#L52)" filter="url(#b1)"/>
<linearGradient id="L53" gradientUnits="userSpaceOnUse" x1="-53.58" y1="0" x2="53.58" y2="0"><stop offset="0" stop-color="#00f0c0" stop-opacity="0"/><stop offset="0.22" stop-color="#17f04b"/><stop offset="0.3" stop-color="#20f020"/><stop offset="0.7" stop-color="#c0ff00"/><stop offset="1" stop-color="#ffff00"/></linearGradient><ellipse rx="55.58" ry="18" transform="translate(268,626.5) rotate(-93.21)" fill="#0c9000" opacity="0.22" filter="url(#b2)"/><ellipse rx="53.58" ry="16" transform="translate(268,626.5) rotate(-93.21)" fill="url(#L53)" filter="url(#b1)"/>
<linearGradient id="L54" gradientUnits="userSpaceOnUse" x1="-36.5" y1="0" x2="36.5" y2="0"><stop offset="0" stop-color="#00f0b0" stop-opacity="0"/><stop offset="0.22" stop-color="#07f078"/><stop offset="0.5" stop-color="#10f030"/><stop offset="1" stop-color="#50fa00"/></linearGradient><ellipse rx="38.5" ry="24" transform="translate(182,646) rotate(-170.54)" fill="#0c9000" opacity="0.22" filter="url(#b2)"/><ellipse rx="36.5" ry="22" transform="translate(182,646) rotate(-170.54)" fill="url(#L54)" filter="url(#b1)"/>
<linearGradient id="L55" gradientUnits="userSpaceOnUse" x1="-31.89" y1="0" x2="31.89" y2="0"><stop offset="0" stop-color="#00f0b0" stop-opacity="0"/><stop offset="0.22" stop-color="#07f078"/><stop offset="0.5" stop-color="#10f030"/><stop offset="1" stop-color="#50fa00"/></linearGradient><ellipse rx="33.89" ry="24" transform="translate(176,661) rotate(138.81)" fill="#0c9000" opacity="0.22" filter="url(#b2)"/><ellipse rx="31.89" ry="22" transform="translate(176,661) rotate(138.81)" fill="url(#L55)" filter="url(#b1)"/>
<linearGradient id="L56" gradientUnits="userSpaceOnUse" x1="-25.61" y1="0" x2="25.61" y2="0"><stop offset="0" stop-color="#00f0b0" stop-opacity="0"/><stop offset="0.22" stop-color="#07f078"/><stop offset="0.5" stop-color="#10f030"/><stop offset="1" stop-color="#50fa00"/></linearGradient><ellipse rx="27.61" ry="22" transform="translate(224,670) rotate(128.66)" fill="#0c9000" opacity="0.22" filter="url(#b2)"/><ellipse rx="25.61" ry="20" transform="translate(224,670) rotate(128.66)" fill="url(#L56)" filter="url(#b1)"/>
<linearGradient id="L57" gradientUnits="userSpaceOnUse" x1="-33.87" y1="0" x2="33.87" y2="0"><stop offset="0" stop-color="#00f0b0" stop-opacity="0"/><stop offset="0.22" stop-color="#07f078"/><stop offset="0.5" stop-color="#10f030"/><stop offset="1" stop-color="#50fa00"/></linearGradient><ellipse rx="35.87" ry="18" transform="translate(362.5,657) rotate(58.89)" fill="#0c9000" opacity="0.22" filter="url(#b2)"/><ellipse rx="33.87" ry="16" transform="translate(362.5,657) rotate(58.89)" fill="url(#L57)" filter="url(#b1)"/>
<ellipse rx="12" ry="10" transform="translate(360,636) rotate(0)" fill="url(#spC)" opacity="1"/>
<linearGradient id="L58" gradientUnits="userSpaceOnUse" x1="-44.9" y1="0" x2="44.9" y2="0"><stop offset="0" stop-color="#00f080" stop-opacity="0"/><stop offset="0.22" stop-color="#12f24f"/><stop offset="0.5" stop-color="#28f410"/><stop offset="1" stop-color="#a8ff00"/></linearGradient><ellipse rx="46.9" ry="23" transform="translate(298,647.5) rotate(-82.32)" fill="#0c9000" opacity="0.22" filter="url(#b2)"/><ellipse rx="44.9" ry="21" transform="translate(298,647.5) rotate(-82.32)" fill="url(#L58)" filter="url(#b1)"/>
<ellipse rx="14" ry="18" transform="translate(275,672) rotate(0)" fill="url(#spC)" opacity="1"/>
<linearGradient id="L59" gradientUnits="userSpaceOnUse" x1="-18.34" y1="0" x2="18.34" y2="0"><stop offset="0" stop-color="#00f0b0" stop-opacity="0"/><stop offset="0.22" stop-color="#07f078"/><stop offset="0.5" stop-color="#10f030"/><stop offset="1" stop-color="#50fa00"/></linearGradient><ellipse rx="20.34" ry="13" transform="translate(251.5,678) rotate(101)" fill="#0c9000" opacity="0.22" filter="url(#b2)"/><ellipse rx="18.34" ry="11" transform="translate(251.5,678) rotate(101)" fill="url(#L59)" filter="url(#b1)"/>
<linearGradient id="L60" gradientUnits="userSpaceOnUse" x1="-23.14" y1="0" x2="23.14" y2="0"><stop offset="0" stop-color="#00f0b0" stop-opacity="0"/><stop offset="0.22" stop-color="#07f078"/><stop offset="0.5" stop-color="#10f030"/><stop offset="1" stop-color="#50fa00"/></linearGradient><ellipse rx="25.14" ry="15" transform="translate(332.5,663) rotate(83.8)" fill="#0c9000" opacity="0.22" filter="url(#b2)"/><ellipse rx="23.14" ry="13" transform="translate(332.5,663) rotate(83.8)" fill="url(#L60)" filter="url(#b1)"/>
</g>
<path d="M166.4,712.4L134.94,730.91" stroke="#1a1aee" stroke-width="1.5"/><path d="M124.6,737L133.37,728.24L136.51,733.59Z" fill="#1a1aee"/>
<path d="M402.8,700.3L435.91,713.16" stroke="#18cc18" stroke-width="1.5"/><path d="M447.1,717.5L434.79,716.05L437.04,710.27Z" fill="#18cc18"/>
<text x="154" y="749.7" class="ax" style="fill:#1a1aee;font-size:34px">X</text>
<text x="439.2" y="707.9" class="ax" style="fill:#18cc18;font-size:34px">Y</text>
<rect x="461.1" y="417.9" width="10.3" height="133.9" fill="url(#jet)"/>
<text x="490" y="429.6" class="cb">0</text>
<text x="480.3" y="555" class="cb">-45</text>
<!-- panel e -->
<path d="M513.2,671L783.5,750.3L783.5,756.9L513.2,677.6Z" fill="#1f5416"/><path d="M783.5,750.3L972.7,637.5L972.7,644.1L783.5,756.9Z" fill="#2d6b1d"/><g transform="matrix(-0.57333,0.34182,-0.81909,-0.24030,972.7,637.5)"><use href="#pat3"/></g><path d="M513.2,671L783.5,750.3L972.7,637.5" fill="none" stroke="#173f10" stroke-width="1"/>
<clipPath id="cle"><path d="M657,703C654,700.17 657.33,690.83 655,685C652.67,679.17 648.33,673.5 643,668C637.67,662.5 628.5,659.17 623,652C617.5,644.83 611.83,634 610,625C608.17,616 611.67,606.33 612,598C612.33,589.67 614.5,583.33 612,575C609.5,566.67 600.33,556.33 597,548C593.67,539.67 591.83,531.67 592,525C592.17,518.33 594.5,512.17 598,508C601.5,503.83 608.83,501.67 613,500C617.17,498.33 620.67,500.5 623,498C625.33,495.5 624.17,488.33 627,485C629.83,481.67 634.5,478 640,478C645.5,478 653.33,481.67 660,485C666.67,488.33 674.5,496.33 680,498C685.5,499.67 690.17,499.33 693,495C695.83,490.67 695.33,477.83 697,472C698.67,466.17 699.67,461.17 703,460C706.33,458.83 713.83,469.17 717,465C720.17,460.83 719.33,442.5 722,435C724.67,427.5 728.83,422.83 733,420C737.17,417.17 743,419.67 747,418C751,416.33 753.17,410.5 757,410C760.83,409.5 766.5,410.83 770,415C773.5,419.17 776,425.5 778,435C780,444.5 780,464.83 782,472C784,479.17 788.17,472 790,478C791.83,484 790.17,502.33 793,508C795.83,513.67 802.5,513.67 807,512C811.5,510.33 813.33,502 820,498C826.67,494 839.17,489 847,488C854.83,487 861.5,488.67 867,492C872.5,495.33 876.67,502 880,508C883.33,514 887,520.17 887,528C887,535.83 882,546.67 880,555C878,563.33 877.17,570.83 875,578C872.83,585.17 866.17,593 867,598C867.83,603 877,603.5 880,608C883,612.5 885.5,618.83 885,625C884.5,631.17 881.17,638.83 877,645C872.83,651.17 864.5,658.17 860,662C855.5,665.83 850.83,664.67 850,668C849.17,671.33 856.67,679.67 855,682C853.33,684.33 845.83,682.67 840,682C834.17,681.33 825.5,679.17 820,678C814.5,676.83 808.67,673.5 807,675C805.33,676.5 812.33,685.83 810,687C807.67,688.17 798.5,683.5 793,682C787.5,680.5 782,677.17 777,678C772,678.83 767,684.67 763,687C759,689.33 756.33,692.83 753,692C749.67,691.17 746.33,683.17 743,682C739.67,680.83 736.83,683.17 733,685C729.17,686.83 723.83,693.5 720,693C716.17,692.5 714.5,682.17 710,682C705.5,681.83 699.17,688.67 693,692C686.83,695.33 679,700.17 673,702C667,703.83 660,705.83 657,703Z"/></clipPath>
<g clip-path="url(#cle)">
<rect x="587" y="405" width="305" height="303" fill="url(#basee)"/>
<linearGradient id="L61" gradientUnits="userSpaceOnUse" x1="-42.71" y1="0" x2="42.71" y2="0"><stop offset="0" stop-color="#28f000" stop-opacity="0"/><stop offset="0.22" stop-color="#6ef800"/><stop offset="0.4" stop-color="#a8ff00"/><stop offset="0.65" stop-color="#f8ff00"/><stop offset="1" stop-color="#ffff00"/></linearGradient><ellipse rx="44.71" ry="20" transform="translate(834.5,515.5) rotate(-38.35)" fill="#0c9000" opacity="0.22" filter="url(#b2)"/><ellipse rx="42.71" ry="18" transform="translate(834.5,515.5) rotate(-38.35)" fill="url(#L61)" filter="url(#b1)"/>
<linearGradient id="L62" gradientUnits="userSpaceOnUse" x1="-45.02" y1="0" x2="45.02" y2="0"><stop offset="0" stop-color="#28f000" stop-opacity="0"/><stop offset="0.22" stop-color="#6ef800"/><stop offset="0.4" stop-color="#a8ff00"/><stop offset="0.65" stop-color="#f8ff00"/><stop offset="1" stop-color="#ffff00"/></linearGradient><ellipse rx="47.02" ry="20" transform="translate(662,509.5) rotate(-150.02)" fill="#0c9000" opacity="0.22" filter="url(#b2)"/><ellipse rx="45.02" ry="18" transform="translate(662,509.5) rotate(-150.02)" fill="url(#L62)" filter="url(#b1)"/>
<linearGradient id="L63" gradientUnits="userSpaceOnUse" x1="-59.52" y1="0" x2="59.52" y2="0"><stop offset="0" stop-color="#20f010" stop-opacity="0"/><stop offset="0.22" stop-color="#4ff604"/><stop offset="0.3" stop-color="#60f800"/><stop offset="0.5" stop-color="#f0ff00"/><stop offset="0.7" stop-color="#ffe000"/><stop offset="0.85" stop-color="#ff9800"/><stop offset="1" stop-color="#ff5800"/></linearGradient><ellipse rx="61.52" ry="26" transform="translate(767.5,468.5) rotate(-91.44)" fill="#0c9000" opacity="0.22" filter="url(#b2)"/><ellipse rx="59.52" ry="24" transform="translate(767.5,468.5) rotate(-91.44)" fill="url(#L63)" filter="url(#b1)"/>
<linearGradient id="L64" gradientUnits="userSpaceOnUse" x1="-24.82" y1="0" x2="24.82" y2="0"><stop offset="0" stop-color="#28f000" stop-opacity="0"/><stop offset="0.22" stop-color="#6ef800"/><stop offset="0.4" stop-color="#a8ff00"/><stop offset="0.65" stop-color="#f8ff00"/><stop offset="1" stop-color="#ffff00"/></linearGradient><ellipse rx="26.82" ry="10" transform="translate(783,497.5) rotate(-80.73)" fill="#0c9000" opacity="0.22" filter="url(#b2)"/><ellipse rx="24.82" ry="8" transform="translate(783,497.5) rotate(-80.73)" fill="url(#L64)" filter="url(#b1)"/>
<linearGradient id="L65" gradientUnits="userSpaceOnUse" x1="-64.5" y1="0" x2="64.5" y2="0"><stop offset="0" stop-color="#20f010" stop-opacity="0"/><stop offset="0.22" stop-color="#58f702"/><stop offset="0.25" stop-color="#60f800"/><stop offset="0.42" stop-color="#f0ff00"/><stop offset="0.55" stop-color="#fff000"/><stop offset="0.7" stop-color="#ffa800"/><stop offset="0.85" stop-color="#ff4800"/><stop offset="1" stop-color="#ff2800"/></linearGradient><ellipse rx="66.5" ry="29" transform="translate(741,480.5) rotate(-90)" fill="#0c9000" opacity="0.22" filter="url(#b2)"/><ellipse rx="64.5" ry="27" transform="translate(741,480.5) rotate(-90)" fill="url(#L65)" filter="url(#b1)"/>
<linearGradient id="L66" gradientUnits="userSpaceOnUse" x1="-36.28" y1="0" x2="36.28" y2="0"><stop offset="0" stop-color="#28f000" stop-opacity="0"/><stop offset="0.22" stop-color="#6ef800"/><stop offset="0.4" stop-color="#a8ff00"/><stop offset="0.65" stop-color="#f8ff00"/><stop offset="1" stop-color="#ffff00"/></linearGradient><ellipse rx="38.28" ry="14" transform="translate(708.5,496) rotate(-97.13)" fill="#0c9000" opacity="0.22" filter="url(#b2)"/><ellipse rx="36.28" ry="12" transform="translate(708.5,496) rotate(-97.13)" fill="url(#L66)" filter="url(#b1)"/>
<linearGradient id="L67" gradientUnits="userSpaceOnUse" x1="-28.43" y1="0" x2="28.43" y2="0"><stop offset="0" stop-color="#00f080" stop-opacity="0"/><stop offset="0.22" stop-color="#12f24f"/><stop offset="0.5" stop-color="#28f410"/><stop offset="1" stop-color="#a8ff00"/></linearGradient><ellipse rx="30.43" ry="15" transform="translate(689,529) rotate(-140.71)" fill="#0c9000" opacity="0.22" filter="url(#b2)"/><ellipse rx="28.43" ry="13" transform="translate(689,529) rotate(-140.71)" fill="url(#L67)" filter="url(#b1)"/>
<linearGradient id="L68" gradientUnits="userSpaceOnUse" x1="-34.63" y1="0" x2="34.63" y2="0"><stop offset="0" stop-color="#10f030" stop-opacity="0"/><stop offset="0.22" stop-color="#2ff419"/><stop offset="0.45" stop-color="#50f800"/><stop offset="0.78" stop-color="#d0ff00"/><stop offset="1" stop-color="#ffff00"/></linearGradient><ellipse rx="36.63" ry="23" transform="translate(720.5,530) rotate(-107.65)" fill="#0c9000" opacity="0.22" filter="url(#b2)"/><ellipse rx="34.63" ry="21" transform="translate(720.5,530) rotate(-107.65)" fill="url(#L68)" filter="url(#b1)"/>
<linearGradient id="L69" gradientUnits="userSpaceOnUse" x1="-30.44" y1="0" x2="30.44" y2="0"><stop offset="0" stop-color="#10f030" stop-opacity="0"/><stop offset="0.22" stop-color="#2ff419"/><stop offset="0.45" stop-color="#50f800"/><stop offset="0.78" stop-color="#d0ff00"/><stop offset="1" stop-color="#ffff00"/></linearGradient><ellipse rx="32.44" ry="15" transform="translate(773.5,533.5) rotate(-75.74)" fill="#0c9000" opacity="0.22" filter="url(#b2)"/><ellipse rx="30.44" ry="13" transform="translate(773.5,533.5) rotate(-75.74)" fill="url(#L69)" filter="url(#b1)"/>
<linearGradient id="L70" gradientUnits="userSpaceOnUse" x1="-33.32" y1="0" x2="33.32" y2="0"><stop offset="0" stop-color="#10f030" stop-opacity="0"/><stop offset="0.22" stop-color="#2ff419"/><stop offset="0.45" stop-color="#50f800"/><stop offset="0.78" stop-color="#d0ff00"/><stop offset="1" stop-color="#ffff00"/></linearGradient><ellipse rx="35.32" ry="17" transform="translate(787.5,543) rotate(-64.2)" fill="#0c9000" opacity="0.22" filter="url(#b2)"/><ellipse rx="33.32" ry="15" transform="translate(787.5,543) rotate(-64.2)" fill="url(#L70)" filter="url(#b1)"/>
<linearGradient id="L71" gradientUnits="userSpaceOnUse" x1="-68.64" y1="-0.57" x2="67.23" y2="0.71"><stop offset="0" stop-color="#20f010" stop-opacity="0"/><stop offset="0.22" stop-color="#50f800"/><stop offset="0.33" stop-color="#d8ff00"/><stop offset="0.42" stop-color="#ffff00"/><stop offset="0.55" stop-color="#fff000"/><stop offset="0.68" stop-color="#ffa000"/><stop offset="0.8" stop-color="#ff4400"/><stop offset="1" stop-color="#ff2400"/></linearGradient><ellipse rx="76.26" ry="40" transform="translate(835.5,560) rotate(-39.26)" fill="#0c9000" opacity="0.22" filter="url(#b2)"/><ellipse rx="74.26" ry="38" transform="translate(835.5,560) rotate(-39.26)" fill="url(#L71)" filter="url(#b1)"/>
<linearGradient id="L72" gradientUnits="userSpaceOnUse" x1="-65.91" y1="0.84" x2="64.51" y2="-1.05"><stop offset="0" stop-color="#20f010" stop-opacity="0"/><stop offset="0.22" stop-color="#50f800"/><stop offset="0.33" stop-color="#d8ff00"/><stop offset="0.42" stop-color="#ffff00"/><stop offset="0.55" stop-color="#fff000"/><stop offset="0.68" stop-color="#ffa000"/><stop offset="0.8" stop-color="#ff4400"/><stop offset="1" stop-color="#ff2400"/></linearGradient><ellipse rx="73.5" ry="40" transform="translate(644.5,555.5) rotate(-143.53)" fill="#0c9000" opacity="0.22" filter="url(#b2)"/><ellipse rx="71.5" ry="38" transform="translate(644.5,555.5) rotate(-143.53)" fill="url(#L72)" filter="url(#b1)"/>
<linearGradient id="L73" gradientUnits="userSpaceOnUse" x1="-37.88" y1="0" x2="37.88" y2="0"><stop offset="0" stop-color="#10f030" stop-opacity="0"/><stop offset="0.22" stop-color="#2ff419"/><stop offset="0.45" stop-color="#50f800"/><stop offset="0.78" stop-color="#d0ff00"/><stop offset="1" stop-color="#ffff00"/></linearGradient><ellipse rx="39.88" ry="21" transform="translate(691.5,576) rotate(-112.5)" fill="#0c9000" opacity="0.22" filter="url(#b2)"/><ellipse rx="37.88" ry="19" transform="translate(691.5,576) rotate(-112.5)" fill="url(#L73)" filter="url(#b1)"/>
<linearGradient id="L74" gradientUnits="userSpaceOnUse" x1="-34.23" y1="0" x2="34.23" y2="0"><stop offset="0" stop-color="#00f080" stop-opacity="0"/><stop offset="0.22" stop-color="#12f24f"/><stop offset="0.5" stop-color="#28f410"/><stop offset="1" stop-color="#a8ff00"/></linearGradient><ellipse rx="36.23" ry="14" transform="translate(717,594) rotate(-96.71)" fill="#0c9000" opacity="0.22" filter="url(#b2)"/><ellipse rx="34.23" ry="12" transform="translate(717,594) rotate(-96.71)" fill="url(#L74)" filter="url(#b1)"/>
<linearGradient id="L75" gradientUnits="userSpaceOnUse" x1="-37.85" y1="0" x2="37.85" y2="0"><stop offset="0" stop-color="#10f030" stop-opacity="0"/><stop offset="0.22" stop-color="#2ff419"/><stop offset="0.45" stop-color="#50f800"/><stop offset="0.78" stop-color="#d0ff00"/><stop offset="1" stop-color="#ffff00"/></linearGradient><ellipse rx="39.85" ry="21" transform="translate(743,591) rotate(-102.2)" fill="#0c9000" opacity="0.22" filter="url(#b2)"/><ellipse rx="37.85" ry="19" transform="translate(743,591) rotate(-102.2)" fill="url(#L75)" filter="url(#b1)"/>
<linearGradient id="L76" gradientUnits="userSpaceOnUse" x1="-31.5" y1="0" x2="31.5" y2="0"><stop offset="0" stop-color="#10f030" stop-opacity="0"/><stop offset="0.22" stop-color="#2ff419"/><stop offset="0.45" stop-color="#50f800"/><stop offset="0.78" stop-color="#d0ff00"/><stop offset="1" stop-color="#ffff00"/></linearGradient><ellipse rx="33.5" ry="23" transform="translate(791.5,597.5) rotate(-54.04)" fill="#0c9000" opacity="0.22" filter="url(#b2)"/><ellipse rx="31.5" ry="21" transform="translate(791.5,597.5) rotate(-54.04)" fill="url(#L76)" filter="url(#b1)"/>
<linearGradient id="L77" gradientUnits="userSpaceOnUse" x1="-41.77" y1="0" x2="41.77" y2="0"><stop offset="0" stop-color="#10f030" stop-opacity="0"/><stop offset="0.22" stop-color="#2ff419"/><stop offset="0.45" stop-color="#50f800"/><stop offset="0.78" stop-color="#d0ff00"/><stop offset="1" stop-color="#ffff00"/></linearGradient><ellipse rx="43.77" ry="26" transform="translate(649,620) rotate(-168.96)" fill="#0c9000" opacity="0.22" filter="url(#b2)"/><ellipse rx="41.77" ry="24" transform="translate(649,620) rotate(-168.96)" fill="url(#L77)" filter="url(#b1)"/>
<linearGradient id="L78" gradientUnits="userSpaceOnUse" x1="-44.94" y1="0" x2="44.94" y2="0"><stop offset="0" stop-color="#10f030" stop-opacity="0"/><stop offset="0.22" stop-color="#2ff419"/><stop offset="0.45" stop-color="#50f800"/><stop offset="0.78" stop-color="#d0ff00"/><stop offset="1" stop-color="#ffff00"/></linearGradient><ellipse rx="46.94" ry="26" transform="translate(846,627) rotate(-20.85)" fill="#0c9000" opacity="0.22" filter="url(#b2)"/><ellipse rx="44.94" ry="24" transform="translate(846,627) rotate(-20.85)" fill="url(#L78)" filter="url(#b1)"/>
<ellipse rx="12" ry="14" transform="translate(698,640) rotate(0)" fill="url(#spC)" opacity="1"/>
<ellipse rx="10" ry="13" transform="translate(808,650) rotate(0)" fill="url(#spC)" opacity="1"/>
<linearGradient id="L79" gradientUnits="userSpaceOnUse" x1="-21.93" y1="0" x2="21.93" y2="0"><stop offset="0" stop-color="#00f0b0" stop-opacity="0"/><stop offset="0.22" stop-color="#07f078"/><stop offset="0.5" stop-color="#10f030"/><stop offset="1" stop-color="#50fa00"/></linearGradient><ellipse rx="23.93" ry="22" transform="translate(655,656) rotate(133.15)" fill="#0c9000" opacity="0.22" filter="url(#b2)"/><ellipse rx="21.93" ry="20" transform="translate(655,656) rotate(133.15)" fill="url(#L79)" filter="url(#b1)"/>
<linearGradient id="L80" gradientUnits="userSpaceOnUse" x1="-37.58" y1="0" x2="37.58" y2="0"><stop offset="0" stop-color="#00f0b0" stop-opacity="0"/><stop offset="0.22" stop-color="#07f078"/><stop offset="0.5" stop-color="#10f030"/><stop offset="1" stop-color="#50fa00"/></linearGradient><ellipse rx="39.58" ry="20" transform="translate(680.5,671.5) rotate(123.06)" fill="#0c9000" opacity="0.22" filter="url(#b2)"/><ellipse rx="37.58" ry="18" transform="translate(680.5,671.5) rotate(123.06)" fill="url(#L80)" filter="url(#b1)"/>
<linearGradient id="L81" gradientUnits="userSpaceOnUse" x1="-28.43" y1="0" x2="28.43" y2="0"><stop offset="0" stop-color="#00f0b0" stop-opacity="0"/><stop offset="0.22" stop-color="#07f078"/><stop offset="0.5" stop-color="#10f030"/><stop offset="1" stop-color="#50fa00"/></linearGradient><ellipse rx="30.43" ry="18" transform="translate(829.5,664) rotate(34.25)" fill="#0c9000" opacity="0.22" filter="url(#b2)"/><ellipse rx="28.43" ry="16" transform="translate(829.5,664) rotate(34.25)" fill="url(#L81)" filter="url(#b1)"/>
<linearGradient id="L82" gradientUnits="userSpaceOnUse" x1="-36.59" y1="0" x2="36.59" y2="0"><stop offset="0" stop-color="#00f080" stop-opacity="0"/><stop offset="0.22" stop-color="#12f24f"/><stop offset="0.5" stop-color="#28f410"/><stop offset="1" stop-color="#a8ff00"/></linearGradient><ellipse rx="38.59" ry="19" transform="translate(783.5,636.5) rotate(-86.08)" fill="#0c9000" opacity="0.22" filter="url(#b2)"/><ellipse rx="36.59" ry="17" transform="translate(783.5,636.5) rotate(-86.08)" fill="url(#L82)" filter="url(#b1)"/>
<linearGradient id="L83" gradientUnits="userSpaceOnUse" x1="-35.01" y1="0" x2="35.01" y2="0"><stop offset="0" stop-color="#00f080" stop-opacity="0"/><stop offset="0.22" stop-color="#12f24f"/><stop offset="0.5" stop-color="#28f410"/><stop offset="1" stop-color="#a8ff00"/></linearGradient><ellipse rx="37.01" ry="15" transform="translate(757,643) rotate(-88.36)" fill="#0c9000" opacity="0.22" filter="url(#b2)"/><ellipse rx="35.01" ry="13" transform="translate(757,643) rotate(-88.36)" fill="url(#L83)" filter="url(#b1)"/>
<ellipse rx="16" ry="22" transform="translate(731,664) rotate(0)" fill="url(#spC)" opacity="1"/>
<linearGradient id="L84" gradientUnits="userSpaceOnUse" x1="-22.94" y1="0" x2="22.94" y2="0"><stop offset="0" stop-color="#00f0b0" stop-opacity="0"/><stop offset="0.22" stop-color="#07f078"/><stop offset="0.5" stop-color="#10f030"/><stop offset="1" stop-color="#50fa00"/></linearGradient><ellipse rx="24.94" ry="12" transform="translate(728.5,672) rotate(106.46)" fill="#0c9000" opacity="0.22" filter="url(#b2)"/><ellipse rx="22.94" ry="10" transform="translate(728.5,672) rotate(106.46)" fill="url(#L84)" filter="url(#b1)"/>
<linearGradient id="L85" gradientUnits="userSpaceOnUse" x1="-17.51" y1="0" x2="17.51" y2="0"><stop offset="0" stop-color="#00f0b0" stop-opacity="0"/><stop offset="0.22" stop-color="#07f078"/><stop offset="0.5" stop-color="#10f030"/><stop offset="1" stop-color="#50fa00"/></linearGradient><ellipse rx="19.51" ry="11" transform="translate(764.5,672.5) rotate(91.64)" fill="#0c9000" opacity="0.22" filter="url(#b2)"/><ellipse rx="17.51" ry="9" transform="translate(764.5,672.5) rotate(91.64)" fill="url(#L85)" filter="url(#b1)"/>
</g>
<path d="M637.9,713.4L607.77,730.96" stroke="#1a1aee" stroke-width="1.5"/><path d="M597.4,737L606.21,728.28L609.33,733.64Z" fill="#1a1aee"/>
<path d="M876.6,700.8L908.9,713.2" stroke="#18cc18" stroke-width="1.5"/><path d="M920.1,717.5L907.79,716.09L910.01,710.31Z" fill="#18cc18"/>
<text x="627.8" y="749.7" class="ax" style="fill:#1a1aee;font-size:34px">X</text>
<text x="911.7" y="707.9" class="ax" style="fill:#18cc18;font-size:34px">Y</text>
<rect x="931.9" y="417.9" width="10.5" height="133.9" fill="url(#jet)"/>
<text x="960.8" y="429.6" class="cb">0</text>
<text x="950.9" y="555" class="cb">-45</text>
<!-- panel f -->
<path d="M1020.8,670L1291.1,749.3L1291.1,755.9L1020.8,676.6Z" fill="#1f5416"/><path d="M1291.1,749.3L1480.3,636.5L1480.3,643.1L1291.1,755.9Z" fill="#2d6b1d"/><g transform="matrix(-0.57333,0.34182,-0.81909,-0.24030,1480.3,636.5)"><use href="#pat3"/></g><path d="M1020.8,670L1291.1,749.3L1480.3,636.5" fill="none" stroke="#173f10" stroke-width="1"/>
<clipPath id="clf"><path d="M1183,693C1180.33,688.83 1178,675.5 1177,668C1176,660.5 1180.33,654 1177,648C1173.67,642 1162.67,639.67 1157,632C1151.33,624.33 1144.67,611.5 1143,602C1141.33,592.5 1148.67,584.5 1147,575C1145.33,565.5 1136.33,553.33 1133,545C1129.67,536.67 1127.17,530.83 1127,525C1126.83,519.17 1129.33,513 1132,510C1134.67,507 1139.5,507 1143,507C1146.5,507 1151.33,512 1153,510C1154.67,508 1151.33,498.33 1153,495C1154.67,491.67 1157.33,489.67 1163,490C1168.67,490.33 1179.17,494 1187,497C1194.83,500 1205.67,508.83 1210,508C1214.33,507.17 1211.33,495.83 1213,492C1214.67,488.17 1217.67,485 1220,485C1222.33,485 1225.33,496.5 1227,492C1228.67,487.5 1228.17,467.5 1230,458C1231.83,448.5 1234.33,440.83 1238,435C1241.67,429.17 1247.17,423.5 1252,423C1256.83,422.5 1263.5,430 1267,432C1270.5,434 1270.33,430 1273,435C1275.67,440 1280.67,452.5 1283,462C1285.33,471.5 1286.17,483.67 1287,492C1287.83,500.33 1286.33,509 1288,512C1289.67,515 1294.67,508.33 1297,510C1299.33,511.67 1298.17,521.5 1302,522C1305.83,522.5 1312.5,516.17 1320,513C1327.5,509.83 1340.67,503 1347,503C1353.33,503 1355.33,508.83 1358,513C1360.67,517.17 1363,522.17 1363,528C1363,533.83 1359.67,541.83 1358,548C1356.33,554.17 1352.67,561 1353,565C1353.33,569 1360,567.5 1360,572C1360,576.5 1352.67,587 1353,592C1353.33,597 1362,597.67 1362,602C1362,606.33 1357.83,612 1353,618C1348.17,624 1337.33,633 1333,638C1328.67,643 1327.17,644.67 1327,648C1326.83,651.33 1333.17,655.67 1332,658C1330.83,660.33 1321.17,659.67 1320,662C1318.83,664.33 1326.67,670.67 1325,672C1323.33,673.33 1314.67,669.5 1310,670C1305.33,670.5 1301.5,673 1297,675C1292.5,677 1288,682.5 1283,682C1278,681.5 1271.33,674 1267,672C1262.67,670 1260.33,668.33 1257,670C1253.67,671.67 1250.17,681.17 1247,682C1243.83,682.83 1240.83,674.83 1238,675C1235.17,675.17 1233,682.5 1230,683C1227,683.5 1223.83,677.33 1220,678C1216.17,678.67 1211.5,684.5 1207,687C1202.5,689.5 1197,692 1193,693C1189,694 1185.67,697.17 1183,693Z"/></clipPath>
<g clip-path="url(#clf)">
<rect x="1122" y="418" width="246" height="280" fill="url(#basef)"/>
<linearGradient id="L86" gradientUnits="userSpaceOnUse" x1="-30.22" y1="0" x2="30.22" y2="0"><stop offset="0" stop-color="#10f030" stop-opacity="0"/><stop offset="0.22" stop-color="#2ff419"/><stop offset="0.45" stop-color="#50f800"/><stop offset="0.78" stop-color="#d0ff00"/><stop offset="1" stop-color="#ffff00"/></linearGradient><ellipse rx="32.22" ry="15" transform="translate(1330.5,524) rotate(-38.96)" fill="#0c9000" opacity="0.22" filter="url(#b2)"/><ellipse rx="30.22" ry="13" transform="translate(1330.5,524) rotate(-38.96)" fill="url(#L86)" filter="url(#b1)"/>
<linearGradient id="L87" gradientUnits="userSpaceOnUse" x1="-46.7" y1="0" x2="46.7" y2="0"><stop offset="0" stop-color="#10f030" stop-opacity="0"/><stop offset="0.22" stop-color="#2ff419"/><stop offset="0.45" stop-color="#50f800"/><stop offset="0.78" stop-color="#d0ff00"/><stop offset="1" stop-color="#ffff00"/></linearGradient><ellipse rx="48.7" ry="19" transform="translate(1190,524.5) rotate(-142.39)" fill="#0c9000" opacity="0.22" filter="url(#b2)"/><ellipse rx="46.7" ry="17" transform="translate(1190,524.5) rotate(-142.39)" fill="url(#L87)" filter="url(#b1)"/>
<linearGradient id="L88" gradientUnits="userSpaceOnUse" x1="-55.08" y1="0" x2="55.08" y2="0"><stop offset="0" stop-color="#20f010" stop-opacity="0"/><stop offset="0.22" stop-color="#43f407"/><stop offset="0.4" stop-color="#60f800"/><stop offset="0.6" stop-color="#f0ff00"/><stop offset="0.85" stop-color="#fff000"/><stop offset="1" stop-color="#ffc000"/></linearGradient><ellipse rx="57.08" ry="17" transform="translate(1265,485) rotate(-86.88)" fill="#0c9000" opacity="0.22" filter="url(#b2)"/><ellipse rx="55.08" ry="15" transform="translate(1265,485) rotate(-86.88)" fill="url(#L88)" filter="url(#b1)"/>
<linearGradient id="L89" gradientUnits="userSpaceOnUse" x1="-72.03" y1="0" x2="72.03" y2="0"><stop offset="0" stop-color="#10f030" stop-opacity="0"/><stop offset="0.22" stop-color="#33f613"/><stop offset="0.3" stop-color="#40f808"/><stop offset="0.48" stop-color="#d0ff00"/><stop offset="0.58" stop-color="#ffff00"/><stop offset="0.74" stop-color="#fff000"/><stop offset="0.86" stop-color="#ffa000"/><stop offset="0.95" stop-color="#ff4800"/><stop offset="1" stop-color="#ff3000"/></linearGradient><ellipse rx="74.03" ry="33" transform="translate(1254,493) rotate(-91.59)" fill="#0c9000" opacity="0.22" filter="url(#b2)"/><ellipse rx="72.03" ry="31" transform="translate(1254,493) rotate(-91.59)" fill="url(#L89)" filter="url(#b1)"/>
<linearGradient id="L90" gradientUnits="userSpaceOnUse" x1="-24.25" y1="0" x2="24.25" y2="0"><stop offset="0" stop-color="#00f0a0" stop-opacity="0"/><stop offset="0.22" stop-color="#0bf26b"/><stop offset="0.5" stop-color="#18f428"/><stop offset="1" stop-color="#80ff00"/></linearGradient><ellipse rx="26.25" ry="10" transform="translate(1222.5,509) rotate(-98.3)" fill="#0c9000" opacity="0.22" filter="url(#b2)"/><ellipse rx="24.25" ry="8" transform="translate(1222.5,509) rotate(-98.3)" fill="url(#L90)" filter="url(#b1)"/>
<linearGradient id="L91" gradientUnits="userSpaceOnUse" x1="-31.89" y1="0" x2="31.89" y2="0"><stop offset="0" stop-color="#00f0a0" stop-opacity="0"/><stop offset="0.22" stop-color="#0bf26b"/><stop offset="0.5" stop-color="#18f428"/><stop offset="1" stop-color="#80ff00"/></linearGradient><ellipse rx="33.89" ry="17" transform="translate(1233.5,537) rotate(-103.6)" fill="#0c9000" opacity="0.22" filter="url(#b2)"/><ellipse rx="31.89" ry="15" transform="translate(1233.5,537) rotate(-103.6)" fill="url(#L91)" filter="url(#b1)"/>
<linearGradient id="L92" gradientUnits="userSpaceOnUse" x1="-25.71" y1="0" x2="25.71" y2="0"><stop offset="0" stop-color="#00f0a0" stop-opacity="0"/><stop offset="0.22" stop-color="#0bf26b"/><stop offset="0.5" stop-color="#18f428"/><stop offset="1" stop-color="#80ff00"/></linearGradient><ellipse rx="27.71" ry="13" transform="translate(1274,538) rotate(-76.5)" fill="#0c9000" opacity="0.22" filter="url(#b2)"/><ellipse rx="25.71" ry="11" transform="translate(1274,538) rotate(-76.5)" fill="url(#L92)" filter="url(#b1)"/>
<linearGradient id="L93" gradientUnits="userSpaceOnUse" x1="-28.23" y1="0" x2="28.23" y2="0"><stop offset="0" stop-color="#00f0a0" stop-opacity="0"/><stop offset="0.22" stop-color="#0bf26b"/><stop offset="0.5" stop-color="#18f428"/><stop offset="1" stop-color="#80ff00"/></linearGradient><ellipse rx="30.23" ry="15" transform="translate(1291,546) rotate(-67.07)" fill="#0c9000" opacity="0.22" filter="url(#b2)"/><ellipse rx="28.23" ry="13" transform="translate(1291,546) rotate(-67.07)" fill="url(#L93)" filter="url(#b1)"/>
<linearGradient id="L94" gradientUnits="userSpaceOnUse" x1="-56.59" y1="0.13" x2="56.59" y2="-0.13"><stop offset="0" stop-color="#10f030" stop-opacity="0"/><stop offset="0.22" stop-color="#33f613"/><stop offset="0.3" stop-color="#40f808"/><stop offset="0.5" stop-color="#c8ff00"/><stop offset="0.62" stop-color="#ffff00"/><stop offset="0.85" stop-color="#fff000"/><stop offset="1" stop-color="#ffb000"/></linearGradient><ellipse rx="64.24" ry="33" transform="translate(1325,565) rotate(-46.3)" fill="#0c9000" opacity="0.22" filter="url(#b2)"/><ellipse rx="62.24" ry="31" transform="translate(1325,565) rotate(-46.3)" fill="url(#L94)" filter="url(#b1)"/>
<linearGradient id="L95" gradientUnits="userSpaceOnUse" x1="-59.09" y1="0.22" x2="59.09" y2="-0.22"><stop offset="0" stop-color="#10f030" stop-opacity="0"/><stop offset="0.22" stop-color="#33f613"/><stop offset="0.3" stop-color="#40f808"/><stop offset="0.5" stop-color="#c8ff00"/><stop offset="0.62" stop-color="#ffff00"/><stop offset="0.85" stop-color="#fff000"/><stop offset="1" stop-color="#ffb000"/></linearGradient><ellipse rx="66.75" ry="33" transform="translate(1172.5,559) rotate(-137.19)" fill="#0c9000" opacity="0.22" filter="url(#b2)"/><ellipse rx="64.75" ry="31" transform="translate(1172.5,559) rotate(-137.19)" fill="url(#L95)" filter="url(#b1)"/>
<linearGradient id="L96" gradientUnits="userSpaceOnUse" x1="-32.13" y1="0" x2="32.13" y2="0"><stop offset="0" stop-color="#00f0a0" stop-opacity="0"/><stop offset="0.22" stop-color="#0bf26b"/><stop offset="0.5" stop-color="#18f428"/><stop offset="1" stop-color="#80ff00"/></linearGradient><ellipse rx="34.13" ry="18" transform="translate(1205.5,579) rotate(-110.97)" fill="#0c9000" opacity="0.22" filter="url(#b2)"/><ellipse rx="32.13" ry="16" transform="translate(1205.5,579) rotate(-110.97)" fill="url(#L96)" filter="url(#b1)"/>
<linearGradient id="L97" gradientUnits="userSpaceOnUse" x1="-33.24" y1="0" x2="33.24" y2="0"><stop offset="0" stop-color="#00f0a0" stop-opacity="0"/><stop offset="0.22" stop-color="#0ef268"/><stop offset="0.5" stop-color="#20f420"/><stop offset="0.8" stop-color="#b0ff00"/><stop offset="1" stop-color="#f0ff00"/></linearGradient><ellipse rx="35.24" ry="17" transform="translate(1247,589) rotate(-96.91)" fill="#0c9000" opacity="0.22" filter="url(#b2)"/><ellipse rx="33.24" ry="15" transform="translate(1247,589) rotate(-96.91)" fill="url(#L97)" filter="url(#b1)"/>
<linearGradient id="L98" gradientUnits="userSpaceOnUse" x1="-35.7" y1="0" x2="35.7" y2="0"><stop offset="0" stop-color="#00f0a0" stop-opacity="0"/><stop offset="0.22" stop-color="#0bf26b"/><stop offset="0.5" stop-color="#18f428"/><stop offset="1" stop-color="#80ff00"/></linearGradient><ellipse rx="37.7" ry="18" transform="translate(1330.5,587.5) rotate(-37.03)" fill="#0c9000" opacity="0.22" filter="url(#b2)"/><ellipse rx="35.7" ry="16" transform="translate(1330.5,587.5) rotate(-37.03)" fill="url(#L98)" filter="url(#b1)"/>
<linearGradient id="L99" gradientUnits="userSpaceOnUse" x1="-31.75" y1="0" x2="31.75" y2="0"><stop offset="0" stop-color="#00f0a0" stop-opacity="0"/><stop offset="0.22" stop-color="#0bf26b"/><stop offset="0.5" stop-color="#18f428"/><stop offset="1" stop-color="#80ff00"/></linearGradient><ellipse rx="33.75" ry="21" transform="translate(1334.5,612) rotate(-26.16)" fill="#0c9000" opacity="0.22" filter="url(#b2)"/><ellipse rx="31.75" ry="19" transform="translate(1334.5,612) rotate(-26.16)" fill="url(#L99)" filter="url(#b1)"/>
<linearGradient id="L100" gradientUnits="userSpaceOnUse" x1="-34.44" y1="0" x2="34.44" y2="0"><stop offset="0" stop-color="#00f0a0" stop-opacity="0"/><stop offset="0.22" stop-color="#0bf26b"/><stop offset="0.5" stop-color="#18f428"/><stop offset="1" stop-color="#80ff00"/></linearGradient><ellipse rx="36.44" ry="26" transform="translate(1173.5,610) rotate(-152.32)" fill="#0c9000" opacity="0.22" filter="url(#b2)"/><ellipse rx="34.44" ry="24" transform="translate(1173.5,610) rotate(-152.32)" fill="url(#L100)" filter="url(#b1)"/>
<linearGradient id="L101" gradientUnits="userSpaceOnUse" x1="-25" y1="0" x2="25" y2="0"><stop offset="0" stop-color="#00f0b0" stop-opacity="0"/><stop offset="0.22" stop-color="#07f078"/><stop offset="0.5" stop-color="#10f030"/><stop offset="1" stop-color="#50fa00"/></linearGradient><ellipse rx="27" ry="22" transform="translate(1185,640) rotate(180)" fill="#0c9000" opacity="0.22" filter="url(#b2)"/><ellipse rx="25" ry="20" transform="translate(1185,640) rotate(180)" fill="url(#L101)" filter="url(#b1)"/>
<ellipse rx="24" ry="30" transform="translate(1234,648) rotate(0)" fill="url(#spC)" opacity="1"/>
<ellipse rx="14" ry="20" transform="translate(1322,652) rotate(0)" fill="url(#spC)" opacity="1"/>
<linearGradient id="L102" gradientUnits="userSpaceOnUse" x1="-38.66" y1="0" x2="38.66" y2="0"><stop offset="0" stop-color="#00f0b0" stop-opacity="0"/><stop offset="0.22" stop-color="#07f078"/><stop offset="0.5" stop-color="#10f030"/><stop offset="1" stop-color="#50fa00"/></linearGradient><ellipse rx="40.66" ry="23" transform="translate(1278.5,636.5) rotate(-84.81)" fill="#0c9000" opacity="0.22" filter="url(#b2)"/><ellipse rx="38.66" ry="21" transform="translate(1278.5,636.5) rotate(-84.81)" fill="url(#L102)" filter="url(#b1)"/>
<linearGradient id="L103" gradientUnits="userSpaceOnUse" x1="-36.24" y1="0" x2="36.24" y2="0"><stop offset="0" stop-color="#00f0b0" stop-opacity="0"/><stop offset="0.22" stop-color="#07f078"/><stop offset="0.5" stop-color="#10f030"/><stop offset="1" stop-color="#50fa00"/></linearGradient><ellipse rx="38.24" ry="25" transform="translate(1204,666) rotate(129.4)" fill="#0c9000" opacity="0.22" filter="url(#b2)"/><ellipse rx="36.24" ry="23" transform="translate(1204,666) rotate(129.4)" fill="url(#L103)" filter="url(#b1)"/>
<linearGradient id="L104" gradientUnits="userSpaceOnUse" x1="-21.93" y1="0" x2="21.93" y2="0"><stop offset="0" stop-color="#00f0b0" stop-opacity="0"/><stop offset="0.22" stop-color="#07f078"/><stop offset="0.5" stop-color="#10f030"/><stop offset="1" stop-color="#50fa00"/></linearGradient><ellipse rx="23.93" ry="17" transform="translate(1315,656) rotate(46.85)" fill="#0c9000" opacity="0.22" filter="url(#b2)"/><ellipse rx="21.93" ry="15" transform="translate(1315,656) rotate(46.85)" fill="url(#L104)" filter="url(#b1)"/>
<ellipse rx="16" ry="22" transform="translate(1250,662) rotate(0)" fill="url(#spC)" opacity="1"/>
<ellipse rx="10" ry="16" transform="translate(1300,660) rotate(0)" fill="url(#spC)" opacity="1"/>
</g>
<path d="M1145.9,712.9L1114.5,731.01" stroke="#1a1aee" stroke-width="1.5"/><path d="M1104.1,737L1112.95,728.32L1116.04,733.69Z" fill="#1a1aee"/>
<path d="M1381.5,700.8L1414.57,713.27" stroke="#18cc18" stroke-width="1.5"/><path d="M1425.8,717.5L1413.48,716.17L1415.66,710.37Z" fill="#18cc18"/>
<text x="1133.5" y="749.7" class="ax" style="fill:#1a1aee;font-size:34px">X</text>
<text x="1418.7" y="707.9" class="ax" style="fill:#18cc18;font-size:34px">Y</text>
<rect x="1422.3" y="417.9" width="10.5" height="133.9" fill="url(#jet)"/>
<text x="1449.5" y="431.2" class="cb">5</text>
<text x="1438.4" y="552.4" class="cb">-40</text>
<text x="0.2" y="66.5" class="pl">(a)</text>
<text x="523.4" y="66.5" class="pl">(b)</text>
<text x="1046.9" y="66.1" class="pl">(c)</text>
<text x="0.2" y="431.1" class="pl">(d)</text>
<text x="559.8" y="440.3" class="pl">(e)</text>
<text x="1050.2" y="441.8" class="pl">(f)</text>
<text x="61.9" y="830.7" class="pl">(g)</text>
<text x="621.6" y="50.4" class="tt">RCS (dBsm)</text>
<path d="M420.8,491.5V507" stroke="#4ce04c" stroke-width="1.5"/><path d="M816,385.3h3.4" stroke="#666" stroke-width="1"/>
<clipPath id="plotclip"><rect x="256.6" y="792.4" width="836.8" height="356"/></clipPath>
<path d="M257.8,854.89H1092.2" stroke="#f01818" stroke-width="2.8" stroke-dasharray="12,13" fill="none"/>
<path d="M257.8,915H1092.2" stroke="#000" stroke-width="2.8" stroke-dasharray="12,13" fill="none"/>
<rect x="257.8" y="793.6" width="834.4" height="353.6" fill="none" stroke="#000" stroke-width="2.4"/>
<path d="M257.8,793.6h-8.4M1092.2,793.6h-8.4M257.8,813.24h-5M1092.2,813.24h-5M257.8,832.89h-5M1092.2,832.89h-5M257.8,852.53h-8.4M1092.2,852.53h-8.4M257.8,872.18h-5M1092.2,872.18h-5M257.8,891.82h-5M1092.2,891.82h-5M257.8,911.47h-8.4M1092.2,911.47h-8.4M257.8,931.11h-5M1092.2,931.11h-5M257.8,950.76h-5M1092.2,950.76h-5M257.8,970.4h-8.4M1092.2,970.4h-8.4M257.8,990.04h-5M1092.2,990.04h-5M257.8,1009.69h-5M1092.2,1009.69h-5M257.8,1029.33h-8.4M1092.2,1029.33h-8.4M257.8,1048.98h-5M1092.2,1048.98h-5M257.8,1068.62h-5M1092.2,1068.62h-5M257.8,1088.27h-8.4M1092.2,1088.27h-8.4M257.8,1107.91h-5M1092.2,1107.91h-5M257.8,1127.56h-5M1092.2,1127.56h-5M257.8,1147.2h-8.4M1092.2,1147.2h-8.4M257.8,1147.2v8.4M257.8,793.6v8.4M362.1,1147.2v5M362.1,793.6v5M466.4,1147.2v8.4M466.4,793.6v8.4M570.7,1147.2v5M570.7,793.6v5M675,1147.2v8.4M675,793.6v8.4M779.3,1147.2v5M779.3,793.6v5M883.6,1147.2v8.4M883.6,793.6v8.4M987.9,1147.2v5M987.9,793.6v5M1092.2,1147.2v8.4M1092.2,793.6v8.4" stroke="#000" stroke-width="2.2" fill="none"/>
<text x="244.8" y="804.2" text-anchor="end" class="tk">0</text>
<text x="244.8" y="863.13" text-anchor="end" class="tk">-3</text>
<text x="244.8" y="922.07" text-anchor="end" class="tk">-6</text>
<text x="244.8" y="981" text-anchor="end" class="tk">-9</text>
<text x="244.8" y="1039.93" text-anchor="end" class="tk">-12</text>
<text x="244.8" y="1098.87" text-anchor="end" class="tk">-15</text>
<text x="244.8" y="1157.8" text-anchor="end" class="tk">-18</text>
<text x="257.8" y="1188" text-anchor="middle" class="tk">8</text>
<text x="466.4" y="1188" text-anchor="middle" class="tk">9</text>
<text x="675" y="1188" text-anchor="middle" class="tk">10</text>
<text x="883.6" y="1188" text-anchor="middle" class="tk">11</text>
<text x="1092.2" y="1188" text-anchor="middle" class="tk">12</text>
<g clip-path="url(#plotclip)"><path d="M257.8,1153.09C264.75,1134.53 285.61,1071.54 299.52,1041.71C313.43,1011.88 327.33,991.91 341.24,974.13C355.15,956.35 369.05,944.63 382.96,935.04C396.87,925.45 410.77,921.71 424.68,916.57C438.59,911.43 452.49,908.95 466.4,904.2C480.31,899.45 494.21,893.95 508.12,888.09C522.03,882.23 535.93,874.37 549.84,869.03C563.75,863.7 577.65,860.23 591.56,856.07C605.47,851.91 619.37,847.49 633.28,844.09C647.19,840.68 661.09,837.96 675,835.64C688.91,833.31 702.81,832.07 716.72,830.14C730.63,828.21 744.53,825.39 758.44,824.05C772.35,822.71 786.25,821.76 800.16,822.08C814.07,822.41 827.97,823 841.88,826.01C855.79,829.03 869.69,834.39 883.6,840.16C897.51,845.92 911.41,852.76 925.32,860.59C939.23,868.41 953.13,876.86 967.04,887.11C980.95,897.36 994.85,907.67 1008.76,922.07C1022.67,936.48 1036.57,954.68 1050.48,973.54C1064.39,992.4 1085.25,1024.95 1092.2,1035.23" stroke="#000" stroke-width="2.5" fill="none"/><rect x="250.8" y="1146.09" width="14" height="14" fill="#000"/><rect x="292.52" y="1034.71" width="14" height="14" fill="#000"/><rect x="334.24" y="967.13" width="14" height="14" fill="#000"/><rect x="375.96" y="928.04" width="14" height="14" fill="#000"/><rect x="417.68" y="909.57" width="14" height="14" fill="#000"/><rect x="459.4" y="897.2" width="14" height="14" fill="#000"/><rect x="501.12" y="881.09" width="14" height="14" fill="#000"/><rect x="542.84" y="862.03" width="14" height="14" fill="#000"/><rect x="584.56" y="849.07" width="14" height="14" fill="#000"/><rect x="626.28" y="837.09" width="14" height="14" fill="#000"/><rect x="668" y="828.64" width="14" height="14" fill="#000"/><rect x="709.72" y="823.14" width="14" height="14" fill="#000"/><rect x="751.44" y="817.05" width="14" height="14" fill="#000"/><rect x="793.16" y="815.08" width="14" height="14" fill="#000"/><rect x="834.88" y="819.01" width="14" height="14" fill="#000"/><rect x="876.6" y="833.16" width="14" height="14" fill="#000"/><rect x="918.32" y="853.59" width="14" height="14" fill="#000"/><rect x="960.04" y="880.11" width="14" height="14" fill="#000"/><rect x="1001.76" y="915.07" width="14" height="14" fill="#000"/><rect x="1043.48" y="966.54" width="14" height="14" fill="#000"/><rect x="1085.2" y="1028.23" width="14" height="14" fill="#000"/></g>
<g clip-path="url(#plotclip)"><path d="M257.8,1054.09C264.75,1045.08 285.61,1016.96 299.52,1000.06C313.43,983.17 327.33,965.19 341.24,952.72C355.15,940.25 369.05,931.41 382.96,925.22C396.87,919.03 410.77,921.03 424.68,915.59C438.59,910.16 452.49,899.94 466.4,892.61C480.31,885.27 494.21,877.19 508.12,871.59C522.03,865.99 535.93,862.75 549.84,859.02C563.75,855.28 577.65,851.35 591.56,849.19C605.47,847.03 619.37,846.31 633.28,846.05C647.19,845.79 661.09,846.12 675,847.62C688.91,849.13 702.81,852.6 716.72,855.09C730.63,857.58 744.53,859.38 758.44,862.55C772.35,865.73 786.25,871.06 800.16,874.14C814.07,877.22 827.97,878.59 841.88,881.02C855.79,883.44 869.69,884.82 883.6,888.68C897.51,892.54 911.41,898.11 925.32,904.2C939.23,910.29 953.13,917.72 967.04,925.22C980.95,932.72 994.85,940.87 1008.76,949.18C1022.67,957.5 1036.57,965.13 1050.48,975.11C1064.39,985.1 1085.25,1003.44 1092.2,1009.1" stroke="#f01010" stroke-width="2.5" fill="none"/><circle cx="257.8" cy="1054.09" r="8.4" fill="#f01010"/><circle cx="299.52" cy="1000.06" r="8.4" fill="#f01010"/><circle cx="341.24" cy="952.72" r="8.4" fill="#f01010"/><circle cx="382.96" cy="925.22" r="8.4" fill="#f01010"/><circle cx="424.68" cy="915.59" r="8.4" fill="#f01010"/><circle cx="466.4" cy="892.61" r="8.4" fill="#f01010"/><circle cx="508.12" cy="871.59" r="8.4" fill="#f01010"/><circle cx="549.84" cy="859.02" r="8.4" fill="#f01010"/><circle cx="591.56" cy="849.19" r="8.4" fill="#f01010"/><circle cx="633.28" cy="846.05" r="8.4" fill="#f01010"/><circle cx="675" cy="847.62" r="8.4" fill="#f01010"/><circle cx="716.72" cy="855.09" r="8.4" fill="#f01010"/><circle cx="758.44" cy="862.55" r="8.4" fill="#f01010"/><circle cx="800.16" cy="874.14" r="8.4" fill="#f01010"/><circle cx="841.88" cy="881.02" r="8.4" fill="#f01010"/><circle cx="883.6" cy="888.68" r="8.4" fill="#f01010"/><circle cx="925.32" cy="904.2" r="8.4" fill="#f01010"/><circle cx="967.04" cy="925.22" r="8.4" fill="#f01010"/><circle cx="1008.76" cy="949.18" r="8.4" fill="#f01010"/><circle cx="1050.48" cy="975.11" r="8.4" fill="#f01010"/><circle cx="1092.2" cy="1009.1" r="8.4" fill="#f01010"/></g>
<g clip-path="url(#plotclip)"><path d="M257.8,1039.16C264.75,1030.81 285.61,1002.06 299.52,989.06C313.43,976.06 327.33,970.83 341.24,961.17C355.15,951.51 369.05,941.13 382.96,931.11C396.87,921.09 410.77,910.65 424.68,901.06C438.59,891.46 452.49,880.79 466.4,873.55C480.31,866.32 494.21,861.31 508.12,857.64C522.03,853.97 535.93,852.8 549.84,851.55C563.75,850.31 577.65,850.41 591.56,850.18C605.47,849.95 619.37,850.44 633.28,850.18C647.19,849.91 661.09,848.6 675,848.6C688.91,848.6 702.81,849.1 716.72,850.18C730.63,851.26 744.53,852.76 758.44,855.09C772.35,857.41 786.25,860.95 800.16,864.12C814.07,867.3 827.97,870.48 841.88,874.14C855.79,877.81 869.69,881.12 883.6,886.13C897.51,891.13 911.41,895.85 925.32,904.2C939.23,912.55 953.13,924.99 967.04,936.22C980.95,947.45 994.85,959.1 1008.76,971.58C1022.67,984.05 1036.57,997.18 1050.48,1011.06C1064.39,1024.95 1085.25,1047.57 1092.2,1054.87" stroke="#1010f0" stroke-width="2.5" fill="none"/><path d="M257.8,1028.53l9.5,16.6h-19.0Z" fill="#1010f0"/><path d="M299.52,978.44l9.5,16.6h-19.0Z" fill="#1010f0"/><path d="M341.24,950.54l9.5,16.6h-19.0Z" fill="#1010f0"/><path d="M382.96,920.49l9.5,16.6h-19.0Z" fill="#1010f0"/><path d="M424.68,890.43l9.5,16.6h-19.0Z" fill="#1010f0"/><path d="M466.4,862.93l9.5,16.6h-19.0Z" fill="#1010f0"/><path d="M508.12,847.02l9.5,16.6h-19.0Z" fill="#1010f0"/><path d="M549.84,840.93l9.5,16.6h-19.0Z" fill="#1010f0"/><path d="M591.56,839.55l9.5,16.6h-19.0Z" fill="#1010f0"/><path d="M633.28,839.55l9.5,16.6h-19.0Z" fill="#1010f0"/><path d="M675,837.98l9.5,16.6h-19.0Z" fill="#1010f0"/><path d="M716.72,839.55l9.5,16.6h-19.0Z" fill="#1010f0"/><path d="M758.44,844.46l9.5,16.6h-19.0Z" fill="#1010f0"/><path d="M800.16,853.5l9.5,16.6h-19.0Z" fill="#1010f0"/><path d="M841.88,863.52l9.5,16.6h-19.0Z" fill="#1010f0"/><path d="M883.6,875.5l9.5,16.6h-19.0Z" fill="#1010f0"/><path d="M925.32,893.57l9.5,16.6h-19.0Z" fill="#1010f0"/><path d="M967.04,925.59l9.5,16.6h-19.0Z" fill="#1010f0"/><path d="M1008.76,960.95l9.5,16.6h-19.0Z" fill="#1010f0"/><path d="M1050.48,1000.44l9.5,16.6h-19.0Z" fill="#1010f0"/><path d="M1092.2,1044.25l9.5,16.6h-19.0Z" fill="#1010f0"/></g>
<text x="687.3" y="1221.3" text-anchor="middle" class="axt">Frequency (GHz)</text>
<text transform="translate(186.8,977) rotate(-90)" text-anchor="middle" class="axt" style="font-size:43px">RCS (dBsm)</text>
<rect x="1117.5" y="828" width="327.5" height="140" fill="#000"/>
<rect x="1111.3" y="822" width="328.3" height="140" fill="#fff" stroke="#555" stroke-width="1"/>
<path d="M1114,849.4H1178.7" stroke="#000" stroke-width="2.4"/>
<rect x="1138.4" y="842.2" width="14.4" height="14.4" fill="#000"/>
<text x="1187" y="859.2" class="lg">theta=45 phi=90</text>
<path d="M1114,895H1178.7" stroke="#f01010" stroke-width="2.4"/>
<circle cx="1145.6" cy="895" r="8.4" fill="#f01010"/>
<text x="1187" y="904.8" class="lg">theta=45 phi=210</text>
<path d="M1114,940.6H1178.7" stroke="#1010f0" stroke-width="2.4"/>
<path d="M1145.6,929.72l10.2,17h-20.4Z" fill="#1010f0"/>
<text x="1187" y="950.4" class="lg">theta=45 phi=330</text>
</svg></body></html>
